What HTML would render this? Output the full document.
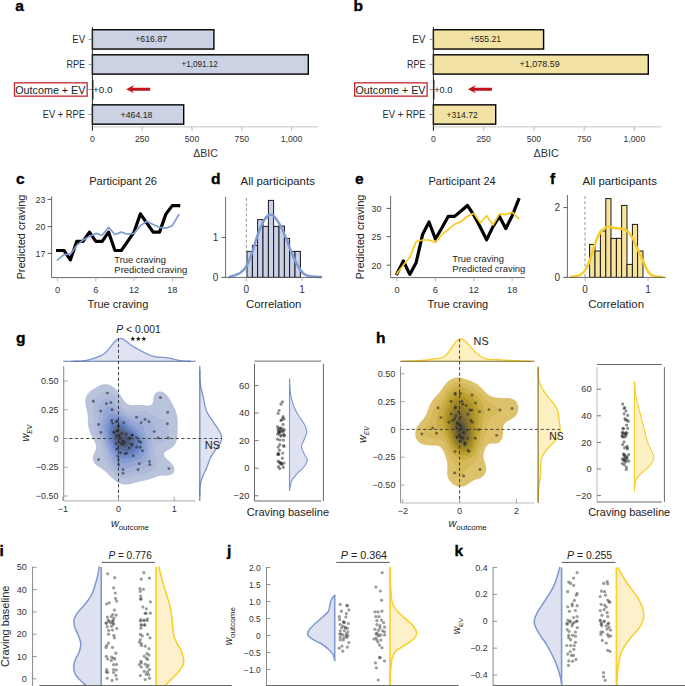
<!DOCTYPE html><html><head><meta charset="utf-8"><style>html,body{margin:0;padding:0;background:#fff;}body{width:685px;height:686px;overflow:hidden;}svg{display:block;}</style></head><body><svg width="685" height="686" viewBox="0 0 685 686" font-family='"Liberation Sans", sans-serif'><defs><clipPath id="c1"><rect x="63.70" y="366.00" width="131.80" height="134.90"/></clipPath><clipPath id="c2"><rect x="400.60" y="366.60" width="133.90" height="136.40"/></clipPath><clipPath id="c3"><rect x="0.00" y="540.00" width="685.00" height="146.00"/></clipPath></defs><text x="15.30" y="10.90" font-size="15.5" font-weight="bold" fill="#000" stroke="#000" stroke-width="0.35">a</text>
<line x1="92.40" y1="126.85" x2="318.09" y2="126.85" stroke="#c4c4c4" stroke-width="1.0"/>
<line x1="92.40" y1="126.85" x2="92.40" y2="130.80" stroke="#b0b0b0" stroke-width="0.9"/>
<text x="92.40" y="142.00" font-size="9.3" text-anchor="middle" fill="#333" textLength="4.81" lengthAdjust="spacingAndGlyphs">0</text>
<line x1="142.20" y1="126.85" x2="142.20" y2="130.80" stroke="#b0b0b0" stroke-width="0.9"/>
<text x="142.20" y="142.00" font-size="9.3" text-anchor="middle" fill="#333" textLength="14.43" lengthAdjust="spacingAndGlyphs">250</text>
<line x1="192.00" y1="126.85" x2="192.00" y2="130.80" stroke="#b0b0b0" stroke-width="0.9"/>
<text x="192.00" y="142.00" font-size="9.3" text-anchor="middle" fill="#333" textLength="14.43" lengthAdjust="spacingAndGlyphs">500</text>
<line x1="241.80" y1="126.85" x2="241.80" y2="130.80" stroke="#b0b0b0" stroke-width="0.9"/>
<text x="241.80" y="142.00" font-size="9.3" text-anchor="middle" fill="#333" textLength="14.43" lengthAdjust="spacingAndGlyphs">750</text>
<line x1="291.60" y1="126.85" x2="291.60" y2="130.80" stroke="#b0b0b0" stroke-width="0.9"/>
<text x="291.60" y="142.00" font-size="9.3" text-anchor="middle" fill="#333" textLength="21.64" lengthAdjust="spacingAndGlyphs">1,000</text>
<text x="193.15" y="157.00" font-size="10.9" fill="#333" textLength="24.70" lengthAdjust="spacingAndGlyphs">&#916;BIC</text>
<rect x="92.40" y="29.75" width="121.50" height="19.30" fill="#cbd2e3" stroke="#000" stroke-width="1.4"/>
<line x1="88.60" y1="39.40" x2="92.40" y2="39.40" stroke="#8a8a8a" stroke-width="0.9"/>
<rect x="92.40" y="54.80" width="215.90" height="19.30" fill="#cbd2e3" stroke="#000" stroke-width="1.4"/>
<line x1="88.60" y1="64.45" x2="92.40" y2="64.45" stroke="#8a8a8a" stroke-width="0.9"/>
<line x1="88.60" y1="89.50" x2="92.40" y2="89.50" stroke="#8a8a8a" stroke-width="0.9"/>
<rect x="92.40" y="104.85" width="91.30" height="19.30" fill="#cbd2e3" stroke="#000" stroke-width="1.4"/>
<line x1="88.60" y1="114.50" x2="92.40" y2="114.50" stroke="#8a8a8a" stroke-width="0.9"/>
<text x="72.25" y="42.90" font-size="10.4" fill="#2a2a2a" textLength="12.80" lengthAdjust="spacingAndGlyphs">EV</text>
<text x="66.45" y="67.95" font-size="10.4" fill="#2a2a2a" textLength="18.60" lengthAdjust="spacingAndGlyphs">RPE</text>
<text x="42.75" y="118.00" font-size="10.4" fill="#2a2a2a" textLength="42.10" lengthAdjust="spacingAndGlyphs">EV + RPE</text>
<line x1="92.75" y1="79.70" x2="92.75" y2="99.50" stroke="#000" stroke-width="1.3"/>
<line x1="92.40" y1="27.00" x2="92.40" y2="130.80" stroke="#2a2a2a" stroke-width="1.0"/>
<rect x="14.45" y="82.85" width="72.70" height="13.30" fill="none" stroke="#c4262e" stroke-width="1.3"/>
<text x="15.25" y="93.50" font-size="10.5" fill="#1a1a1a" textLength="70.20" lengthAdjust="spacingAndGlyphs">Outcome + EV</text>
<text x="135.25" y="42.40" font-size="8.7" fill="#222" textLength="31.90" lengthAdjust="spacingAndGlyphs">+616.87</text>
<text x="181.55" y="67.45" font-size="8.7" fill="#222" textLength="36.30" lengthAdjust="spacingAndGlyphs">+1,091.12</text>
<text x="120.55" y="117.50" font-size="8.7" fill="#222" textLength="31.90" lengthAdjust="spacingAndGlyphs">+464.18</text>
<text x="93.05" y="92.80" font-size="9.8" fill="#222" textLength="19.50" lengthAdjust="spacingAndGlyphs">+0.0</text>
<path d="M126.20 89.2 L134.20 85.1 L132.30 87.75 L150.20 87.75 L150.20 90.65 L132.30 90.65 L134.20 93.3 Z" fill="#c1121f" stroke="none" stroke-width="1"/>
<text x="353.60" y="10.90" font-size="15.5" font-weight="bold" fill="#000" stroke="#000" stroke-width="0.35">b</text>
<line x1="433.40" y1="126.85" x2="661.13" y2="126.85" stroke="#c4c4c4" stroke-width="1.0"/>
<line x1="433.40" y1="126.85" x2="433.40" y2="130.80" stroke="#b0b0b0" stroke-width="0.9"/>
<text x="433.40" y="142.00" font-size="9.3" text-anchor="middle" fill="#333" textLength="4.81" lengthAdjust="spacingAndGlyphs">0</text>
<line x1="483.65" y1="126.85" x2="483.65" y2="130.80" stroke="#b0b0b0" stroke-width="0.9"/>
<text x="483.65" y="142.00" font-size="9.3" text-anchor="middle" fill="#333" textLength="14.43" lengthAdjust="spacingAndGlyphs">250</text>
<line x1="533.90" y1="126.85" x2="533.90" y2="130.80" stroke="#b0b0b0" stroke-width="0.9"/>
<text x="533.90" y="142.00" font-size="9.3" text-anchor="middle" fill="#333" textLength="14.43" lengthAdjust="spacingAndGlyphs">500</text>
<line x1="584.15" y1="126.85" x2="584.15" y2="130.80" stroke="#b0b0b0" stroke-width="0.9"/>
<text x="584.15" y="142.00" font-size="9.3" text-anchor="middle" fill="#333" textLength="14.43" lengthAdjust="spacingAndGlyphs">750</text>
<line x1="634.40" y1="126.85" x2="634.40" y2="130.80" stroke="#b0b0b0" stroke-width="0.9"/>
<text x="634.40" y="142.00" font-size="9.3" text-anchor="middle" fill="#333" textLength="21.64" lengthAdjust="spacingAndGlyphs">1,000</text>
<text x="533.45" y="157.00" font-size="10.9" fill="#333" textLength="25.40" lengthAdjust="spacingAndGlyphs">&#916;BIC</text>
<rect x="433.40" y="29.75" width="110.20" height="19.30" fill="#f2e2a3" stroke="#000" stroke-width="1.4"/>
<line x1="429.60" y1="39.40" x2="433.40" y2="39.40" stroke="#8a8a8a" stroke-width="0.9"/>
<rect x="433.40" y="54.80" width="214.90" height="19.30" fill="#f2e2a3" stroke="#000" stroke-width="1.4"/>
<line x1="429.60" y1="64.45" x2="433.40" y2="64.45" stroke="#8a8a8a" stroke-width="0.9"/>
<line x1="429.60" y1="89.50" x2="433.40" y2="89.50" stroke="#8a8a8a" stroke-width="0.9"/>
<rect x="433.40" y="104.85" width="62.30" height="19.30" fill="#f2e2a3" stroke="#000" stroke-width="1.4"/>
<line x1="429.60" y1="114.50" x2="433.40" y2="114.50" stroke="#8a8a8a" stroke-width="0.9"/>
<text x="412.15" y="42.90" font-size="10.4" fill="#2a2a2a" textLength="13.30" lengthAdjust="spacingAndGlyphs">EV</text>
<text x="406.95" y="67.95" font-size="10.4" fill="#2a2a2a" textLength="18.50" lengthAdjust="spacingAndGlyphs">RPE</text>
<text x="382.55" y="118.00" font-size="10.4" fill="#2a2a2a" textLength="42.90" lengthAdjust="spacingAndGlyphs">EV + RPE</text>
<line x1="433.75" y1="79.70" x2="433.75" y2="99.50" stroke="#000" stroke-width="1.3"/>
<line x1="433.40" y1="27.00" x2="433.40" y2="130.80" stroke="#2a2a2a" stroke-width="1.0"/>
<rect x="354.65" y="82.85" width="72.50" height="13.30" fill="none" stroke="#c4262e" stroke-width="1.3"/>
<text x="355.55" y="93.50" font-size="10.5" fill="#1a1a1a" textLength="69.90" lengthAdjust="spacingAndGlyphs">Outcome + EV</text>
<text x="469.75" y="42.40" font-size="8.7" fill="#222" textLength="31.30" lengthAdjust="spacingAndGlyphs">+555.21</text>
<text x="519.45" y="67.45" font-size="8.7" fill="#222" textLength="40.20" lengthAdjust="spacingAndGlyphs">+1,078.59</text>
<text x="446.55" y="117.50" font-size="8.7" fill="#222" textLength="31.10" lengthAdjust="spacingAndGlyphs">+314.72</text>
<text x="434.15" y="92.80" font-size="9.8" fill="#222" textLength="18.40" lengthAdjust="spacingAndGlyphs">+0.0</text>
<path d="M467.90 89.2 L475.90 85.1 L474.00 87.75 L491.90 87.75 L491.90 90.65 L474.00 90.65 L475.90 93.3 Z" fill="#c1121f" stroke="none" stroke-width="1"/>
<text x="16.00" y="183.60" font-size="15.5" font-weight="bold" fill="#000" stroke="#000" stroke-width="0.35">c</text>
<text x="89.15" y="184.50" font-size="10.8" fill="#222" textLength="67.90" lengthAdjust="spacingAndGlyphs">Participant 26</text>
<line x1="51.60" y1="196.40" x2="51.60" y2="277.60" stroke="#5a5a5a" stroke-width="0.9"/>
<line x1="51.60" y1="277.60" x2="184.30" y2="277.60" stroke="#5a5a5a" stroke-width="0.9"/>
<line x1="47.60" y1="199.40" x2="51.60" y2="199.40" stroke="#444" stroke-width="0.9"/>
<text x="45.30" y="202.90" font-size="9.8" text-anchor="end" fill="#333" textLength="9.81" lengthAdjust="spacingAndGlyphs">23</text>
<line x1="47.60" y1="226.60" x2="51.60" y2="226.60" stroke="#444" stroke-width="0.9"/>
<text x="45.30" y="230.10" font-size="9.8" text-anchor="end" fill="#333" textLength="9.81" lengthAdjust="spacingAndGlyphs">20</text>
<line x1="47.60" y1="253.40" x2="51.60" y2="253.40" stroke="#444" stroke-width="0.9"/>
<text x="45.30" y="256.90" font-size="9.8" text-anchor="end" fill="#333" textLength="9.81" lengthAdjust="spacingAndGlyphs">17</text>
<line x1="57.60" y1="277.60" x2="57.60" y2="281.50" stroke="#b0b0b0" stroke-width="0.9"/>
<text x="57.60" y="292.70" font-size="9.9" text-anchor="middle" fill="#333" textLength="5.12" lengthAdjust="spacingAndGlyphs">0</text>
<line x1="95.82" y1="277.60" x2="95.82" y2="281.50" stroke="#b0b0b0" stroke-width="0.9"/>
<text x="95.82" y="292.70" font-size="9.9" text-anchor="middle" fill="#333" textLength="5.12" lengthAdjust="spacingAndGlyphs">6</text>
<line x1="134.04" y1="277.60" x2="134.04" y2="281.50" stroke="#b0b0b0" stroke-width="0.9"/>
<text x="134.04" y="292.70" font-size="9.9" text-anchor="middle" fill="#333" textLength="10.24" lengthAdjust="spacingAndGlyphs">12</text>
<line x1="172.26" y1="277.60" x2="172.26" y2="281.50" stroke="#b0b0b0" stroke-width="0.9"/>
<text x="172.26" y="292.70" font-size="9.9" text-anchor="middle" fill="#333" textLength="10.24" lengthAdjust="spacingAndGlyphs">18</text>
<text x="87.45" y="307.60" font-size="11.0" fill="#222" textLength="60.90" lengthAdjust="spacingAndGlyphs">True craving</text>
<text transform="translate(25.00 237.0) rotate(-90)" x="0" y="0" font-size="10.6" text-anchor="middle" fill="#222" textLength="85.0" lengthAdjust="spacingAndGlyphs">Predicted craving</text>
<path d="M57.60 250.50 L63.97 250.50 L70.34 259.90 L76.71 241.40 L83.08 241.40 L89.45 232.10 L95.82 241.40 L102.19 241.40 L108.56 232.10 L114.93 250.50 L121.30 250.50 L127.67 241.40 L134.04 232.10 L140.41 213.80 L146.78 223.00 L153.15 232.10 L159.52 232.10 L165.89 214.10 L172.26 205.60 L178.63 205.60" fill="none" stroke="#000" stroke-width="3.2" stroke-linejoin="round" stroke-linecap="square"/>
<path d="M57.60 259.90 L63.97 254.60 L70.34 254.20 L76.71 245.40 L83.08 240.10 L89.45 236.60 L95.82 233.40 L102.19 235.30 L108.56 227.40 L114.93 234.50 L121.30 232.10 L127.67 234.20 L134.04 233.40 L140.41 225.60 L146.78 221.20 L153.15 224.50 L159.52 227.30 L165.89 228.10 L172.26 225.70 L178.63 214.90" fill="none" stroke="#829bd2" stroke-width="1.7" stroke-linejoin="round" stroke-linecap="square"/>
<text x="114.35" y="262.60" font-size="9.3" fill="#222" textLength="51.60" lengthAdjust="spacingAndGlyphs">True craving</text>
<text x="114.35" y="272.70" font-size="9.3" fill="#222" textLength="72.80" lengthAdjust="spacingAndGlyphs">Predicted craving</text>
<text x="355.00" y="183.60" font-size="15.5" font-weight="bold" fill="#000" stroke="#000" stroke-width="0.35">e</text>
<text x="428.45" y="184.50" font-size="10.8" fill="#222" textLength="67.30" lengthAdjust="spacingAndGlyphs">Participant 24</text>
<line x1="390.60" y1="196.00" x2="390.60" y2="277.60" stroke="#5a5a5a" stroke-width="0.9"/>
<line x1="390.60" y1="277.60" x2="524.80" y2="277.60" stroke="#5a5a5a" stroke-width="0.9"/>
<line x1="386.60" y1="208.40" x2="390.60" y2="208.40" stroke="#444" stroke-width="0.9"/>
<text x="381.30" y="211.90" font-size="9.8" text-anchor="end" fill="#333" textLength="9.81" lengthAdjust="spacingAndGlyphs">30</text>
<line x1="386.60" y1="236.60" x2="390.60" y2="236.60" stroke="#444" stroke-width="0.9"/>
<text x="381.30" y="240.10" font-size="9.8" text-anchor="end" fill="#333" textLength="9.81" lengthAdjust="spacingAndGlyphs">25</text>
<line x1="386.60" y1="265.20" x2="390.60" y2="265.20" stroke="#444" stroke-width="0.9"/>
<text x="381.30" y="268.70" font-size="9.8" text-anchor="end" fill="#333" textLength="9.81" lengthAdjust="spacingAndGlyphs">20</text>
<line x1="397.00" y1="277.60" x2="397.00" y2="281.50" stroke="#b0b0b0" stroke-width="0.9"/>
<text x="397.00" y="292.70" font-size="9.9" text-anchor="middle" fill="#333" textLength="5.12" lengthAdjust="spacingAndGlyphs">0</text>
<line x1="435.40" y1="277.60" x2="435.40" y2="281.50" stroke="#b0b0b0" stroke-width="0.9"/>
<text x="435.40" y="292.70" font-size="9.9" text-anchor="middle" fill="#333" textLength="5.12" lengthAdjust="spacingAndGlyphs">6</text>
<line x1="473.80" y1="277.60" x2="473.80" y2="281.50" stroke="#b0b0b0" stroke-width="0.9"/>
<text x="473.80" y="292.70" font-size="9.9" text-anchor="middle" fill="#333" textLength="10.24" lengthAdjust="spacingAndGlyphs">12</text>
<line x1="512.20" y1="277.60" x2="512.20" y2="281.50" stroke="#b0b0b0" stroke-width="0.9"/>
<text x="512.20" y="292.70" font-size="9.9" text-anchor="middle" fill="#333" textLength="10.24" lengthAdjust="spacingAndGlyphs">18</text>
<text x="427.55" y="307.60" font-size="11.0" fill="#222" textLength="60.70" lengthAdjust="spacingAndGlyphs">True craving</text>
<text transform="translate(363.60 237.0) rotate(-90)" x="0" y="0" font-size="10.6" text-anchor="middle" fill="#222" textLength="85.0" lengthAdjust="spacingAndGlyphs">Predicted craving</text>
<path d="M397.00 273.60 L403.40 261.00 L409.80 274.40 L416.20 262.40 L422.60 234.40 L429.00 222.00 L435.40 239.00 L441.80 228.00 L448.20 216.40 L454.60 216.40 L461.00 211.00 L467.40 205.50 L473.80 215.00 L480.20 227.00 L486.60 239.80 L493.00 226.60 L499.40 216.50 L505.80 228.50 L512.20 215.70 L518.60 199.60" fill="none" stroke="#000" stroke-width="3.2" stroke-linejoin="round" stroke-linecap="square"/>
<path d="M397.00 273.60 L403.40 265.00 L409.80 257.00 L416.20 241.60 L422.60 240.00 L429.00 240.00 L435.40 242.40 L441.80 234.60 L448.20 229.50 L454.60 224.20 L461.00 221.60 L467.40 216.50 L473.80 213.20 L480.20 222.90 L486.60 215.70 L493.00 225.00 L499.40 213.80 L505.80 214.60 L512.20 212.20 L518.60 218.60" fill="none" stroke="#f5cb26" stroke-width="1.7" stroke-linejoin="round" stroke-linecap="square"/>
<text x="452.35" y="261.60" font-size="9.3" fill="#222" textLength="51.60" lengthAdjust="spacingAndGlyphs">True craving</text>
<text x="452.35" y="271.70" font-size="9.3" fill="#222" textLength="72.90" lengthAdjust="spacingAndGlyphs">Predicted craving</text>
<text x="211.00" y="183.60" font-size="15.5" font-weight="bold" fill="#000" stroke="#000" stroke-width="0.35">d</text>
<text x="240.55" y="184.50" font-size="10.8" fill="#222" textLength="74.30" lengthAdjust="spacingAndGlyphs">All participants</text>
<rect x="247.00" y="251.40" width="5.40" height="26.00" fill="#c8d1e7" stroke="#1a1a1a" stroke-width="1.0"/>
<rect x="252.40" y="245.40" width="5.20" height="32.00" fill="#c8d1e7" stroke="#1a1a1a" stroke-width="1.0"/>
<rect x="257.60" y="219.60" width="5.40" height="57.80" fill="#c8d1e7" stroke="#1a1a1a" stroke-width="1.0"/>
<rect x="263.00" y="226.40" width="5.40" height="51.00" fill="#c8d1e7" stroke="#1a1a1a" stroke-width="1.0"/>
<rect x="268.40" y="200.40" width="5.20" height="77.00" fill="#c8d1e7" stroke="#1a1a1a" stroke-width="1.0"/>
<rect x="273.60" y="226.40" width="5.40" height="51.00" fill="#c8d1e7" stroke="#1a1a1a" stroke-width="1.0"/>
<rect x="279.00" y="226.00" width="5.40" height="51.40" fill="#c8d1e7" stroke="#1a1a1a" stroke-width="1.0"/>
<rect x="284.40" y="238.40" width="5.20" height="39.00" fill="#c8d1e7" stroke="#1a1a1a" stroke-width="1.0"/>
<rect x="289.60" y="251.40" width="5.40" height="26.00" fill="#c8d1e7" stroke="#1a1a1a" stroke-width="1.0"/>
<rect x="295.00" y="251.40" width="5.40" height="26.00" fill="#c8d1e7" stroke="#1a1a1a" stroke-width="1.0"/>
<line x1="246.40" y1="198.00" x2="246.40" y2="277.40" stroke="#8a8a8a" stroke-width="0.9" stroke-dasharray="3 2.2"/>
<path d="M229.60 277.00 C231.33 276.33 237.27 274.67 240.00 273.00 C242.73 271.33 244.00 270.33 246.00 267.00 C248.00 263.67 250.00 258.50 252.00 253.00 C254.00 247.50 256.00 239.43 258.00 234.00 C260.00 228.57 262.17 223.57 264.00 220.40 C265.83 217.23 267.33 215.67 269.00 215.00 C270.67 214.33 272.17 214.73 274.00 216.40 C275.83 218.07 278.00 221.40 280.00 225.00 C282.00 228.60 284.00 233.17 286.00 238.00 C288.00 242.83 290.00 249.33 292.00 254.00 C294.00 258.67 296.00 262.67 298.00 266.00 C300.00 269.33 301.67 272.23 304.00 274.00 C306.33 275.77 309.17 276.10 312.00 276.60 C314.83 277.10 319.50 276.93 321.00 277.00" fill="none" stroke="#809bd7" stroke-width="2.5" stroke-linecap="round" stroke-linejoin="round"/>
<line x1="225.60" y1="197.00" x2="225.60" y2="277.40" stroke="#5a5a5a" stroke-width="0.9"/>
<line x1="225.60" y1="277.40" x2="321.60" y2="277.40" stroke="#5a5a5a" stroke-width="0.9"/>
<line x1="221.60" y1="277.40" x2="225.60" y2="277.40" stroke="#444" stroke-width="0.9"/>
<text x="218.30" y="281.00" font-size="10.0" text-anchor="end" fill="#333">0</text>
<line x1="221.60" y1="237.40" x2="225.60" y2="237.40" stroke="#444" stroke-width="0.9"/>
<text x="218.30" y="241.00" font-size="10.0" text-anchor="end" fill="#333">1</text>
<line x1="246.40" y1="277.40" x2="246.40" y2="281.40" stroke="#b0b0b0" stroke-width="0.9"/>
<text x="246.40" y="292.60" font-size="10.0" text-anchor="middle" fill="#333">0</text>
<line x1="302.00" y1="277.40" x2="302.00" y2="281.40" stroke="#b0b0b0" stroke-width="0.9"/>
<text x="302.00" y="292.60" font-size="10.0" text-anchor="middle" fill="#333">1</text>
<text x="245.95" y="307.60" font-size="11.0" fill="#222" textLength="55.50" lengthAdjust="spacingAndGlyphs">Correlation</text>
<text x="550.00" y="183.60" font-size="15.5" font-weight="bold" fill="#000" stroke="#000" stroke-width="0.35">f</text>
<text x="582.55" y="184.50" font-size="10.8" fill="#222" textLength="74.30" lengthAdjust="spacingAndGlyphs">All participants</text>
<rect x="589.60" y="244.40" width="5.40" height="33.00" fill="#f7e39a" stroke="#1a1a1a" stroke-width="1.0"/>
<rect x="595.00" y="251.00" width="5.40" height="26.40" fill="#f7e39a" stroke="#1a1a1a" stroke-width="1.0"/>
<rect x="600.40" y="231.00" width="5.40" height="46.40" fill="#f7e39a" stroke="#1a1a1a" stroke-width="1.0"/>
<rect x="605.80" y="198.60" width="5.20" height="78.80" fill="#f7e39a" stroke="#1a1a1a" stroke-width="1.0"/>
<rect x="611.00" y="238.40" width="5.40" height="39.00" fill="#f7e39a" stroke="#1a1a1a" stroke-width="1.0"/>
<rect x="616.40" y="238.40" width="5.20" height="39.00" fill="#f7e39a" stroke="#1a1a1a" stroke-width="1.0"/>
<rect x="621.60" y="205.40" width="5.40" height="72.00" fill="#f7e39a" stroke="#1a1a1a" stroke-width="1.0"/>
<rect x="627.00" y="264.40" width="5.40" height="13.00" fill="#f7e39a" stroke="#1a1a1a" stroke-width="1.0"/>
<rect x="632.40" y="224.40" width="5.20" height="53.00" fill="#f7e39a" stroke="#1a1a1a" stroke-width="1.0"/>
<rect x="637.60" y="251.00" width="5.40" height="26.40" fill="#f7e39a" stroke="#1a1a1a" stroke-width="1.0"/>
<line x1="585.00" y1="196.00" x2="585.00" y2="277.40" stroke="#8a8a8a" stroke-width="0.9" stroke-dasharray="3 2.2"/>
<path d="M571.00 277.00 C572.50 276.67 577.50 276.33 580.00 275.00 C582.50 273.67 584.00 272.50 586.00 269.00 C588.00 265.50 590.00 259.50 592.00 254.00 C594.00 248.50 596.00 240.23 598.00 236.00 C600.00 231.77 602.17 230.17 604.00 228.60 C605.83 227.03 607.33 226.70 609.00 226.60 C610.67 226.50 612.17 227.67 614.00 228.00 C615.83 228.33 618.00 228.27 620.00 228.60 C622.00 228.93 624.00 228.60 626.00 230.00 C628.00 231.40 630.00 233.67 632.00 237.00 C634.00 240.33 636.17 246.00 638.00 250.00 C639.83 254.00 641.17 257.17 643.00 261.00 C644.83 264.83 647.00 270.43 649.00 273.00 C651.00 275.57 652.83 275.73 655.00 276.40 C657.17 277.07 660.83 276.90 662.00 277.00" fill="none" stroke="#f6cd2a" stroke-width="2.5" stroke-linecap="round" stroke-linejoin="round"/>
<line x1="567.40" y1="195.00" x2="567.40" y2="277.40" stroke="#5a5a5a" stroke-width="0.9"/>
<line x1="567.40" y1="277.40" x2="665.60" y2="277.40" stroke="#5a5a5a" stroke-width="0.9"/>
<line x1="563.40" y1="277.40" x2="567.40" y2="277.40" stroke="#444" stroke-width="0.9"/>
<text x="560.00" y="281.00" font-size="10.0" text-anchor="end" fill="#333">0</text>
<line x1="563.40" y1="207.60" x2="567.40" y2="207.60" stroke="#444" stroke-width="0.9"/>
<text x="560.00" y="211.20" font-size="10.0" text-anchor="end" fill="#333">2</text>
<line x1="585.00" y1="277.40" x2="585.00" y2="281.40" stroke="#b0b0b0" stroke-width="0.9"/>
<text x="585.00" y="292.60" font-size="10.0" text-anchor="middle" fill="#333">0</text>
<line x1="648.00" y1="277.40" x2="648.00" y2="281.40" stroke="#b0b0b0" stroke-width="0.9"/>
<text x="648.00" y="292.60" font-size="10.0" text-anchor="middle" fill="#333">1</text>
<text x="588.15" y="307.60" font-size="11.0" fill="#222" textLength="55.90" lengthAdjust="spacingAndGlyphs">Correlation</text>
<text x="16.00" y="343.00" font-size="15.5" font-weight="bold" fill="#000" stroke="#000" stroke-width="0.35">g</text>
<g clip-path="url(#c1)"><path d="M101.7 384.7L102.4 384.5 103.0 384.4 103.6 384.3 104.3 384.2 104.9 384.2 105.5 384.2 106.2 384.2 106.8 384.3 107.4 384.4 108.1 384.5 108.7 384.7 108.9 384.8 109.3 384.9 109.9 385.1 110.6 385.4 110.6 385.4 111.2 385.7 111.8 386.1 111.9 386.1 112.5 386.4 113.0 386.8 113.1 386.9 113.7 387.3 113.9 387.5 114.4 387.8 114.7 388.1 115.0 388.4 115.4 388.8 115.6 389.0 116.1 389.5 116.3 389.6 116.7 390.1 116.9 390.3 117.3 390.8 117.5 391.0 117.9 391.5 118.2 391.8 118.4 392.1 118.8 392.7 118.9 392.8 119.3 393.5 119.4 393.6 119.8 394.1 120.1 394.5 120.2 394.8 120.7 395.5 120.7 395.5 121.1 396.1 121.3 396.5 121.5 396.8 121.9 397.5 121.9 397.5 122.3 398.1 122.6 398.5 122.8 398.8 123.2 399.5 123.2 399.5 123.7 400.2 123.8 400.3 124.2 400.8 124.5 401.1 124.8 401.5 125.1 401.9 125.4 402.2 125.7 402.5 126.1 402.8 126.4 403.0 127.0 403.5 127.0 403.5 127.6 403.9 128.1 404.2 128.3 404.2 128.9 404.5 129.5 404.7 130.1 404.8 130.2 404.8 130.8 404.9 131.4 405.0 132.0 405.0 132.7 405.0 133.3 405.0 133.9 405.0 134.6 405.0 135.2 405.0 135.8 404.9 136.5 404.9 137.1 404.9 137.7 404.9 138.4 404.9 139.0 404.9 139.6 404.9 140.3 404.9 140.9 404.9 141.5 405.0 142.1 405.0 142.8 405.1 143.4 405.1 144.0 405.2 144.7 405.3 145.3 405.3 145.9 405.4 146.6 405.4 147.2 405.5 147.5 405.5 147.8 405.5 148.5 405.5 148.8 405.5 149.1 405.5 149.7 405.4 150.4 405.2 151.0 405.0 151.3 404.8 151.6 404.5 152.0 404.2 152.3 403.8 152.4 403.5 152.7 402.8 152.8 402.2 152.9 402.0 153.0 401.5 153.1 400.8 153.2 400.2 153.2 399.5 153.3 398.8 153.4 398.1 153.5 397.5 153.5 397.5 153.7 396.8 153.8 396.1 154.1 395.5 154.1 395.3 154.4 394.8 154.7 394.1 154.8 394.1 155.2 393.5 155.4 393.2 155.8 392.8 156.0 392.6 156.7 392.2 156.8 392.1 157.3 391.9 157.9 391.6 158.6 391.5 158.8 391.5 159.2 391.4 159.8 391.4 160.4 391.5 160.5 391.5 161.1 391.6 161.7 391.8 162.4 392.0 162.7 392.1 163.0 392.3 163.6 392.6 163.9 392.8 164.2 393.0 164.9 393.5 164.9 393.5 165.5 394.0 165.7 394.1 166.1 394.6 166.4 394.8 166.8 395.2 167.0 395.5 167.4 396.0 167.5 396.1 168.0 396.8 168.1 396.8 168.6 397.5 168.7 397.6 169.0 398.1 169.3 398.6 169.5 398.8 169.9 399.5 169.9 399.6 170.3 400.2 170.6 400.6 170.7 400.8 171.1 401.5 171.2 401.7 171.4 402.2 171.8 402.8 171.8 402.8 172.2 403.5 172.5 404.0 172.6 404.2 172.9 404.8 173.1 405.2 173.3 405.5 173.6 406.2 173.7 406.4 173.9 406.8 174.3 407.5 174.3 407.7 174.6 408.2 174.9 408.8 175.0 409.1 175.2 409.5 175.4 410.2 175.6 410.7 175.7 410.9 175.9 411.5 176.1 412.2 176.2 412.5 176.4 412.9 176.5 413.5 176.7 414.2 176.9 414.9 176.9 414.9 177.0 415.5 177.1 416.2 177.3 416.9 177.3 417.5 177.4 418.2 177.5 418.9 177.5 419.0 177.6 419.5 177.6 420.2 177.6 420.9 177.7 421.5 177.7 422.2 177.7 422.9 177.7 423.6 177.7 424.2 177.7 424.9 177.7 425.6 177.7 426.2 177.7 426.9 177.7 427.6 177.7 428.2 177.6 428.9 177.6 429.6 177.6 430.2 177.6 430.9 177.6 431.6 177.6 432.2 177.6 432.9 177.5 433.6 177.5 434.3 177.5 434.3 177.5 434.9 177.4 435.6 177.4 436.3 177.3 436.9 177.2 437.6 177.1 438.3 177.0 438.9 176.9 439.6 176.9 439.7 176.7 440.3 176.5 440.9 176.3 441.6 176.2 441.8 176.0 442.3 175.7 442.9 175.6 443.2 175.4 443.6 175.0 444.3 175.0 444.3 174.5 445.0 174.3 445.2 174.0 445.6 173.7 445.9 173.4 446.3 173.1 446.6 172.7 447.0 172.5 447.2 171.9 447.6 171.8 447.7 171.2 448.2 171.0 448.3 170.6 448.6 170.0 449.0 169.9 449.0 169.3 449.4 168.9 449.6 168.7 449.8 168.0 450.1 167.7 450.3 167.4 450.5 166.8 450.9 166.6 451.0 166.1 451.3 165.6 451.6 165.5 451.8 165.0 452.3 164.9 452.4 164.5 453.0 164.3 453.6 164.2 453.8 164.2 454.3 164.2 454.9 164.3 455.0 164.4 455.6 164.7 456.3 164.9 456.5 165.1 457.0 165.5 457.5 165.7 457.7 166.1 458.2 166.3 458.3 166.8 458.8 166.9 459.0 167.4 459.4 167.7 459.7 168.0 459.9 168.5 460.3 168.7 460.5 169.3 461.0 169.3 461.0 169.9 461.5 170.1 461.7 170.6 462.1 170.8 462.3 171.2 462.8 171.4 463.0 171.8 463.5 172.0 463.7 172.5 464.2 172.5 464.3 173.0 465.0 173.1 465.2 173.3 465.7 173.7 466.3 173.7 466.5 173.9 467.0 174.1 467.7 174.3 468.4 174.3 468.9 174.4 469.0 174.4 469.7 174.3 470.1 174.3 470.4 174.2 471.0 174.0 471.7 173.7 472.3 173.7 472.4 173.3 473.0 173.1 473.2 172.6 473.7 172.5 473.9 171.8 474.3 171.7 474.4 171.2 474.6 170.6 474.9 170.1 475.0 169.9 475.1 169.3 475.2 168.7 475.3 168.0 475.4 167.4 475.4 166.8 475.4 166.1 475.4 165.5 475.4 164.9 475.4 164.2 475.5 163.6 475.5 163.0 475.5 162.4 475.6 161.7 475.6 161.1 475.7 161.1 475.7 160.5 475.8 159.8 476.0 159.2 476.1 158.6 476.3 158.2 476.4 157.9 476.5 157.3 476.6 156.7 476.8 156.1 477.0 156.0 477.1 155.4 477.3 154.8 477.5 154.1 477.7 154.1 477.7 153.5 477.9 152.9 478.1 152.3 478.3 152.2 478.4 151.6 478.6 151.0 478.8 150.4 479.0 150.1 479.0 149.7 479.2 149.1 479.3 148.5 479.5 147.8 479.7 147.8 479.7 147.2 479.9 146.6 480.0 145.9 480.2 145.3 480.3 145.2 480.4 144.7 480.5 144.0 480.6 143.4 480.8 142.8 480.9 142.1 481.0 142.1 481.1 141.5 481.2 140.9 481.3 140.3 481.5 139.6 481.6 139.0 481.7 139.0 481.7 138.4 481.9 137.7 482.0 137.1 482.2 136.5 482.4 136.4 482.4 135.8 482.6 135.2 482.7 134.6 482.9 134.1 483.1 133.9 483.1 133.3 483.3 132.7 483.5 132.0 483.7 131.8 483.7 131.4 483.8 130.8 484.0 130.2 484.1 129.5 484.3 128.9 484.4 128.8 484.4 128.3 484.5 127.6 484.6 127.0 484.6 126.4 484.6 125.7 484.6 125.1 484.6 124.5 484.6 123.8 484.5 123.3 484.4 123.2 484.4 122.6 484.3 121.9 484.1 121.3 483.9 120.7 483.7 120.7 483.7 120.1 483.5 119.4 483.2 119.0 483.1 118.8 482.9 118.2 482.6 117.7 482.4 117.5 482.3 116.9 481.9 116.6 481.7 116.3 481.5 115.6 481.1 115.6 481.1 115.0 480.6 114.7 480.4 114.4 480.1 113.9 479.7 113.7 479.6 113.1 479.0 113.1 479.0 112.5 478.5 112.4 478.4 111.8 477.9 111.7 477.7 111.2 477.3 111.0 477.0 110.6 476.6 110.3 476.4 109.9 476.0 109.7 475.7 109.3 475.3 109.0 475.0 108.7 474.7 108.4 474.4 108.1 474.0 107.7 473.7 107.4 473.4 107.1 473.0 106.8 472.8 106.4 472.4 106.2 472.2 105.6 471.7 105.5 471.6 104.9 471.1 104.9 471.0 104.3 470.5 104.0 470.4 103.6 470.1 103.1 469.7 103.0 469.6 102.4 469.2 102.1 469.0 101.7 468.8 101.1 468.4 101.1 468.4 100.5 468.0 100.0 467.7 99.8 467.6 99.2 467.2 98.9 467.0 98.6 466.8 98.0 466.4 97.9 466.3 97.3 465.9 97.0 465.7 96.7 465.4 96.2 465.0 96.1 464.8 95.6 464.3 95.4 464.2 95.0 463.7 94.8 463.4 94.5 463.0 94.2 462.5 94.1 462.3 93.7 461.7 93.5 461.2 93.4 461.0 93.2 460.3 93.0 459.7 92.9 459.0 92.9 458.7 92.9 458.3 92.9 457.7 92.9 457.3 92.9 457.0 93.0 456.3 93.2 455.6 93.4 455.0 93.5 454.7 93.7 454.3 94.0 453.6 94.2 453.3 94.3 453.0 94.7 452.3 94.8 452.1 95.0 451.6 95.3 451.0 95.4 450.7 95.6 450.3 95.8 449.6 96.0 449.0 96.1 448.5 96.1 448.3 96.1 447.6 96.1 447.0 96.1 446.3 96.1 446.0 96.0 445.6 95.9 445.0 95.7 444.3 95.5 443.6 95.4 443.5 95.2 442.9 94.9 442.3 94.8 442.0 94.6 441.6 94.3 440.9 94.2 440.7 93.9 440.3 93.6 439.6 93.5 439.5 93.2 438.9 92.9 438.4 92.9 438.3 92.5 437.6 92.3 437.2 92.1 436.9 91.8 436.3 91.6 436.0 91.4 435.6 91.1 434.9 91.0 434.8 90.7 434.3 90.4 433.6 90.4 433.4 90.2 432.9 89.9 432.2 89.7 431.9 89.6 431.6 89.4 430.9 89.2 430.2 89.1 430.0 89.0 429.6 88.8 428.9 88.7 428.2 88.5 427.6 88.5 427.3 88.4 426.9 88.3 426.2 88.2 425.6 88.1 424.9 88.1 424.2 88.0 423.6 88.0 422.9 88.0 422.2 88.0 421.5 87.9 420.9 87.9 420.2 87.9 419.5 87.9 418.9 87.9 418.2 87.9 417.5 87.9 417.5 87.8 416.9 87.8 416.2 87.7 415.5 87.6 414.9 87.5 414.2 87.4 413.5 87.3 412.9 87.2 412.3 87.2 412.2 87.1 411.5 86.9 410.9 86.8 410.2 86.6 409.5 86.6 409.5 86.4 408.8 86.3 408.2 86.1 407.5 86.0 406.8 86.0 406.8 85.8 406.2 85.7 405.5 85.6 404.8 85.5 404.2 85.4 403.5 85.3 403.0 85.3 402.8 85.3 402.2 85.3 401.5 85.3 400.8 85.3 400.2 85.3 400.0 85.4 399.5 85.5 398.8 85.6 398.1 85.8 397.5 86.0 397.2 86.1 396.8 86.4 396.1 86.6 395.7 86.7 395.5 87.1 394.8 87.2 394.7 87.6 394.1 87.9 393.8 88.1 393.5 88.5 393.1 88.7 392.8 89.1 392.4 89.4 392.1 89.7 391.8 90.2 391.5 90.4 391.3 91.0 390.8 91.0 390.8 91.6 390.3 91.9 390.1 92.3 389.9 92.9 389.5 92.9 389.4 93.5 389.0 93.9 388.8 94.2 388.6 94.8 388.2 94.9 388.1 95.4 387.8 96.0 387.5 96.1 387.4 96.7 387.0 97.1 386.8 97.3 386.6 98.0 386.3 98.3 386.1 98.6 386.0 99.2 385.6 99.7 385.4 99.8 385.4 100.5 385.1 101.1 384.9 101.5 384.8Z" fill="#bac3dc"/><path d="M103.0 392.0L103.6 391.9 104.3 391.7 104.9 391.6 105.5 391.6 106.2 391.6 106.8 391.6 107.4 391.7 108.1 391.8 108.7 392.0 109.0 392.1 109.3 392.2 109.9 392.5 110.5 392.8 110.6 392.9 111.2 393.2 111.5 393.5 111.8 393.7 112.4 394.1 112.5 394.2 113.1 394.7 113.2 394.8 113.7 395.4 113.9 395.5 114.4 396.0 114.5 396.1 115.0 396.8 115.0 396.8 115.6 397.5 115.6 397.6 116.1 398.1 116.3 398.4 116.5 398.8 116.9 399.3 117.0 399.5 117.5 400.2 117.5 400.2 117.9 400.8 118.2 401.2 118.4 401.5 118.8 402.1 118.8 402.2 119.3 402.8 119.4 403.0 119.8 403.5 120.1 403.9 120.3 404.2 120.7 404.7 120.8 404.8 121.3 405.5 121.3 405.5 121.9 406.2 121.9 406.2 122.6 406.8 122.6 406.8 123.2 407.4 123.3 407.5 123.8 408.0 124.1 408.2 124.5 408.5 125.0 408.8 125.1 409.0 125.7 409.4 126.0 409.5 126.4 409.8 127.0 410.1 127.1 410.2 127.6 410.4 128.3 410.7 128.7 410.9 128.9 410.9 129.5 411.1 130.2 411.2 130.8 411.3 131.4 411.4 132.0 411.4 132.7 411.4 133.3 411.4 133.9 411.4 134.6 411.3 135.2 411.2 135.8 411.1 136.5 411.0 137.1 411.0 137.7 410.9 138.4 410.9 138.4 410.9 139.0 410.8 139.6 410.8 140.3 410.8 140.9 410.8 141.1 410.9 141.5 410.9 142.1 410.9 142.8 411.0 143.4 411.1 144.0 411.3 144.7 411.4 145.0 411.5 145.3 411.6 145.9 411.8 146.6 412.0 147.1 412.2 147.2 412.2 147.8 412.5 148.5 412.8 148.7 412.9 149.1 413.1 149.7 413.4 150.1 413.5 150.4 413.7 151.0 414.0 151.3 414.2 151.6 414.4 152.3 414.7 152.5 414.9 152.9 415.1 153.5 415.4 153.7 415.5 154.1 415.8 154.8 416.2 154.8 416.2 155.4 416.5 156.0 416.9 156.0 416.9 156.7 417.2 157.3 417.5 157.3 417.5 157.9 417.8 158.6 418.1 158.9 418.2 159.2 418.3 159.8 418.5 160.5 418.7 161.0 418.9 161.1 418.9 161.7 419.0 162.4 419.2 163.0 419.3 163.6 419.5 163.7 419.5 164.2 419.7 164.9 420.1 165.1 420.2 165.5 420.6 165.8 420.9 166.1 421.3 166.3 421.5 166.6 422.2 166.8 422.5 166.9 422.9 167.2 423.6 167.4 424.2 167.4 424.2 167.6 424.9 167.8 425.6 167.9 426.2 168.0 426.7 168.1 426.9 168.2 427.6 168.3 428.2 168.4 428.9 168.5 429.6 168.6 430.2 168.7 430.7 168.7 430.9 168.7 431.6 168.8 432.2 168.8 432.9 168.8 433.6 168.8 434.3 168.7 434.9 168.7 435.2 168.6 435.6 168.5 436.3 168.3 436.9 168.0 437.5 168.0 437.6 167.7 438.3 167.4 438.7 167.3 438.9 166.8 439.6 166.7 439.6 166.1 440.2 166.1 440.3 165.5 440.7 165.2 440.9 164.9 441.1 164.2 441.5 164.0 441.6 163.6 441.8 163.0 442.1 162.4 442.3 162.4 442.3 161.7 442.5 161.1 442.8 160.6 442.9 160.5 443.0 159.8 443.2 159.2 443.5 158.9 443.6 158.6 443.8 157.9 444.2 157.8 444.3 157.3 444.7 157.1 445.0 156.7 445.4 156.5 445.6 156.1 446.3 156.0 446.4 155.8 447.0 155.6 447.6 155.4 448.3 155.4 448.3 155.3 449.0 155.2 449.6 155.1 450.3 155.1 451.0 155.1 451.6 155.1 452.3 155.1 453.0 155.2 453.6 155.3 454.3 155.4 455.0 155.4 455.1 155.5 455.6 155.6 456.3 155.8 457.0 155.9 457.7 156.0 458.2 156.1 458.3 156.2 459.0 156.4 459.7 156.5 460.3 156.7 461.0 156.7 461.1 156.8 461.7 156.9 462.3 156.9 463.0 156.9 463.7 156.9 464.3 156.8 465.0 156.7 465.7 156.7 465.7 156.5 466.3 156.2 467.0 156.0 467.2 155.8 467.7 155.4 468.2 155.3 468.4 154.8 469.0 154.7 469.0 154.1 469.6 154.0 469.7 153.5 470.1 153.2 470.4 152.9 470.6 152.3 471.0 152.2 471.0 151.6 471.4 151.1 471.7 151.0 471.7 150.4 472.1 149.7 472.3 149.7 472.4 149.1 472.6 148.5 472.9 148.0 473.0 147.8 473.1 147.2 473.3 146.6 473.5 145.9 473.7 145.9 473.7 145.3 473.9 144.7 474.0 144.0 474.2 143.4 474.3 143.1 474.4 142.8 474.4 142.1 474.6 141.5 474.7 140.9 474.8 140.3 474.9 139.6 475.0 139.5 475.0 139.0 475.1 138.4 475.3 137.7 475.4 137.1 475.5 136.5 475.7 136.2 475.7 135.8 475.8 135.2 476.0 134.6 476.2 133.9 476.3 133.8 476.4 133.3 476.5 132.7 476.8 132.0 477.0 131.8 477.0 131.4 477.2 130.8 477.4 130.2 477.6 129.8 477.7 129.5 477.8 128.9 478.0 128.3 478.1 127.6 478.3 127.1 478.4 127.0 478.4 126.4 478.5 125.7 478.5 125.1 478.5 124.5 478.5 123.8 478.5 123.2 478.4 123.0 478.4 122.6 478.3 121.9 478.1 121.3 478.0 120.7 477.7 120.6 477.7 120.1 477.5 119.4 477.2 119.2 477.0 118.8 476.8 118.2 476.5 118.0 476.4 117.5 476.1 117.0 475.7 116.9 475.6 116.3 475.1 116.2 475.0 115.6 474.6 115.4 474.4 115.0 474.0 114.7 473.7 114.4 473.4 114.0 473.0 113.7 472.7 113.4 472.4 113.1 472.0 112.8 471.7 112.5 471.3 112.2 471.0 111.8 470.6 111.7 470.4 111.2 469.8 111.1 469.7 110.6 469.0 110.6 468.9 110.1 468.4 109.9 468.1 109.6 467.7 109.3 467.2 109.2 467.0 108.7 466.3 108.7 466.3 108.2 465.7 108.1 465.4 107.8 465.0 107.4 464.4 107.4 464.3 107.0 463.7 106.8 463.4 106.6 463.0 106.2 462.3 106.2 462.2 105.9 461.7 105.5 461.0 105.5 461.0 105.2 460.3 105.0 459.7 104.9 459.5 104.7 459.0 104.5 458.3 104.3 457.7 104.3 457.5 104.1 457.0 104.0 456.3 103.8 455.6 103.7 455.0 103.6 454.6 103.6 454.3 103.5 453.6 103.3 453.0 103.2 452.3 103.1 451.6 103.0 451.0 103.0 451.0 102.9 450.3 102.7 449.6 102.6 449.0 102.4 448.3 102.4 448.0 102.3 447.6 102.1 447.0 101.9 446.3 101.7 445.8 101.7 445.6 101.5 445.0 101.2 444.3 101.1 443.9 101.0 443.6 100.7 442.9 100.5 442.3 100.5 442.3 100.2 441.6 99.9 440.9 99.8 440.9 99.5 440.3 99.2 439.6 99.2 439.6 98.9 438.9 98.6 438.3 98.6 438.3 98.2 437.6 98.0 437.0 97.9 436.9 97.6 436.3 97.3 435.7 97.2 435.6 96.9 434.9 96.7 434.4 96.6 434.3 96.3 433.6 96.1 433.0 96.0 432.9 95.8 432.2 95.5 431.6 95.4 431.3 95.3 430.9 95.1 430.2 94.9 429.6 94.8 429.2 94.7 428.9 94.6 428.2 94.4 427.6 94.3 426.9 94.2 426.2 94.2 425.6 94.2 425.4 94.1 424.9 94.1 424.2 94.1 423.6 94.1 422.9 94.1 422.2 94.1 421.5 94.1 420.9 94.1 420.2 94.1 419.5 94.2 418.9 94.2 418.2 94.2 418.2 94.2 417.5 94.2 416.9 94.2 416.9 94.1 416.2 94.1 415.5 94.1 414.9 94.0 414.2 94.0 413.5 93.9 412.9 93.8 412.2 93.7 411.5 93.6 410.9 93.5 410.5 93.5 410.2 93.4 409.5 93.3 408.8 93.2 408.2 93.1 407.5 93.0 406.8 92.9 406.2 92.9 406.2 92.8 405.5 92.8 404.8 92.8 404.2 92.9 403.5 92.9 403.1 92.9 402.8 93.0 402.2 93.2 401.5 93.4 400.8 93.5 400.5 93.7 400.2 94.0 399.5 94.2 399.2 94.4 398.8 94.8 398.2 94.8 398.1 95.3 397.5 95.4 397.4 95.9 396.8 96.1 396.7 96.6 396.1 96.7 396.0 97.3 395.5 97.3 395.5 98.0 394.9 98.1 394.8 98.6 394.4 99.0 394.1 99.2 394.0 99.8 393.6 100.0 393.5 100.5 393.2 101.1 392.9 101.2 392.8 101.7 392.5 102.4 392.3 102.8 392.1Z" fill="#b0bbda"/><path d="M106.2 398.1L106.8 398.1 107.4 398.1 107.6 398.1 108.1 398.2 108.7 398.4 109.3 398.7 109.6 398.8 109.9 399.0 110.6 399.4 110.7 399.5 111.2 399.9 111.6 400.2 111.8 400.4 112.3 400.8 112.5 401.0 113.0 401.5 113.1 401.6 113.6 402.2 113.7 402.3 114.2 402.8 114.4 403.0 114.8 403.5 115.0 403.8 115.3 404.2 115.6 404.5 115.9 404.8 116.3 405.2 116.5 405.5 116.9 405.9 117.1 406.2 117.5 406.6 117.7 406.8 118.2 407.3 118.4 407.5 118.8 407.9 119.1 408.2 119.4 408.5 119.8 408.8 120.1 409.1 120.5 409.5 120.7 409.6 121.3 410.2 121.3 410.2 121.9 410.7 122.2 410.9 122.6 411.2 123.0 411.5 123.2 411.6 123.8 412.1 124.0 412.2 124.5 412.5 124.9 412.9 125.1 413.0 125.7 413.4 126.0 413.5 126.4 413.8 127.0 414.1 127.1 414.2 127.6 414.5 128.3 414.8 128.3 414.9 128.9 415.1 129.5 415.4 129.8 415.5 130.2 415.7 130.8 415.9 131.4 416.1 131.8 416.2 132.0 416.3 132.7 416.4 133.3 416.5 133.9 416.5 134.6 416.5 135.2 416.5 135.8 416.5 136.5 416.4 137.1 416.4 137.7 416.3 138.4 416.2 138.4 416.2 139.0 416.1 139.6 416.1 140.3 416.1 140.9 416.0 141.5 416.1 142.1 416.1 142.6 416.2 142.8 416.2 143.4 416.4 144.0 416.5 144.7 416.7 145.1 416.9 145.3 417.0 145.9 417.2 146.5 417.5 146.6 417.6 147.2 417.9 147.6 418.2 147.8 418.3 148.5 418.8 148.5 418.9 149.1 419.3 149.3 419.5 149.7 419.9 150.0 420.2 150.4 420.5 150.7 420.9 151.0 421.2 151.3 421.5 151.6 422.0 151.8 422.2 152.3 422.9 152.3 422.9 152.7 423.6 152.9 423.9 153.1 424.2 153.5 424.9 153.5 424.9 153.8 425.6 154.1 426.2 154.2 426.2 154.4 426.9 154.7 427.6 154.8 427.8 154.9 428.2 155.1 428.9 155.2 429.6 155.3 430.2 155.3 430.9 155.2 431.6 155.0 432.2 154.8 432.9 154.8 432.9 154.4 433.6 154.1 434.0 154.0 434.3 153.6 434.9 153.5 435.0 153.2 435.6 152.9 436.2 152.8 436.3 152.6 436.9 152.3 437.6 152.3 437.8 152.1 438.3 152.0 438.9 151.8 439.6 151.7 440.3 151.6 440.9 151.6 440.9 151.5 441.6 151.5 442.3 151.4 442.9 151.4 443.6 151.3 444.3 151.3 445.0 151.3 445.6 151.2 446.3 151.2 447.0 151.2 447.6 151.1 448.3 151.1 449.0 151.1 449.6 151.1 450.3 151.1 451.0 151.1 451.6 151.1 452.3 151.1 453.0 151.1 453.6 151.1 454.3 151.2 455.0 151.2 455.6 151.2 456.3 151.2 457.0 151.2 457.7 151.3 458.3 151.3 459.0 151.2 459.7 151.2 460.3 151.1 461.0 151.0 461.7 151.0 461.9 150.9 462.3 150.7 463.0 150.5 463.7 150.4 463.9 150.1 464.3 149.7 465.0 149.7 465.0 149.2 465.7 149.1 465.8 148.6 466.3 148.5 466.4 147.8 466.9 147.7 467.0 147.2 467.4 146.6 467.7 146.6 467.7 145.9 468.0 145.3 468.3 145.2 468.4 144.7 468.6 144.0 468.8 143.4 469.0 143.2 469.0 142.8 469.1 142.1 469.3 141.5 469.4 140.9 469.6 140.3 469.7 140.2 469.7 139.6 469.8 139.0 469.9 138.4 470.0 137.7 470.1 137.1 470.2 136.5 470.4 136.5 470.4 135.8 470.5 135.2 470.6 134.6 470.8 133.9 471.0 133.7 471.0 133.3 471.1 132.7 471.4 132.0 471.6 131.7 471.7 131.4 471.8 130.8 472.0 130.2 472.3 129.9 472.4 129.5 472.5 128.9 472.7 128.3 473.0 128.1 473.0 127.6 473.2 127.0 473.3 126.4 473.5 125.7 473.6 125.1 473.7 124.6 473.7 124.5 473.7 123.8 473.7 123.8 473.7 123.2 473.6 122.6 473.6 121.9 473.4 121.3 473.2 120.8 473.0 120.7 473.0 120.1 472.7 119.4 472.4 119.4 472.4 118.8 472.0 118.3 471.7 118.2 471.6 117.5 471.1 117.4 471.0 116.9 470.6 116.6 470.4 116.3 470.0 115.9 469.7 115.6 469.4 115.3 469.0 115.0 468.7 114.7 468.4 114.4 468.0 114.1 467.7 113.7 467.2 113.6 467.0 113.1 466.3 113.1 466.3 112.6 465.7 112.5 465.4 112.2 465.0 111.8 464.5 111.8 464.3 111.3 463.7 111.2 463.4 111.0 463.0 110.6 462.3 110.6 462.3 110.2 461.7 109.9 461.1 109.9 461.0 109.5 460.3 109.3 459.8 109.2 459.7 108.9 459.0 108.7 458.4 108.7 458.3 108.4 457.7 108.1 457.0 108.1 456.8 107.9 456.3 107.7 455.6 107.4 455.0 107.4 454.9 107.2 454.3 107.0 453.6 106.8 453.0 106.8 452.9 106.6 452.3 106.4 451.6 106.2 451.0 106.2 450.8 106.0 450.3 105.8 449.6 105.6 449.0 105.5 448.6 105.4 448.3 105.2 447.6 105.0 447.0 104.9 446.6 104.8 446.3 104.6 445.6 104.3 445.0 104.3 444.7 104.1 444.3 103.9 443.6 103.6 443.0 103.6 442.9 103.4 442.3 103.1 441.6 103.0 441.3 102.9 440.9 102.6 440.3 102.4 439.7 102.3 439.6 102.0 438.9 101.8 438.3 101.7 438.2 101.5 437.6 101.2 436.9 101.1 436.6 100.9 436.3 100.7 435.6 100.5 435.1 100.4 434.9 100.2 434.3 99.9 433.6 99.8 433.4 99.7 432.9 99.5 432.2 99.3 431.6 99.2 431.4 99.1 430.9 98.9 430.2 98.8 429.6 98.6 428.9 98.6 428.6 98.5 428.2 98.4 427.6 98.3 426.9 98.3 426.2 98.3 425.6 98.2 424.9 98.2 424.2 98.3 423.6 98.3 422.9 98.3 422.2 98.4 421.5 98.4 420.9 98.5 420.2 98.5 419.5 98.6 419.1 98.6 418.9 98.7 418.2 98.7 417.5 98.8 416.9 98.8 416.2 98.9 415.5 98.9 414.9 98.9 414.2 98.9 413.5 98.9 412.9 98.9 412.2 98.9 411.5 98.9 410.9 98.9 410.2 98.9 409.5 98.9 408.8 98.9 408.2 98.9 407.5 99.0 406.8 99.0 406.2 99.1 405.5 99.2 405.1 99.3 404.8 99.5 404.2 99.7 403.5 99.8 403.1 100.0 402.8 100.3 402.2 100.5 401.9 100.7 401.5 101.1 401.0 101.2 400.8 101.7 400.3 101.9 400.2 102.4 399.7 102.7 399.5 103.0 399.2 103.6 398.9 103.7 398.8 104.3 398.6 104.9 398.3 105.5 398.2 105.7 398.1Z" fill="#a5b3d8"/><path d="M108.7 406.2L108.9 406.2 109.3 406.2 109.9 406.3 110.6 406.5 111.2 406.8 111.3 406.8 111.8 407.1 112.5 407.4 112.6 407.5 113.1 407.8 113.7 408.2 113.7 408.2 114.4 408.6 114.7 408.8 115.0 409.0 115.6 409.5 115.7 409.5 116.3 409.9 116.7 410.2 116.9 410.3 117.5 410.8 117.7 410.9 118.2 411.2 118.6 411.5 118.8 411.6 119.4 412.1 119.6 412.2 120.1 412.5 120.6 412.9 120.7 412.9 121.3 413.4 121.5 413.5 121.9 413.8 122.5 414.2 122.6 414.2 123.2 414.7 123.5 414.9 123.8 415.1 124.5 415.5 124.5 415.5 125.1 416.0 125.4 416.2 125.7 416.4 126.4 416.8 126.4 416.9 127.0 417.2 127.5 417.5 127.6 417.6 128.3 418.0 128.5 418.2 128.9 418.4 129.5 418.8 129.6 418.9 130.2 419.2 130.8 419.5 130.8 419.6 131.4 419.9 132.0 420.2 132.0 420.2 132.7 420.6 133.3 420.9 133.3 420.9 133.9 421.2 134.6 421.4 134.8 421.5 135.2 421.7 135.8 422.0 136.4 422.2 136.5 422.2 137.1 422.5 137.7 422.8 138.1 422.9 138.4 423.0 139.0 423.3 139.5 423.6 139.6 423.6 140.3 424.0 140.6 424.2 140.9 424.4 141.5 424.9 141.5 424.9 142.1 425.5 142.2 425.6 142.7 426.2 142.8 426.3 143.2 426.9 143.4 427.3 143.6 427.6 143.9 428.2 144.0 428.5 144.2 428.9 144.5 429.6 144.7 430.0 144.8 430.2 145.1 430.9 145.3 431.6 145.3 431.6 145.6 432.2 145.8 432.9 145.9 433.3 146.0 433.6 146.3 434.3 146.5 434.9 146.6 435.3 146.7 435.6 146.9 436.3 147.0 436.9 147.2 437.6 147.2 437.6 147.4 438.3 147.5 438.9 147.6 439.6 147.8 440.3 147.8 440.8 147.9 440.9 147.9 441.6 148.0 442.3 148.1 442.9 148.2 443.6 148.2 444.3 148.2 445.0 148.3 445.6 148.3 446.3 148.3 447.0 148.3 447.6 148.2 448.3 148.2 449.0 148.2 449.6 148.1 450.3 148.1 451.0 148.0 451.6 148.0 452.3 147.9 453.0 147.8 453.6 147.8 453.6 147.7 454.3 147.6 455.0 147.5 455.6 147.4 456.3 147.2 457.0 147.2 457.1 147.0 457.7 146.8 458.3 146.6 459.0 146.6 459.0 146.3 459.7 145.9 460.3 145.9 460.3 145.5 461.0 145.3 461.3 145.0 461.7 144.7 462.0 144.3 462.3 144.0 462.5 143.4 463.0 143.4 463.0 142.8 463.4 142.3 463.7 142.1 463.7 141.5 464.0 140.9 464.3 140.7 464.3 140.3 464.5 139.6 464.7 139.0 464.9 138.6 465.0 138.4 465.1 137.7 465.2 137.1 465.4 136.5 465.5 135.9 465.7 135.8 465.7 135.2 465.9 134.6 466.0 133.9 466.2 133.4 466.3 133.3 466.4 132.7 466.6 132.0 466.8 131.4 467.0 131.3 467.0 130.8 467.2 130.2 467.4 129.5 467.7 129.4 467.7 128.9 467.9 128.3 468.1 127.6 468.3 127.5 468.4 127.0 468.5 126.4 468.7 125.7 468.8 125.1 469.0 124.6 469.0 124.5 469.0 123.8 469.1 123.2 469.0 122.9 469.0 122.6 469.0 121.9 468.9 121.3 468.7 120.7 468.5 120.4 468.4 120.1 468.2 119.4 467.8 119.2 467.7 118.8 467.4 118.2 467.0 118.2 467.0 117.5 466.4 117.4 466.3 116.9 465.9 116.7 465.7 116.3 465.2 116.1 465.0 115.6 464.5 115.5 464.3 115.0 463.7 114.9 463.7 114.4 463.0 114.4 462.9 114.0 462.3 113.7 462.0 113.5 461.7 113.1 461.0 113.1 461.0 112.7 460.3 112.5 460.0 112.3 459.7 111.9 459.0 111.8 458.8 111.6 458.3 111.3 457.7 111.2 457.6 110.9 457.0 110.6 456.3 110.6 456.2 110.3 455.6 110.1 455.0 109.9 454.7 109.8 454.3 109.5 453.6 109.3 453.1 109.3 453.0 109.0 452.3 108.8 451.6 108.7 451.4 108.5 451.0 108.3 450.3 108.1 449.6 108.1 449.6 107.8 449.0 107.6 448.3 107.4 447.8 107.4 447.6 107.1 447.0 106.9 446.3 106.8 446.0 106.7 445.6 106.4 445.0 106.2 444.3 106.2 444.1 106.0 443.6 105.7 442.9 105.5 442.4 105.5 442.3 105.2 441.6 105.0 440.9 104.9 440.6 104.8 440.3 104.5 439.6 104.3 438.9 104.3 438.9 104.0 438.3 103.8 437.6 103.6 437.1 103.6 436.9 103.3 436.3 103.1 435.6 103.0 435.3 102.9 434.9 102.7 434.3 102.5 433.6 102.4 433.2 102.3 432.9 102.1 432.2 102.0 431.6 101.8 430.9 101.7 430.5 101.7 430.2 101.6 429.6 101.5 428.9 101.4 428.2 101.4 427.6 101.3 426.9 101.3 426.2 101.3 425.6 101.3 424.9 101.4 424.2 101.4 423.6 101.5 422.9 101.6 422.2 101.7 421.5 101.7 421.0 101.8 420.9 101.9 420.2 102.0 419.5 102.1 418.9 102.3 418.2 102.4 417.6 102.4 417.5 102.5 416.9 102.7 416.2 102.8 415.5 103.0 414.9 103.0 414.9 103.2 414.2 103.3 413.5 103.5 412.9 103.6 412.4 103.7 412.2 103.9 411.5 104.1 410.9 104.3 410.5 104.4 410.2 104.7 409.5 104.9 409.0 105.0 408.8 105.4 408.2 105.5 407.9 105.9 407.5 106.2 407.2 106.6 406.8 106.8 406.7 107.4 406.4 108.1 406.2 108.5 406.2Z" fill="#98a8d6"/><path d="M111.8 413.4L112.5 413.4 113.1 413.4 113.7 413.5 114.1 413.5 114.4 413.6 115.0 413.7 115.6 413.9 116.3 414.1 116.4 414.2 116.9 414.4 117.5 414.7 117.9 414.9 118.2 415.0 118.8 415.3 119.3 415.5 119.4 415.6 120.1 416.0 120.5 416.2 120.7 416.3 121.3 416.7 121.6 416.9 121.9 417.1 122.6 417.5 122.6 417.5 123.2 417.9 123.6 418.2 123.8 418.4 124.5 418.8 124.6 418.9 125.1 419.2 125.5 419.5 125.7 419.7 126.4 420.2 126.4 420.2 127.0 420.6 127.4 420.9 127.6 421.1 128.3 421.5 128.3 421.6 128.9 422.0 129.2 422.2 129.5 422.5 130.0 422.9 130.2 423.0 130.8 423.4 130.9 423.6 131.4 423.9 131.8 424.2 132.0 424.4 132.7 424.9 132.7 424.9 133.3 425.3 133.6 425.6 133.9 425.8 134.5 426.2 134.6 426.3 135.2 426.8 135.3 426.9 135.8 427.4 136.1 427.6 136.5 427.9 136.8 428.2 137.1 428.5 137.5 428.9 137.7 429.1 138.2 429.6 138.4 429.7 138.8 430.2 139.0 430.4 139.4 430.9 139.6 431.2 139.9 431.6 140.3 432.0 140.4 432.2 140.9 432.9 140.9 432.9 141.3 433.6 141.5 433.9 141.8 434.3 142.1 434.9 142.1 435.0 142.5 435.6 142.8 436.2 142.8 436.3 143.1 436.9 143.4 437.6 143.4 437.6 143.7 438.3 143.9 438.9 144.0 439.3 144.1 439.6 144.3 440.3 144.5 440.9 144.6 441.6 144.7 441.8 144.8 442.3 144.9 442.9 145.0 443.6 145.0 444.3 145.1 445.0 145.1 445.6 145.1 446.3 145.1 447.0 145.0 447.6 145.0 448.3 144.9 449.0 144.8 449.6 144.7 450.2 144.7 450.3 144.5 451.0 144.3 451.6 144.1 452.3 144.0 452.5 143.9 453.0 143.6 453.6 143.4 454.0 143.3 454.3 142.9 455.0 142.8 455.2 142.5 455.6 142.1 456.1 141.9 456.3 141.5 456.8 141.3 457.0 140.9 457.4 140.6 457.7 140.3 458.0 139.8 458.3 139.6 458.4 139.0 458.8 138.7 459.0 138.4 459.2 137.7 459.5 137.4 459.7 137.1 459.8 136.5 460.1 135.9 460.3 135.8 460.3 135.2 460.6 134.6 460.8 134.1 461.0 133.9 461.0 133.3 461.3 132.7 461.5 132.1 461.7 132.0 461.7 131.4 461.9 130.8 462.1 130.2 462.3 130.0 462.3 129.5 462.5 128.9 462.7 128.3 462.9 127.7 463.0 127.6 463.0 127.0 463.2 126.4 463.3 125.7 463.4 125.1 463.5 124.5 463.6 123.8 463.6 123.2 463.6 122.6 463.5 121.9 463.4 121.3 463.2 120.7 463.0 120.7 463.0 120.1 462.7 119.4 462.3 119.4 462.3 118.8 461.9 118.4 461.7 118.2 461.4 117.6 461.0 117.5 460.9 116.9 460.3 116.9 460.3 116.3 459.7 116.3 459.6 115.7 459.0 115.6 458.9 115.2 458.3 115.0 458.0 114.7 457.7 114.4 457.1 114.3 457.0 113.9 456.3 113.7 456.1 113.5 455.6 113.1 455.0 113.1 455.0 112.7 454.3 112.5 453.8 112.4 453.6 112.0 453.0 111.8 452.6 111.7 452.3 111.4 451.6 111.2 451.2 111.1 451.0 110.8 450.3 110.6 449.7 110.6 449.6 110.3 449.0 110.0 448.3 109.9 448.1 109.7 447.6 109.5 447.0 109.3 446.5 109.2 446.3 109.0 445.6 108.7 445.0 108.7 444.8 108.5 444.3 108.3 443.6 108.1 443.1 108.0 442.9 107.8 442.3 107.5 441.6 107.4 441.3 107.3 440.9 107.1 440.3 106.9 439.6 106.8 439.4 106.6 438.9 106.4 438.3 106.2 437.6 106.2 437.4 106.0 436.9 105.8 436.3 105.6 435.6 105.5 435.3 105.4 434.9 105.3 434.3 105.1 433.6 105.0 432.9 104.9 432.6 104.8 432.2 104.7 431.6 104.6 430.9 104.5 430.2 104.5 429.6 104.4 428.9 104.4 428.2 104.4 427.6 104.4 426.9 104.4 426.2 104.5 425.6 104.5 424.9 104.6 424.2 104.7 423.6 104.9 422.9 104.9 422.8 105.0 422.2 105.2 421.5 105.4 420.9 105.5 420.5 105.6 420.2 105.9 419.5 106.1 418.9 106.2 418.8 106.4 418.2 106.8 417.5 106.8 417.5 107.2 416.9 107.4 416.4 107.6 416.2 108.1 415.6 108.1 415.5 108.7 414.9 108.8 414.9 109.3 414.4 109.7 414.2 109.9 414.0 110.6 413.7 111.2 413.5 111.3 413.5Z" fill="#869bd1"/><path d="M113.7 418.1L114.4 418.0 115.0 418.0 115.6 418.0 116.3 418.1 116.8 418.2 116.9 418.2 117.5 418.4 118.2 418.6 118.8 418.8 118.9 418.9 119.4 419.1 120.1 419.4 120.3 419.5 120.7 419.7 121.3 420.1 121.5 420.2 121.9 420.5 122.6 420.8 122.6 420.9 123.2 421.3 123.6 421.5 123.8 421.7 124.5 422.1 124.6 422.2 125.1 422.6 125.5 422.9 125.7 423.1 126.3 423.6 126.4 423.6 127.0 424.1 127.2 424.2 127.6 424.6 128.0 424.9 128.3 425.1 128.8 425.6 128.9 425.6 129.5 426.1 129.6 426.2 130.2 426.7 130.4 426.9 130.8 427.2 131.2 427.6 131.4 427.7 132.0 428.2 132.0 428.3 132.7 428.9 132.7 428.9 133.3 429.4 133.5 429.6 133.9 430.0 134.2 430.2 134.6 430.6 134.9 430.9 135.2 431.3 135.5 431.6 135.8 431.9 136.1 432.2 136.5 432.6 136.7 432.9 137.1 433.4 137.3 433.6 137.7 434.2 137.8 434.3 138.3 434.9 138.4 435.1 138.7 435.6 139.0 436.1 139.1 436.3 139.5 436.9 139.6 437.2 139.8 437.6 140.2 438.3 140.3 438.5 140.5 438.9 140.7 439.6 140.9 440.1 140.9 440.3 141.1 440.9 141.3 441.6 141.4 442.3 141.5 442.8 141.5 442.9 141.6 443.6 141.7 444.3 141.7 445.0 141.7 445.6 141.6 446.3 141.5 447.0 141.5 447.0 141.4 447.6 141.2 448.3 141.0 449.0 140.9 449.4 140.8 449.6 140.5 450.3 140.3 450.7 140.1 451.0 139.7 451.6 139.6 451.7 139.2 452.3 139.0 452.6 138.6 453.0 138.4 453.2 137.9 453.6 137.7 453.8 137.1 454.3 137.1 454.3 136.5 454.8 136.2 455.0 135.8 455.2 135.2 455.6 135.1 455.6 134.6 455.9 133.9 456.2 133.7 456.3 133.3 456.5 132.7 456.8 132.2 457.0 132.0 457.0 131.4 457.3 130.8 457.5 130.3 457.7 130.2 457.7 129.5 457.9 128.9 458.1 128.3 458.2 127.9 458.3 127.6 458.4 127.0 458.5 126.4 458.6 125.7 458.7 125.1 458.7 124.5 458.7 123.8 458.7 123.2 458.6 122.6 458.5 121.9 458.4 121.8 458.3 121.3 458.2 120.7 457.9 120.2 457.7 120.1 457.6 119.4 457.2 119.1 457.0 118.8 456.8 118.2 456.3 118.2 456.2 117.5 455.7 117.5 455.6 116.9 455.0 116.9 455.0 116.3 454.3 116.3 454.3 115.8 453.6 115.6 453.4 115.3 453.0 115.0 452.5 114.9 452.3 114.4 451.6 114.4 451.5 114.0 451.0 113.7 450.4 113.7 450.3 113.3 449.6 113.1 449.2 113.0 449.0 112.6 448.3 112.5 447.9 112.3 447.6 112.0 447.0 111.8 446.5 111.7 446.3 111.5 445.6 111.2 445.0 111.2 445.0 110.9 444.3 110.7 443.6 110.6 443.4 110.4 442.9 110.2 442.3 109.9 441.7 109.9 441.6 109.7 440.9 109.5 440.3 109.3 439.8 109.2 439.6 109.0 438.9 108.8 438.3 108.7 437.8 108.6 437.6 108.5 436.9 108.3 436.3 108.1 435.6 108.1 435.3 108.0 434.9 107.8 434.3 107.7 433.6 107.6 432.9 107.5 432.2 107.4 431.6 107.4 431.5 107.4 430.9 107.3 430.2 107.3 429.6 107.3 428.9 107.3 428.2 107.4 427.6 107.4 427.3 107.5 426.9 107.6 426.2 107.7 425.6 107.8 424.9 108.0 424.2 108.1 424.1 108.3 423.6 108.5 422.9 108.7 422.5 108.8 422.2 109.2 421.5 109.3 421.3 109.6 420.9 109.9 420.4 110.1 420.2 110.6 419.7 110.8 419.5 111.2 419.2 111.7 418.9 111.8 418.8 112.5 418.4 113.1 418.2 113.2 418.2Z" fill="#718cca"/><path d="M114.4 422.2L115.0 422.0 115.6 421.9 116.3 421.8 116.9 421.8 117.5 421.9 118.2 422.0 118.8 422.2 118.8 422.2 119.4 422.4 120.1 422.7 120.5 422.9 120.7 423.0 121.3 423.3 121.8 423.6 121.9 423.7 122.6 424.0 122.9 424.2 123.2 424.5 123.8 424.9 123.8 424.9 124.5 425.3 124.8 425.6 125.1 425.8 125.6 426.2 125.7 426.3 126.4 426.8 126.5 426.9 127.0 427.3 127.3 427.6 127.6 427.9 128.1 428.2 128.3 428.4 128.8 428.9 128.9 429.0 129.5 429.5 129.6 429.6 130.2 430.1 130.3 430.2 130.8 430.7 131.0 430.9 131.4 431.3 131.7 431.6 132.0 431.9 132.3 432.2 132.7 432.6 133.0 432.9 133.3 433.3 133.6 433.6 133.9 434.0 134.1 434.3 134.6 434.8 134.7 434.9 135.2 435.6 135.2 435.6 135.6 436.3 135.8 436.6 136.1 436.9 136.5 437.6 136.5 437.6 136.8 438.3 137.1 438.9 137.1 438.9 137.4 439.6 137.6 440.3 137.7 440.6 137.8 440.9 138.0 441.6 138.1 442.3 138.2 442.9 138.2 443.6 138.2 444.3 138.2 445.0 138.1 445.6 137.9 446.3 137.7 446.8 137.7 447.0 137.4 447.6 137.1 448.3 137.1 448.3 136.7 449.0 136.5 449.2 136.2 449.6 135.8 450.0 135.6 450.3 135.2 450.7 134.9 451.0 134.6 451.2 134.0 451.6 133.9 451.7 133.3 452.1 133.0 452.3 132.7 452.5 132.0 452.9 131.8 453.0 131.4 453.2 130.8 453.5 130.3 453.6 130.2 453.7 129.5 453.9 128.9 454.1 128.3 454.3 128.2 454.3 127.6 454.4 127.0 454.6 126.4 454.7 125.7 454.7 125.1 454.7 124.5 454.7 123.8 454.7 123.2 454.6 122.6 454.4 122.2 454.3 121.9 454.2 121.3 454.0 120.7 453.7 120.6 453.6 120.1 453.3 119.6 453.0 119.4 452.9 118.8 452.4 118.7 452.3 118.2 451.8 118.0 451.6 117.5 451.1 117.4 451.0 116.9 450.4 116.8 450.3 116.3 449.6 116.3 449.6 115.9 449.0 115.6 448.6 115.4 448.3 115.0 447.6 115.0 447.6 114.6 447.0 114.4 446.5 114.3 446.3 113.9 445.6 113.7 445.2 113.6 445.0 113.3 444.3 113.1 443.8 113.0 443.6 112.7 442.9 112.5 442.3 112.5 442.3 112.2 441.6 112.0 440.9 111.8 440.5 111.8 440.3 111.5 439.6 111.3 438.9 111.2 438.5 111.1 438.3 111.0 437.6 110.8 436.9 110.6 436.3 110.6 436.0 110.5 435.6 110.4 434.9 110.3 434.3 110.2 433.6 110.1 432.9 110.0 432.2 110.0 431.6 110.0 430.9 110.0 430.2 110.1 429.6 110.1 428.9 110.2 428.2 110.4 427.6 110.6 426.9 110.6 426.8 110.8 426.2 111.1 425.6 111.2 425.2 111.4 424.9 111.8 424.2 111.8 424.2 112.4 423.6 112.5 423.4 113.1 422.9 113.1 422.9 113.7 422.5 114.3 422.2Z" fill="#617bb7"/><path d="M115.6 426.1L116.3 425.8 116.9 425.7 117.5 425.6 118.2 425.6 118.8 425.7 119.4 425.8 120.1 426.0 120.6 426.2 120.7 426.3 121.3 426.6 121.9 426.9 121.9 426.9 122.6 427.3 123.1 427.6 123.2 427.7 123.8 428.1 124.0 428.2 124.5 428.6 124.9 428.9 125.1 429.0 125.7 429.5 125.8 429.6 126.4 430.1 126.6 430.2 127.0 430.6 127.3 430.9 127.6 431.2 128.0 431.6 128.3 431.8 128.7 432.2 128.9 432.4 129.4 432.9 129.5 433.1 130.0 433.6 130.2 433.7 130.6 434.3 130.8 434.5 131.2 434.9 131.4 435.2 131.7 435.6 132.0 436.1 132.2 436.3 132.6 436.9 132.7 437.0 133.0 437.6 133.3 438.1 133.4 438.3 133.7 438.9 133.9 439.5 134.0 439.6 134.2 440.3 134.4 440.9 134.5 441.6 134.6 442.3 134.6 442.6 134.6 442.9 134.6 443.1 134.5 443.6 134.4 444.3 134.3 445.0 134.0 445.6 133.9 445.8 133.7 446.3 133.3 446.9 133.3 447.0 132.7 447.6 132.7 447.7 132.1 448.3 132.0 448.3 131.4 448.8 131.3 449.0 130.8 449.3 130.2 449.6 130.2 449.7 129.5 450.0 128.9 450.3 128.8 450.3 128.3 450.5 127.6 450.7 127.0 450.9 126.4 451.0 126.3 451.0 125.7 451.0 125.1 451.0 124.5 451.0 124.0 451.0 123.8 451.0 123.2 450.8 122.6 450.7 121.9 450.4 121.7 450.3 121.3 450.1 120.7 449.8 120.5 449.6 120.1 449.3 119.6 449.0 119.4 448.8 118.8 448.3 118.8 448.2 118.2 447.6 118.2 447.6 117.7 447.0 117.5 446.8 117.2 446.3 116.9 445.9 116.7 445.6 116.3 445.0 116.3 444.9 115.9 444.3 115.6 443.7 115.6 443.6 115.2 442.9 115.0 442.4 114.9 442.3 114.6 441.6 114.4 440.9 114.4 440.9 114.1 440.3 113.9 439.6 113.7 439.1 113.7 438.9 113.5 438.3 113.3 437.6 113.2 436.9 113.1 436.7 113.0 436.3 112.9 435.6 112.8 434.9 112.7 434.3 112.7 433.6 112.7 432.9 112.7 432.2 112.7 431.6 112.8 430.9 112.9 430.2 113.1 429.6 113.1 429.5 113.3 428.9 113.6 428.2 113.7 428.0 114.0 427.6 114.4 427.1 114.6 426.9 115.0 426.5 115.4 426.2Z" fill="#586b99"/><path d="M118.2 430.1L118.8 429.9 119.4 429.9 120.1 430.0 120.7 430.1 121.0 430.2 121.3 430.3 121.9 430.6 122.5 430.9 122.6 431.0 123.2 431.3 123.6 431.6 123.8 431.8 124.5 432.2 124.5 432.2 125.1 432.8 125.3 432.9 125.7 433.3 126.0 433.6 126.4 433.9 126.7 434.3 127.0 434.6 127.3 434.9 127.6 435.3 127.9 435.6 128.3 436.1 128.4 436.3 128.8 436.9 128.9 437.0 129.2 437.6 129.5 438.1 129.6 438.3 129.9 438.9 130.1 439.6 130.2 439.7 130.3 440.3 130.4 440.9 130.4 441.6 130.4 442.3 130.3 442.9 130.2 443.3 130.1 443.6 129.7 444.3 129.5 444.6 129.3 445.0 128.9 445.3 128.6 445.6 128.3 445.9 127.6 446.3 127.6 446.3 127.0 446.6 126.4 446.8 125.7 446.9 125.6 447.0 125.1 447.0 124.5 447.0 123.8 447.0 123.8 447.0 123.2 446.8 122.6 446.6 121.9 446.3 121.8 446.3 121.3 446.0 120.8 445.6 120.7 445.5 120.1 445.0 120.0 445.0 119.4 444.3 119.4 444.3 118.8 443.6 118.8 443.6 118.4 442.9 118.2 442.6 117.9 442.3 117.6 441.6 117.5 441.5 117.2 440.9 116.9 440.3 116.9 440.1 116.7 439.6 116.5 438.9 116.3 438.3 116.3 438.3 116.1 437.6 116.0 436.9 115.9 436.3 115.8 435.6 115.8 434.9 115.8 434.3 115.8 433.6 116.0 432.9 116.2 432.2 116.3 432.0 116.5 431.6 116.9 431.0 116.9 430.9 117.5 430.4 117.8 430.2Z" fill="#4e5a7a"/></g>
<g fill="#2a2a2a" fill-opacity="0.6"><circle cx="107.4" cy="393.1" r="1.45"/><circle cx="93.3" cy="401.3" r="1.45"/><circle cx="106.3" cy="403.8" r="1.45"/><circle cx="110.8" cy="402.6" r="1.45"/><circle cx="100.8" cy="411.1" r="1.45"/><circle cx="112.0" cy="409.8" r="1.45"/><circle cx="136.5" cy="417.2" r="1.45"/><circle cx="98.6" cy="424.5" r="1.45"/><circle cx="111.7" cy="420.5" r="1.45"/><circle cx="112.6" cy="423.1" r="1.45"/><circle cx="117.2" cy="421.3" r="1.45"/><circle cx="123.8" cy="422.7" r="1.45"/><circle cx="118.4" cy="426.0" r="1.45"/><circle cx="100.8" cy="432.4" r="1.45"/><circle cx="114.0" cy="432.4" r="1.45"/><circle cx="117.7" cy="430.6" r="1.45"/><circle cx="121.6" cy="433.6" r="1.45"/><circle cx="126.4" cy="433.9" r="1.45"/><circle cx="132.1" cy="434.9" r="1.45"/><circle cx="116.3" cy="436.0" r="1.45"/><circle cx="119.0" cy="435.4" r="1.45"/><circle cx="119.9" cy="437.4" r="1.45"/><circle cx="129.5" cy="438.2" r="1.45"/><circle cx="136.8" cy="437.8" r="1.45"/><circle cx="141.1" cy="422.8" r="1.45"/><circle cx="149.0" cy="421.8" r="1.45"/><circle cx="145.0" cy="419.4" r="1.45"/><circle cx="167.4" cy="423.7" r="1.45"/><circle cx="154.2" cy="431.6" r="1.45"/><circle cx="113.9" cy="432.3" r="1.45"/><circle cx="117.0" cy="431.0" r="1.45"/><circle cx="120.0" cy="438.4" r="1.45"/><circle cx="130.1" cy="438.4" r="1.45"/><circle cx="138.9" cy="441.0" r="1.45"/><circle cx="140.7" cy="442.3" r="1.45"/><circle cx="158.2" cy="438.0" r="1.45"/><circle cx="168.2" cy="438.0" r="1.45"/><circle cx="116.1" cy="443.5" r="1.45"/><circle cx="121.4" cy="444.1" r="1.45"/><circle cx="131.5" cy="444.1" r="1.45"/><circle cx="132.0" cy="444.8" r="1.45"/><circle cx="129.3" cy="448.0" r="1.45"/><circle cx="136.7" cy="447.3" r="1.45"/><circle cx="140.2" cy="447.3" r="1.45"/><circle cx="116.6" cy="449.1" r="1.45"/><circle cx="142.4" cy="450.8" r="1.45"/><circle cx="120.5" cy="452.8" r="1.45"/><circle cx="125.3" cy="453.7" r="1.45"/><circle cx="126.6" cy="453.3" r="1.45"/><circle cx="117.9" cy="455.9" r="1.45"/><circle cx="133.2" cy="455.9" r="1.45"/><circle cx="149.4" cy="461.6" r="1.45"/><circle cx="149.9" cy="464.8" r="1.45"/><circle cx="139.3" cy="463.8" r="1.45"/><circle cx="118.8" cy="464.8" r="1.45"/><circle cx="123.0" cy="469.7" r="1.45"/><circle cx="138.0" cy="469.7" r="1.45"/><circle cx="123.0" cy="473.4" r="1.45"/><circle cx="168.9" cy="468.6" r="1.45"/><circle cx="160.4" cy="397.6" r="1.45"/><circle cx="167.6" cy="412.4" r="1.45"/><circle cx="98.6" cy="459.6" r="1.45"/><circle cx="123.5" cy="441.5" r="1.45"/><circle cx="124.5" cy="442.8" r="1.45"/><circle cx="122.8" cy="441.0" r="1.45"/><circle cx="123.2" cy="443.9" r="1.45"/><circle cx="119.8" cy="442.4" r="1.45"/><circle cx="132.3" cy="435.4" r="1.45"/><circle cx="118.1" cy="448.6" r="1.45"/><circle cx="118.5" cy="460.1" r="1.45"/><circle cx="116.8" cy="421.3" r="1.45"/><circle cx="118.5" cy="426.2" r="1.45"/><circle cx="117.2" cy="430.8" r="1.45"/></g>
<path d="M71.61 361.29 L72.21 361.29 L72.81 361.29 L73.41 361.28 L74.00 361.28 L74.60 361.27 L75.20 361.26 L75.80 361.25 L76.40 361.24 L76.99 361.23 L77.59 361.21 L78.19 361.19 L78.79 361.17 L79.38 361.14 L79.98 361.11 L80.58 361.08 L81.18 361.03 L81.78 360.99 L82.37 360.93 L82.97 360.87 L83.57 360.80 L84.17 360.73 L84.77 360.64 L85.36 360.55 L85.96 360.45 L86.56 360.34 L87.16 360.22 L87.75 360.09 L88.35 359.95 L88.95 359.80 L89.55 359.65 L90.15 359.48 L90.74 359.31 L91.34 359.14 L91.94 358.95 L92.54 358.76 L93.14 358.57 L93.73 358.37 L94.33 358.17 L94.93 357.96 L95.53 357.75 L96.12 357.54 L96.72 357.32 L97.32 357.09 L97.92 356.86 L98.52 356.62 L99.11 356.37 L99.71 356.11 L100.31 355.84 L100.91 355.54 L101.51 355.23 L102.10 354.90 L102.70 354.54 L103.30 354.15 L103.90 353.73 L104.50 353.28 L105.09 352.79 L105.69 352.27 L106.29 351.71 L106.89 351.11 L107.48 350.48 L108.08 349.82 L108.68 349.13 L109.28 348.40 L109.88 347.66 L110.47 346.90 L111.07 346.13 L111.67 345.36 L112.27 344.59 L112.87 343.84 L113.46 343.11 L114.06 342.40 L114.66 341.74 L115.26 341.12 L115.85 340.55 L116.45 340.04 L117.05 339.60 L117.65 339.23 L118.25 338.93 L118.84 338.71 L119.44 338.57 L120.04 338.50 L120.64 338.51 L121.24 338.59 L121.83 338.73 L122.43 338.94 L123.03 339.21 L123.63 339.53 L124.22 339.89 L124.82 340.29 L125.42 340.72 L126.02 341.17 L126.62 341.64 L127.21 342.12 L127.81 342.60 L128.41 343.08 L129.01 343.56 L129.61 344.02 L130.20 344.48 L130.80 344.92 L131.40 345.34 L132.00 345.75 L132.59 346.15 L133.19 346.53 L133.79 346.89 L134.39 347.24 L134.99 347.59 L135.58 347.92 L136.18 348.25 L136.78 348.57 L137.38 348.89 L137.98 349.21 L138.57 349.52 L139.17 349.84 L139.77 350.16 L140.37 350.48 L140.96 350.80 L141.56 351.12 L142.16 351.45 L142.76 351.77 L143.36 352.09 L143.95 352.41 L144.55 352.73 L145.15 353.04 L145.75 353.34 L146.35 353.64 L146.94 353.93 L147.54 354.22 L148.14 354.49 L148.74 354.75 L149.33 355.00 L149.93 355.23 L150.53 355.45 L151.13 355.66 L151.73 355.86 L152.32 356.04 L152.92 356.21 L153.52 356.37 L154.12 356.51 L154.72 356.64 L155.31 356.75 L155.91 356.86 L156.51 356.95 L157.11 357.03 L157.70 357.10 L158.30 357.16 L158.90 357.21 L159.50 357.25 L160.10 357.29 L160.69 357.32 L161.29 357.35 L161.89 357.38 L162.49 357.41 L163.09 357.44 L163.68 357.47 L164.28 357.50 L164.88 357.54 L165.48 357.59 L166.08 357.65 L166.67 357.72 L167.27 357.79 L167.87 357.88 L168.47 357.98 L169.06 358.09 L169.66 358.21 L170.26 358.33 L170.86 358.47 L171.46 358.61 L172.05 358.76 L172.65 358.91 L173.25 359.07 L173.85 359.23 L174.45 359.39 L175.04 359.54 L175.64 359.70 L176.24 359.84 L176.84 359.99 L177.43 360.12 L178.03 360.25 L178.63 360.37 L179.23 360.48 L179.83 360.59 L180.42 360.68 L181.02 360.77 L181.62 360.84 L182.22 360.91 L182.82 360.97 L183.41 361.02 L184.01 361.07 L184.61 361.11 L185.21 361.14 L185.80 361.17 L186.40 361.19 L187.00 361.21 L187.60 361.23 L188.20 361.25 L188.79 361.26 L189.39 361.27 L189.99 361.27 L190.59 361.28 L190.59 361.3 L71.61 361.3 Z" fill="#dfe3f1" stroke="none" stroke-width="1"/>
<path d="M71.61 361.29 L72.21 361.29 L72.81 361.29 L73.41 361.28 L74.00 361.28 L74.60 361.27 L75.20 361.26 L75.80 361.25 L76.40 361.24 L76.99 361.23 L77.59 361.21 L78.19 361.19 L78.79 361.17 L79.38 361.14 L79.98 361.11 L80.58 361.08 L81.18 361.03 L81.78 360.99 L82.37 360.93 L82.97 360.87 L83.57 360.80 L84.17 360.73 L84.77 360.64 L85.36 360.55 L85.96 360.45 L86.56 360.34 L87.16 360.22 L87.75 360.09 L88.35 359.95 L88.95 359.80 L89.55 359.65 L90.15 359.48 L90.74 359.31 L91.34 359.14 L91.94 358.95 L92.54 358.76 L93.14 358.57 L93.73 358.37 L94.33 358.17 L94.93 357.96 L95.53 357.75 L96.12 357.54 L96.72 357.32 L97.32 357.09 L97.92 356.86 L98.52 356.62 L99.11 356.37 L99.71 356.11 L100.31 355.84 L100.91 355.54 L101.51 355.23 L102.10 354.90 L102.70 354.54 L103.30 354.15 L103.90 353.73 L104.50 353.28 L105.09 352.79 L105.69 352.27 L106.29 351.71 L106.89 351.11 L107.48 350.48 L108.08 349.82 L108.68 349.13 L109.28 348.40 L109.88 347.66 L110.47 346.90 L111.07 346.13 L111.67 345.36 L112.27 344.59 L112.87 343.84 L113.46 343.11 L114.06 342.40 L114.66 341.74 L115.26 341.12 L115.85 340.55 L116.45 340.04 L117.05 339.60 L117.65 339.23 L118.25 338.93 L118.84 338.71 L119.44 338.57 L120.04 338.50 L120.64 338.51 L121.24 338.59 L121.83 338.73 L122.43 338.94 L123.03 339.21 L123.63 339.53 L124.22 339.89 L124.82 340.29 L125.42 340.72 L126.02 341.17 L126.62 341.64 L127.21 342.12 L127.81 342.60 L128.41 343.08 L129.01 343.56 L129.61 344.02 L130.20 344.48 L130.80 344.92 L131.40 345.34 L132.00 345.75 L132.59 346.15 L133.19 346.53 L133.79 346.89 L134.39 347.24 L134.99 347.59 L135.58 347.92 L136.18 348.25 L136.78 348.57 L137.38 348.89 L137.98 349.21 L138.57 349.52 L139.17 349.84 L139.77 350.16 L140.37 350.48 L140.96 350.80 L141.56 351.12 L142.16 351.45 L142.76 351.77 L143.36 352.09 L143.95 352.41 L144.55 352.73 L145.15 353.04 L145.75 353.34 L146.35 353.64 L146.94 353.93 L147.54 354.22 L148.14 354.49 L148.74 354.75 L149.33 355.00 L149.93 355.23 L150.53 355.45 L151.13 355.66 L151.73 355.86 L152.32 356.04 L152.92 356.21 L153.52 356.37 L154.12 356.51 L154.72 356.64 L155.31 356.75 L155.91 356.86 L156.51 356.95 L157.11 357.03 L157.70 357.10 L158.30 357.16 L158.90 357.21 L159.50 357.25 L160.10 357.29 L160.69 357.32 L161.29 357.35 L161.89 357.38 L162.49 357.41 L163.09 357.44 L163.68 357.47 L164.28 357.50 L164.88 357.54 L165.48 357.59 L166.08 357.65 L166.67 357.72 L167.27 357.79 L167.87 357.88 L168.47 357.98 L169.06 358.09 L169.66 358.21 L170.26 358.33 L170.86 358.47 L171.46 358.61 L172.05 358.76 L172.65 358.91 L173.25 359.07 L173.85 359.23 L174.45 359.39 L175.04 359.54 L175.64 359.70 L176.24 359.84 L176.84 359.99 L177.43 360.12 L178.03 360.25 L178.63 360.37 L179.23 360.48 L179.83 360.59 L180.42 360.68 L181.02 360.77 L181.62 360.84 L182.22 360.91 L182.82 360.97 L183.41 361.02 L184.01 361.07 L184.61 361.11 L185.21 361.14 L185.80 361.17 L186.40 361.19 L187.00 361.21 L187.60 361.23 L188.20 361.25 L188.79 361.26 L189.39 361.27 L189.99 361.27 L190.59 361.28" fill="none" stroke="#7b93cf" stroke-width="1.3" stroke-linejoin="round"/>
<line x1="63.20" y1="361.30" x2="195.50" y2="361.30" stroke="#5d73a8" stroke-width="1.1"/>
<path d="M199.81 370.24 L199.81 370.87 L199.82 371.51 L199.82 372.14 L199.82 372.77 L199.83 373.41 L199.84 374.04 L199.85 374.67 L199.86 375.31 L199.87 375.94 L199.89 376.57 L199.91 377.21 L199.93 377.84 L199.96 378.47 L199.99 379.11 L200.02 379.74 L200.06 380.37 L200.11 381.01 L200.16 381.64 L200.21 382.27 L200.28 382.91 L200.35 383.54 L200.43 384.17 L200.51 384.81 L200.60 385.44 L200.70 386.07 L200.81 386.71 L200.92 387.34 L201.04 387.97 L201.17 388.61 L201.31 389.24 L201.45 389.87 L201.59 390.51 L201.74 391.14 L201.89 391.77 L202.05 392.41 L202.20 393.04 L202.36 393.67 L202.52 394.30 L202.67 394.94 L202.83 395.57 L202.98 396.20 L203.13 396.84 L203.28 397.47 L203.42 398.10 L203.56 398.74 L203.70 399.37 L203.83 400.00 L203.95 400.64 L204.08 401.27 L204.20 401.90 L204.32 402.54 L204.44 403.17 L204.56 403.80 L204.69 404.44 L204.82 405.07 L204.95 405.70 L205.10 406.34 L205.25 406.97 L205.42 407.60 L205.60 408.24 L205.79 408.87 L206.00 409.50 L206.23 410.14 L206.48 410.77 L206.75 411.40 L207.04 412.04 L207.34 412.67 L207.67 413.30 L208.01 413.94 L208.38 414.57 L208.75 415.20 L209.15 415.84 L209.55 416.47 L209.97 417.10 L210.39 417.74 L210.83 418.37 L211.26 419.00 L211.70 419.64 L212.15 420.27 L212.59 420.90 L213.03 421.53 L213.47 422.17 L213.91 422.80 L214.34 423.43 L214.77 424.07 L215.20 424.70 L215.63 425.33 L216.05 425.97 L216.47 426.60 L216.88 427.23 L217.29 427.87 L217.70 428.50 L218.10 429.13 L218.49 429.77 L218.87 430.40 L219.23 431.03 L219.59 431.67 L219.92 432.30 L220.23 432.93 L220.52 433.57 L220.78 434.20 L221.01 434.83 L221.21 435.47 L221.37 436.10 L221.49 436.73 L221.57 437.37 L221.60 438.00 L221.59 438.63 L221.53 439.27 L221.43 439.90 L221.28 440.53 L221.09 441.17 L220.86 441.80 L220.59 442.43 L220.28 443.07 L219.93 443.70 L219.55 444.33 L219.15 444.97 L218.72 445.60 L218.27 446.23 L217.81 446.86 L217.33 447.50 L216.85 448.13 L216.36 448.76 L215.87 449.40 L215.38 450.03 L214.91 450.66 L214.44 451.30 L213.98 451.93 L213.53 452.56 L213.10 453.20 L212.69 453.83 L212.30 454.46 L211.92 455.10 L211.56 455.73 L211.22 456.36 L210.90 457.00 L210.60 457.63 L210.30 458.26 L210.03 458.90 L209.76 459.53 L209.51 460.16 L209.26 460.80 L209.03 461.43 L208.79 462.06 L208.56 462.70 L208.33 463.33 L208.10 463.96 L207.87 464.60 L207.63 465.23 L207.39 465.86 L207.14 466.50 L206.89 467.13 L206.63 467.76 L206.36 468.40 L206.09 469.03 L205.81 469.66 L205.52 470.30 L205.23 470.93 L204.94 471.56 L204.64 472.20 L204.35 472.83 L204.05 473.46 L203.76 474.09 L203.47 474.73 L203.19 475.36 L202.92 475.99 L202.65 476.63 L202.40 477.26 L202.15 477.89 L201.92 478.53 L201.70 479.16 L201.50 479.79 L201.31 480.43 L201.13 481.06 L200.97 481.69 L200.83 482.33 L200.69 482.96 L200.57 483.59 L200.46 484.23 L200.37 484.86 L200.28 485.49 L200.21 486.13 L200.14 486.76 L200.09 487.39 L200.04 488.03 L200.00 488.66 L199.96 489.29 L199.93 489.93 L199.91 490.56 L199.89 491.19 L199.87 491.83 L199.86 492.46 L199.84 493.09 L199.83 493.73 L199.83 494.36 L199.82 494.99 L199.82 495.63 L199.81 496.26 L199.8 496.26 L199.8 370.24 Z" fill="#dfe3f1" stroke="none" stroke-width="1"/>
<path d="M199.81 370.24 L199.81 370.87 L199.82 371.51 L199.82 372.14 L199.82 372.77 L199.83 373.41 L199.84 374.04 L199.85 374.67 L199.86 375.31 L199.87 375.94 L199.89 376.57 L199.91 377.21 L199.93 377.84 L199.96 378.47 L199.99 379.11 L200.02 379.74 L200.06 380.37 L200.11 381.01 L200.16 381.64 L200.21 382.27 L200.28 382.91 L200.35 383.54 L200.43 384.17 L200.51 384.81 L200.60 385.44 L200.70 386.07 L200.81 386.71 L200.92 387.34 L201.04 387.97 L201.17 388.61 L201.31 389.24 L201.45 389.87 L201.59 390.51 L201.74 391.14 L201.89 391.77 L202.05 392.41 L202.20 393.04 L202.36 393.67 L202.52 394.30 L202.67 394.94 L202.83 395.57 L202.98 396.20 L203.13 396.84 L203.28 397.47 L203.42 398.10 L203.56 398.74 L203.70 399.37 L203.83 400.00 L203.95 400.64 L204.08 401.27 L204.20 401.90 L204.32 402.54 L204.44 403.17 L204.56 403.80 L204.69 404.44 L204.82 405.07 L204.95 405.70 L205.10 406.34 L205.25 406.97 L205.42 407.60 L205.60 408.24 L205.79 408.87 L206.00 409.50 L206.23 410.14 L206.48 410.77 L206.75 411.40 L207.04 412.04 L207.34 412.67 L207.67 413.30 L208.01 413.94 L208.38 414.57 L208.75 415.20 L209.15 415.84 L209.55 416.47 L209.97 417.10 L210.39 417.74 L210.83 418.37 L211.26 419.00 L211.70 419.64 L212.15 420.27 L212.59 420.90 L213.03 421.53 L213.47 422.17 L213.91 422.80 L214.34 423.43 L214.77 424.07 L215.20 424.70 L215.63 425.33 L216.05 425.97 L216.47 426.60 L216.88 427.23 L217.29 427.87 L217.70 428.50 L218.10 429.13 L218.49 429.77 L218.87 430.40 L219.23 431.03 L219.59 431.67 L219.92 432.30 L220.23 432.93 L220.52 433.57 L220.78 434.20 L221.01 434.83 L221.21 435.47 L221.37 436.10 L221.49 436.73 L221.57 437.37 L221.60 438.00 L221.59 438.63 L221.53 439.27 L221.43 439.90 L221.28 440.53 L221.09 441.17 L220.86 441.80 L220.59 442.43 L220.28 443.07 L219.93 443.70 L219.55 444.33 L219.15 444.97 L218.72 445.60 L218.27 446.23 L217.81 446.86 L217.33 447.50 L216.85 448.13 L216.36 448.76 L215.87 449.40 L215.38 450.03 L214.91 450.66 L214.44 451.30 L213.98 451.93 L213.53 452.56 L213.10 453.20 L212.69 453.83 L212.30 454.46 L211.92 455.10 L211.56 455.73 L211.22 456.36 L210.90 457.00 L210.60 457.63 L210.30 458.26 L210.03 458.90 L209.76 459.53 L209.51 460.16 L209.26 460.80 L209.03 461.43 L208.79 462.06 L208.56 462.70 L208.33 463.33 L208.10 463.96 L207.87 464.60 L207.63 465.23 L207.39 465.86 L207.14 466.50 L206.89 467.13 L206.63 467.76 L206.36 468.40 L206.09 469.03 L205.81 469.66 L205.52 470.30 L205.23 470.93 L204.94 471.56 L204.64 472.20 L204.35 472.83 L204.05 473.46 L203.76 474.09 L203.47 474.73 L203.19 475.36 L202.92 475.99 L202.65 476.63 L202.40 477.26 L202.15 477.89 L201.92 478.53 L201.70 479.16 L201.50 479.79 L201.31 480.43 L201.13 481.06 L200.97 481.69 L200.83 482.33 L200.69 482.96 L200.57 483.59 L200.46 484.23 L200.37 484.86 L200.28 485.49 L200.21 486.13 L200.14 486.76 L200.09 487.39 L200.04 488.03 L200.00 488.66 L199.96 489.29 L199.93 489.93 L199.91 490.56 L199.89 491.19 L199.87 491.83 L199.86 492.46 L199.84 493.09 L199.83 493.73 L199.83 494.36 L199.82 494.99 L199.82 495.63 L199.81 496.26" fill="none" stroke="#7b93cf" stroke-width="1.3" stroke-linejoin="round"/>
<line x1="199.80" y1="366.00" x2="199.80" y2="500.90" stroke="#5d73a8" stroke-width="1.1"/>
<line x1="118.50" y1="338.50" x2="118.50" y2="500.90" stroke="#2a2a2a" stroke-width="0.9" stroke-dasharray="3.2 2.4"/>
<line x1="63.70" y1="438.50" x2="222.00" y2="438.50" stroke="#3a3a3a" stroke-width="0.9" stroke-dasharray="3.2 2.4"/>
<line x1="63.70" y1="366.00" x2="63.70" y2="500.90" stroke="#8a8a8a" stroke-width="1.0"/>
<line x1="63.70" y1="500.90" x2="195.50" y2="500.90" stroke="#bdbdbd" stroke-width="1.2"/>
<line x1="63.70" y1="381.00" x2="67.70" y2="381.00" stroke="#9a9a9a" stroke-width="0.9"/>
<text x="58.60" y="384.20" font-size="9.0" text-anchor="end" fill="#333">0.50</text>
<line x1="63.70" y1="409.75" x2="67.70" y2="409.75" stroke="#9a9a9a" stroke-width="0.9"/>
<text x="58.60" y="412.95" font-size="9.0" text-anchor="end" fill="#333">0.25</text>
<line x1="63.70" y1="438.50" x2="67.70" y2="438.50" stroke="#9a9a9a" stroke-width="0.9"/>
<text x="58.60" y="441.70" font-size="9.0" text-anchor="end" fill="#333">0</text>
<line x1="63.70" y1="467.25" x2="67.70" y2="467.25" stroke="#9a9a9a" stroke-width="0.9"/>
<text x="58.60" y="470.45" font-size="9.0" text-anchor="end" fill="#333">−0.25</text>
<line x1="63.70" y1="496.00" x2="67.70" y2="496.00" stroke="#9a9a9a" stroke-width="0.9"/>
<text x="58.60" y="499.20" font-size="9.0" text-anchor="end" fill="#333">−0.50</text>
<line x1="62.80" y1="500.90" x2="62.80" y2="496.90" stroke="#9a9a9a" stroke-width="0.9"/>
<text x="62.80" y="512.00" font-size="9.0" text-anchor="middle" fill="#333">−1</text>
<line x1="118.50" y1="500.90" x2="118.50" y2="496.90" stroke="#9a9a9a" stroke-width="0.9"/>
<text x="118.50" y="512.00" font-size="9.0" text-anchor="middle" fill="#333">0</text>
<line x1="174.20" y1="500.90" x2="174.20" y2="496.90" stroke="#9a9a9a" stroke-width="0.9"/>
<text x="174.20" y="512.00" font-size="9.0" text-anchor="middle" fill="#333">1</text>
<text x="376.00" y="343.00" font-size="15.5" font-weight="bold" fill="#000" stroke="#000" stroke-width="0.35">h</text>
<g clip-path="url(#c2)"><path d="M455.8 377.7L456.5 377.6 457.2 377.5 457.9 377.5 458.5 377.5 459.2 377.6 459.9 377.6 460.5 377.7 461.1 377.8 461.2 377.8 461.9 378.0 462.6 378.1 463.2 378.3 463.9 378.5 463.9 378.5 464.6 378.7 465.3 378.9 465.9 379.2 466.0 379.2 466.6 379.4 467.3 379.7 467.9 379.9 468.0 379.9 468.6 380.2 469.3 380.5 469.7 380.6 470.0 380.7 470.7 381.0 471.3 381.3 471.3 381.3 472.0 381.6 472.7 381.9 472.9 382.0 473.4 382.2 474.0 382.5 474.3 382.7 474.7 382.9 475.4 383.2 475.6 383.4 476.0 383.6 476.7 384.1 476.8 384.1 477.4 384.5 477.8 384.8 478.1 385.0 478.7 385.5 478.7 385.5 479.4 386.0 479.6 386.2 480.1 386.6 480.4 386.9 480.8 387.2 481.1 387.6 481.4 387.9 481.8 388.3 482.1 388.6 482.5 389.0 482.8 389.3 483.2 389.7 483.5 390.0 483.8 390.4 484.1 390.7 484.5 391.1 484.8 391.4 485.1 391.8 485.5 392.1 485.8 392.5 486.2 392.8 486.6 393.2 486.8 393.4 487.4 393.8 487.5 393.9 488.2 394.5 488.3 394.5 488.8 394.9 489.3 395.2 489.5 395.4 490.2 395.8 490.6 395.9 490.9 396.1 491.5 396.4 492.2 396.6 492.2 396.6 492.9 396.9 493.6 397.0 494.2 397.2 494.9 397.3 494.9 397.3 495.6 397.5 496.3 397.6 496.9 397.6 497.6 397.7 498.3 397.8 499.0 397.8 499.6 397.8 500.3 397.9 501.0 397.9 501.6 397.9 502.3 397.9 503.0 397.9 503.7 397.9 504.3 397.9 505.0 397.9 505.7 398.0 506.4 398.0 507.0 398.0 507.7 398.0 507.9 398.0 508.4 398.1 509.1 398.1 509.7 398.2 510.4 398.4 511.1 398.5 511.8 398.7 511.8 398.7 512.4 399.0 513.1 399.3 513.4 399.4 513.8 399.6 514.4 400.1 514.5 400.1 515.1 400.6 515.4 400.8 515.8 401.3 516.0 401.5 516.5 402.1 516.6 402.2 517.0 402.9 517.1 403.2 517.4 403.6 517.7 404.3 517.8 404.8 517.9 405.0 518.1 405.7 518.2 406.4 518.3 407.1 518.4 407.8 518.4 408.5 518.3 409.2 518.2 409.9 518.1 410.6 518.0 411.3 517.8 411.8 517.7 412.0 517.5 412.7 517.2 413.4 517.1 413.4 516.8 414.1 516.5 414.6 516.4 414.8 515.8 415.5 515.8 415.5 515.3 416.2 515.1 416.3 514.6 416.9 514.4 417.0 513.8 417.5 513.7 417.6 513.1 418.1 512.8 418.3 512.4 418.5 511.8 418.9 511.7 419.0 511.1 419.3 510.5 419.7 510.4 419.7 509.7 420.1 509.2 420.4 509.1 420.5 508.4 420.8 508.0 421.0 507.7 421.2 507.0 421.7 506.9 421.7 506.4 422.1 506.0 422.4 505.7 422.7 505.2 423.1 505.0 423.3 504.6 423.8 504.3 424.1 504.1 424.5 503.7 425.2 503.7 425.3 503.4 425.9 503.2 426.6 503.1 427.3 503.1 428.0 503.0 428.7 503.0 429.4 503.0 430.1 503.0 430.8 503.1 431.5 503.1 432.2 503.1 432.9 503.1 433.6 503.0 434.3 503.0 434.5 502.9 435.0 502.8 435.7 502.7 436.4 502.5 437.1 502.3 437.8 502.3 437.8 502.1 438.5 501.7 439.2 501.6 439.4 501.4 439.9 501.0 440.5 500.9 440.6 500.3 441.3 500.3 441.3 499.6 441.9 499.5 442.0 499.0 442.4 498.5 442.7 498.3 442.8 497.6 443.1 496.9 443.3 496.6 443.4 496.3 443.4 495.6 443.5 494.9 443.5 494.2 443.5 493.6 443.5 492.9 443.4 492.2 443.4 491.5 443.4 490.9 443.4 490.2 443.5 489.5 443.7 488.8 444.0 488.8 444.1 488.2 444.5 487.9 444.8 487.5 445.1 487.2 445.5 486.8 445.9 486.7 446.2 486.2 446.9 486.2 446.9 485.8 447.6 485.5 448.1 485.4 448.3 485.1 448.9 484.8 449.6 484.8 449.7 484.6 450.3 484.3 451.0 484.1 451.7 484.1 451.7 484.0 452.4 483.8 453.1 483.7 453.8 483.6 454.5 483.5 455.2 483.5 455.9 483.5 456.6 483.5 457.3 483.6 458.0 483.7 458.7 483.9 459.4 484.0 460.1 484.1 460.4 484.3 460.8 484.5 461.5 484.7 462.2 484.8 462.4 485.0 462.9 485.2 463.6 485.5 464.3 485.5 464.4 485.6 465.0 485.8 465.7 485.9 466.4 486.1 467.1 486.1 467.8 486.1 468.5 486.1 469.2 486.1 469.9 486.0 470.6 485.9 471.3 485.7 472.0 485.5 472.6 485.4 472.7 485.1 473.4 484.8 474.0 484.8 474.1 484.4 474.8 484.1 475.1 483.8 475.5 483.5 475.9 483.2 476.1 482.8 476.5 482.4 476.8 482.1 477.0 481.4 477.5 481.3 477.5 480.8 477.9 480.1 478.2 479.9 478.2 479.4 478.4 478.7 478.7 478.1 478.9 477.9 478.9 477.4 479.1 476.7 479.3 476.0 479.5 475.6 479.6 475.4 479.7 474.7 480.0 474.0 480.2 473.9 480.3 473.4 480.6 472.7 481.0 472.6 481.0 472.0 481.4 471.5 481.7 471.3 481.8 470.7 482.3 470.5 482.4 470.0 482.8 469.6 483.1 469.3 483.3 468.6 483.8 468.6 483.8 468.0 484.2 467.5 484.5 467.3 484.7 466.6 485.0 466.3 485.2 465.9 485.4 465.3 485.7 464.7 485.9 464.6 486.0 463.9 486.2 463.2 486.4 462.6 486.5 461.9 486.6 461.8 486.6 461.2 486.7 460.5 486.7 459.9 486.7 459.2 486.6 459.2 486.6 458.5 486.5 457.9 486.4 457.2 486.2 456.5 486.0 456.2 485.9 455.8 485.8 455.2 485.5 454.6 485.2 454.5 485.1 453.8 484.8 453.4 484.5 453.1 484.3 452.5 483.8 452.5 483.8 451.8 483.2 451.7 483.1 451.1 482.6 451.0 482.4 450.4 481.8 450.4 481.7 449.8 481.0 449.8 480.9 449.4 480.3 449.1 479.8 449.0 479.6 448.6 478.9 448.4 478.4 448.3 478.2 448.1 477.5 447.9 476.8 447.7 476.4 447.7 476.1 447.5 475.5 447.4 474.8 447.3 474.1 447.3 473.4 447.2 472.7 447.2 472.0 447.2 471.3 447.2 470.6 447.2 469.9 447.2 469.2 447.3 468.5 447.3 467.8 447.3 467.1 447.4 466.4 447.4 465.7 447.4 465.0 447.3 464.3 447.3 463.6 447.2 462.9 447.1 462.2 447.1 462.0 447.0 461.5 446.8 460.8 446.7 460.1 446.5 459.4 446.4 459.2 446.2 458.7 446.0 458.0 445.8 457.3 445.7 457.1 445.5 456.6 445.3 455.9 445.1 455.3 445.0 455.2 444.8 454.5 444.5 453.8 444.4 453.6 444.2 453.1 443.9 452.4 443.7 452.0 443.6 451.7 443.3 451.0 443.0 450.5 442.9 450.3 442.5 449.6 442.4 449.3 442.1 448.9 441.7 448.3 441.6 448.3 441.0 447.6 441.0 447.5 440.3 447.0 440.2 446.9 439.7 446.5 439.0 446.2 438.9 446.2 438.3 446.0 437.6 445.8 437.0 445.7 436.3 445.6 435.6 445.6 434.9 445.6 434.3 445.6 433.6 445.5 432.9 445.5 432.3 445.5 431.6 445.5 431.3 445.5 430.9 445.4 430.2 445.4 429.6 445.4 428.9 445.3 428.2 445.2 427.5 445.2 426.9 445.1 426.2 445.0 425.5 444.9 424.9 444.8 424.8 444.8 424.2 444.6 423.5 444.5 422.8 444.3 422.2 444.1 422.1 444.0 421.5 443.8 420.8 443.4 420.7 443.4 420.1 443.1 419.5 442.7 419.5 442.6 418.8 442.1 418.7 442.0 418.1 441.4 418.0 441.3 417.4 440.6 417.4 440.6 416.9 439.9 416.8 439.6 416.5 439.2 416.2 438.5 416.1 438.2 415.9 437.8 415.7 437.1 415.5 436.4 415.4 435.7 415.4 435.7 415.3 435.0 415.3 434.3 415.3 433.6 415.3 432.9 415.4 432.2 415.4 431.9 415.5 431.5 415.6 430.8 415.8 430.1 416.0 429.4 416.1 429.2 416.3 428.7 416.6 428.0 416.8 427.6 416.9 427.3 417.3 426.6 417.4 426.4 417.7 425.9 418.1 425.3 418.2 425.2 418.7 424.5 418.8 424.4 419.2 423.8 419.5 423.5 419.8 423.1 420.1 422.7 420.4 422.4 420.8 421.9 421.0 421.7 421.5 421.2 421.6 421.0 422.1 420.4 422.2 420.4 422.8 419.7 422.8 419.6 423.3 419.0 423.5 418.7 423.8 418.3 424.2 417.8 424.3 417.6 424.8 416.9 424.8 416.8 425.2 416.2 425.5 415.7 425.6 415.5 426.0 414.8 426.2 414.4 426.3 414.1 426.6 413.4 426.9 412.9 426.9 412.7 427.2 412.0 427.5 411.3 427.5 411.1 427.7 410.6 428.0 409.9 428.2 409.3 428.2 409.2 428.5 408.5 428.7 407.8 428.9 407.4 429.0 407.1 429.3 406.4 429.6 405.7 429.6 405.7 429.9 405.0 430.2 404.3 430.2 404.2 430.5 403.6 430.9 402.9 430.9 402.9 431.3 402.2 431.6 401.8 431.8 401.5 432.2 400.8 432.3 400.8 432.7 400.1 432.9 399.9 433.3 399.4 433.6 399.0 433.9 398.7 434.3 398.2 434.5 398.0 434.9 397.5 435.1 397.3 435.6 396.8 435.7 396.6 436.3 396.0 436.4 395.9 437.0 395.3 437.0 395.2 437.6 394.6 437.7 394.5 438.2 393.8 438.3 393.8 438.8 393.2 439.0 392.9 439.4 392.5 439.7 392.1 439.9 391.8 440.3 391.1 440.4 391.1 440.9 390.4 441.0 390.2 441.4 389.7 441.7 389.2 441.8 389.0 442.3 388.3 442.4 388.2 442.8 387.6 443.0 387.2 443.3 386.9 443.7 386.3 443.8 386.2 444.3 385.5 444.4 385.4 444.8 384.8 445.1 384.5 445.4 384.1 445.7 383.7 446.0 383.4 446.4 383.0 446.7 382.7 447.1 382.3 447.4 382.0 447.7 381.7 448.2 381.3 448.4 381.1 449.1 380.6 449.1 380.6 449.8 380.1 450.1 379.9 450.4 379.7 451.1 379.3 451.3 379.2 451.8 378.9 452.5 378.6 452.8 378.5 453.1 378.4 453.8 378.1 454.5 378.0 455.2 377.8 455.2 377.8Z" fill="#ddc26b"/><path d="M454.5 382.6L455.2 382.4 455.8 382.3 456.5 382.2 457.2 382.1 457.9 382.1 458.5 382.1 459.2 382.1 459.9 382.2 460.5 382.3 461.2 382.4 461.9 382.5 462.4 382.7 462.6 382.7 463.2 382.9 463.9 383.2 464.6 383.4 464.6 383.4 465.3 383.7 465.9 383.9 466.3 384.1 466.6 384.2 467.3 384.5 467.9 384.8 468.0 384.8 468.6 385.1 469.3 385.4 469.4 385.5 470.0 385.7 470.7 386.1 470.9 386.2 471.3 386.4 472.0 386.7 472.2 386.9 472.7 387.1 473.4 387.5 473.5 387.6 474.0 387.9 474.6 388.3 474.7 388.3 475.4 388.8 475.6 389.0 476.0 389.3 476.6 389.7 476.7 389.8 477.4 390.4 477.4 390.4 478.1 391.0 478.2 391.1 478.7 391.6 478.9 391.8 479.4 392.3 479.6 392.5 480.1 393.0 480.2 393.2 480.8 393.7 480.9 393.8 481.4 394.5 481.5 394.5 482.1 395.2 482.1 395.3 482.6 395.9 482.8 396.1 483.2 396.6 483.5 396.9 483.8 397.3 484.1 397.7 484.4 398.0 484.8 398.5 485.0 398.7 485.5 399.3 485.6 399.4 486.2 400.0 486.3 400.1 486.8 400.7 487.0 400.8 487.5 401.3 487.7 401.5 488.2 402.0 488.5 402.2 488.8 402.5 489.3 402.9 489.5 403.1 490.2 403.6 490.2 403.6 490.9 404.1 491.2 404.3 491.5 404.6 492.2 405.0 492.3 405.0 492.9 405.4 493.5 405.7 493.6 405.8 494.2 406.1 494.8 406.4 494.9 406.5 495.6 406.8 496.2 407.1 496.3 407.1 496.9 407.5 497.6 407.8 497.6 407.8 498.3 408.2 498.8 408.5 499.0 408.7 499.5 409.2 499.6 409.4 499.8 409.9 499.7 410.6 499.6 410.7 499.3 411.3 499.0 411.6 498.6 412.0 498.3 412.2 497.6 412.7 497.6 412.7 496.9 413.1 496.5 413.4 496.3 413.5 495.6 413.9 495.4 414.1 494.9 414.4 494.3 414.8 494.2 414.8 493.6 415.3 493.3 415.5 492.9 415.8 492.5 416.2 492.2 416.4 491.7 416.9 491.5 417.0 491.0 417.6 490.9 417.7 490.4 418.3 490.2 418.5 489.9 419.0 489.5 419.4 489.4 419.7 489.0 420.4 488.8 420.6 488.6 421.0 488.3 421.7 488.2 422.0 488.0 422.4 487.7 423.1 487.5 423.8 487.5 423.9 487.3 424.5 487.2 425.2 487.0 425.9 486.9 426.6 486.8 426.9 486.8 427.3 486.7 428.0 486.6 428.7 486.5 429.4 486.4 430.1 486.2 430.8 486.2 431.4 486.1 431.5 486.0 432.2 485.9 432.9 485.7 433.6 485.6 434.3 485.5 434.7 485.4 435.0 485.2 435.7 485.0 436.4 484.8 437.1 484.8 437.1 484.6 437.8 484.4 438.5 484.1 439.1 484.1 439.2 483.9 439.9 483.6 440.6 483.5 441.0 483.4 441.3 483.1 442.0 482.9 442.7 482.8 442.9 482.6 443.4 482.4 444.1 482.1 444.7 482.1 444.8 481.9 445.5 481.6 446.2 481.4 446.6 481.4 446.9 481.1 447.6 480.9 448.3 480.8 448.6 480.6 448.9 480.4 449.6 480.1 450.3 480.1 450.5 479.9 451.0 479.6 451.7 479.4 452.4 479.4 452.4 479.1 453.1 478.9 453.8 478.7 454.2 478.6 454.5 478.4 455.2 478.1 455.9 478.1 455.9 477.8 456.6 477.5 457.3 477.4 457.5 477.2 458.0 476.8 458.7 476.7 458.9 476.5 459.4 476.1 460.1 476.0 460.1 475.6 460.8 475.4 461.2 475.1 461.5 474.7 462.0 474.5 462.2 474.0 462.7 473.8 462.9 473.4 463.3 473.0 463.6 472.7 463.9 472.0 464.3 472.0 464.3 471.3 464.7 470.9 465.0 470.7 465.1 470.0 465.5 469.7 465.7 469.3 465.9 468.6 466.3 468.4 466.4 468.0 466.7 467.4 467.1 467.3 467.2 466.6 467.7 466.5 467.8 465.9 468.4 465.8 468.5 465.4 469.2 465.3 469.4 465.0 469.9 464.8 470.6 464.6 471.2 464.6 471.3 464.4 472.0 464.2 472.7 464.0 473.4 463.9 473.5 463.7 474.1 463.4 474.8 463.2 474.9 462.9 475.5 462.6 475.8 462.2 476.1 461.9 476.4 461.2 476.7 460.9 476.8 460.5 476.9 459.9 477.0 459.2 477.0 458.7 476.8 458.5 476.8 457.9 476.4 457.4 476.1 457.2 475.9 456.7 475.5 456.5 475.1 456.3 474.8 456.0 474.1 455.8 473.6 455.8 473.4 455.6 472.7 455.6 472.0 455.6 471.3 455.6 470.6 455.7 469.9 455.7 469.2 455.8 468.5 455.8 467.8 455.7 467.1 455.6 466.4 455.5 465.7 455.2 465.0 455.2 464.8 454.9 464.3 454.6 463.6 454.5 463.4 454.2 462.9 453.8 462.2 453.8 462.2 453.4 461.5 453.1 461.1 452.9 460.8 452.5 460.1 452.5 460.1 452.1 459.4 451.8 459.0 451.6 458.7 451.2 458.0 451.1 457.9 450.7 457.3 450.4 456.8 450.3 456.6 449.9 455.9 449.8 455.6 449.5 455.2 449.2 454.5 449.1 454.4 448.8 453.8 448.5 453.1 448.4 453.0 448.1 452.4 447.8 451.7 447.7 451.6 447.5 451.0 447.2 450.3 447.1 450.1 446.9 449.6 446.6 448.9 446.4 448.6 446.2 448.3 445.9 447.6 445.7 447.0 445.6 446.9 445.3 446.2 445.1 445.6 445.0 445.5 444.7 444.8 444.4 444.2 444.3 444.1 443.9 443.4 443.7 443.0 443.5 442.7 443.0 442.0 443.0 442.0 442.5 441.3 442.4 441.1 441.8 440.6 441.7 440.5 441.0 440.0 440.9 439.9 440.3 439.6 439.7 439.3 439.2 439.2 439.0 439.1 438.3 439.0 437.6 439.0 437.0 438.9 436.3 438.9 435.6 438.9 434.9 438.9 434.3 438.9 433.6 438.9 432.9 438.8 432.3 438.7 431.6 438.6 430.9 438.5 430.8 438.5 430.2 438.4 429.6 438.2 428.9 438.0 428.4 437.8 428.2 437.7 427.5 437.4 427.0 437.1 426.9 437.0 426.2 436.6 425.9 436.4 425.5 436.0 425.2 435.7 424.8 435.3 424.6 435.0 424.2 434.3 424.2 434.1 424.0 433.6 423.8 432.9 423.8 432.2 423.8 431.5 423.9 430.8 424.0 430.1 424.2 429.7 424.3 429.4 424.5 428.7 424.8 428.0 424.8 428.0 425.2 427.3 425.5 426.7 425.6 426.6 426.0 425.9 426.2 425.6 426.4 425.2 426.8 424.5 426.9 424.5 427.3 423.8 427.5 423.4 427.7 423.1 428.1 422.4 428.2 422.3 428.5 421.7 428.9 421.1 428.9 421.0 429.3 420.4 429.6 419.9 429.7 419.7 430.0 419.0 430.2 418.5 430.3 418.3 430.6 417.6 430.9 416.9 430.9 416.9 431.2 416.2 431.5 415.5 431.6 415.1 431.7 414.8 432.0 414.1 432.2 413.4 432.3 413.2 432.4 412.7 432.7 412.0 432.9 411.3 432.9 411.3 433.2 410.6 433.4 409.9 433.6 409.5 433.7 409.2 434.0 408.5 434.3 407.9 434.3 407.8 434.7 407.1 434.9 406.6 435.0 406.4 435.4 405.7 435.6 405.4 435.9 405.0 436.3 404.3 436.3 404.3 436.8 403.6 437.0 403.3 437.3 402.9 437.6 402.4 437.8 402.2 438.3 401.5 438.3 401.5 438.8 400.8 439.0 400.6 439.3 400.1 439.7 399.7 439.8 399.4 440.3 398.7 440.3 398.7 440.8 398.0 441.0 397.7 441.3 397.3 441.7 396.7 441.7 396.6 442.1 395.9 442.4 395.6 442.6 395.2 443.0 394.5 443.0 394.5 443.4 393.8 443.7 393.4 443.8 393.2 444.3 392.5 444.4 392.3 444.7 391.8 445.1 391.2 445.1 391.1 445.6 390.4 445.7 390.1 446.0 389.7 446.4 389.2 446.5 389.0 447.1 388.3 447.1 388.3 447.6 387.6 447.7 387.4 448.2 386.9 448.4 386.7 448.9 386.2 449.1 386.0 449.6 385.5 449.8 385.3 450.4 384.8 450.5 384.8 451.1 384.3 451.4 384.1 451.8 383.8 452.5 383.5 452.6 383.4 453.1 383.1 453.8 382.8 454.3 382.7Z" fill="#d5b95a"/><path d="M455.8 386.7L456.5 386.6 457.2 386.5 457.9 386.4 458.5 386.4 459.2 386.4 459.9 386.5 460.5 386.6 461.2 386.8 461.7 386.9 461.9 386.9 462.6 387.1 463.2 387.4 463.8 387.6 463.9 387.6 464.6 387.9 465.3 388.2 465.4 388.3 465.9 388.5 466.6 388.8 466.9 389.0 467.3 389.2 468.0 389.5 468.3 389.7 468.6 389.9 469.3 390.2 469.6 390.4 470.0 390.6 470.7 391.0 470.8 391.1 471.3 391.4 471.9 391.8 472.0 391.8 472.7 392.3 473.0 392.5 473.4 392.7 473.9 393.2 474.0 393.2 474.7 393.8 474.8 393.8 475.4 394.4 475.6 394.5 476.0 395.0 476.3 395.2 476.7 395.7 477.0 395.9 477.4 396.4 477.6 396.6 478.1 397.2 478.2 397.3 478.7 398.0 478.7 398.0 479.3 398.7 479.4 398.9 479.8 399.4 480.1 399.9 480.2 400.1 480.7 400.8 480.8 400.9 481.1 401.5 481.4 402.0 481.5 402.2 481.9 402.9 482.1 403.2 482.3 403.6 482.7 404.3 482.8 404.6 483.0 405.0 483.3 405.7 483.5 406.1 483.6 406.4 483.8 407.1 484.0 407.8 484.1 408.4 484.2 408.5 484.3 409.2 484.4 409.9 484.4 410.6 484.5 411.3 484.4 412.0 484.4 412.7 484.3 413.4 484.2 414.1 484.1 414.3 484.1 414.8 483.9 415.5 483.8 416.2 483.6 416.9 483.5 417.5 483.4 417.6 483.3 418.3 483.1 419.0 483.0 419.7 482.8 420.4 482.8 420.6 482.7 421.0 482.6 421.7 482.5 422.4 482.3 423.1 482.2 423.8 482.1 424.5 482.1 424.8 482.1 425.2 482.0 425.9 481.9 426.6 481.8 427.3 481.8 428.0 481.7 428.7 481.6 429.4 481.6 430.1 481.5 430.8 481.4 431.3 481.4 431.5 481.3 432.2 481.3 432.9 481.2 433.6 481.1 434.3 481.0 435.0 480.8 435.7 480.8 436.1 480.7 436.4 480.6 437.1 480.4 437.8 480.3 438.5 480.1 439.2 480.1 439.3 480.0 439.9 479.8 440.6 479.6 441.3 479.4 442.0 479.4 442.0 479.2 442.7 479.0 443.4 478.8 444.1 478.7 444.3 478.6 444.8 478.4 445.5 478.1 446.2 478.1 446.4 477.9 446.9 477.6 447.6 477.4 448.2 477.4 448.3 477.1 448.9 476.8 449.6 476.7 449.9 476.5 450.3 476.2 451.0 476.0 451.3 475.8 451.7 475.5 452.4 475.4 452.6 475.1 453.1 474.7 453.8 474.6 453.8 474.2 454.5 474.0 454.7 473.6 455.2 473.4 455.6 473.1 455.9 472.7 456.3 472.4 456.6 472.0 457.0 471.6 457.3 471.3 457.5 470.7 458.0 470.6 458.0 470.0 458.4 469.4 458.7 469.3 458.8 468.6 459.1 468.0 459.3 467.6 459.4 467.3 459.5 466.6 459.7 465.9 459.8 465.3 459.9 464.6 459.9 463.9 459.9 463.2 459.9 462.6 459.8 461.9 459.7 461.2 459.5 460.9 459.4 460.5 459.3 459.9 459.1 459.2 458.8 459.0 458.7 458.5 458.5 457.9 458.1 457.7 458.0 457.2 457.7 456.6 457.3 456.5 457.2 455.8 456.7 455.7 456.6 455.2 456.1 455.0 455.9 454.5 455.5 454.2 455.2 453.8 454.8 453.6 454.5 453.1 454.0 453.0 453.8 452.5 453.1 452.5 453.1 452.0 452.4 451.8 452.1 451.5 451.7 451.1 451.1 451.1 451.0 450.7 450.3 450.4 449.9 450.3 449.6 449.9 448.9 449.8 448.6 449.6 448.3 449.3 447.6 449.1 447.2 449.0 446.9 448.6 446.2 448.4 445.6 448.4 445.5 448.1 444.8 447.8 444.1 447.7 444.0 447.5 443.4 447.2 442.7 447.1 442.3 446.9 442.0 446.6 441.3 446.4 440.7 446.4 440.6 446.0 439.9 445.8 439.2 445.7 439.1 445.4 438.5 445.1 437.8 445.1 437.7 444.7 437.1 444.4 436.4 444.4 436.4 444.0 435.7 443.7 435.2 443.5 435.0 443.1 434.3 443.0 434.2 442.6 433.6 442.4 433.3 442.0 432.9 441.7 432.5 441.4 432.2 441.0 431.7 440.8 431.5 440.3 431.1 440.1 430.8 439.7 430.4 439.3 430.1 439.0 429.8 438.6 429.4 438.3 429.1 437.9 428.7 437.6 428.3 437.4 428.0 437.0 427.3 437.0 427.2 436.7 426.6 436.6 425.9 436.5 425.2 436.4 424.5 436.4 423.8 436.4 423.1 436.5 422.4 436.5 421.7 436.6 421.0 436.7 420.4 436.8 419.7 436.9 419.0 437.0 418.5 437.0 418.3 437.1 417.6 437.3 416.9 437.4 416.2 437.6 415.5 437.6 415.1 437.7 414.8 437.9 414.1 438.1 413.4 438.3 412.7 438.3 412.6 438.5 412.0 438.8 411.3 439.0 410.7 439.0 410.6 439.3 409.9 439.6 409.2 439.7 409.0 439.9 408.5 440.2 407.8 440.3 407.6 440.6 407.1 440.9 406.4 441.0 406.2 441.3 405.7 441.7 405.0 441.7 405.0 442.0 404.3 442.4 403.7 442.4 403.6 442.8 402.9 443.0 402.4 443.1 402.2 443.5 401.5 443.7 401.1 443.9 400.8 444.2 400.1 444.4 399.9 444.6 399.4 445.0 398.7 445.1 398.5 445.3 398.0 445.7 397.3 445.7 397.3 446.0 396.6 446.4 396.0 446.4 395.9 446.8 395.2 447.1 394.8 447.2 394.5 447.6 393.8 447.7 393.7 448.1 393.2 448.4 392.6 448.5 392.5 449.0 391.8 449.1 391.7 449.6 391.1 449.8 390.8 450.2 390.4 450.4 390.1 450.8 389.7 451.1 389.4 451.6 389.0 451.8 388.8 452.5 388.3 452.5 388.3 453.1 387.9 453.6 387.6 453.8 387.5 454.5 387.2 455.2 386.9 455.3 386.9Z" fill="#caad45"/><path d="M455.8 391.7L456.5 391.4 457.2 391.3 457.9 391.2 458.5 391.2 459.2 391.2 459.9 391.2 460.5 391.3 461.2 391.5 461.9 391.7 462.1 391.8 462.6 391.9 463.2 392.2 463.9 392.5 463.9 392.5 464.6 392.8 465.3 393.1 465.3 393.2 465.9 393.5 466.6 393.8 466.6 393.8 467.3 394.2 467.8 394.5 468.0 394.6 468.6 395.1 468.9 395.2 469.3 395.5 469.9 395.9 470.0 396.0 470.7 396.5 470.9 396.6 471.3 397.0 471.8 397.3 472.0 397.5 472.6 398.0 472.7 398.1 473.3 398.7 473.4 398.8 473.9 399.4 474.0 399.5 474.6 400.1 474.7 400.3 475.1 400.8 475.4 401.2 475.6 401.5 476.0 402.2 476.1 402.2 476.5 402.9 476.7 403.3 476.9 403.6 477.2 404.3 477.4 404.7 477.5 405.0 477.8 405.7 478.1 406.4 478.1 406.4 478.3 407.1 478.5 407.8 478.6 408.5 478.7 409.0 478.8 409.2 478.9 409.9 479.0 410.6 479.0 411.3 479.0 412.0 479.0 412.7 479.0 413.4 479.0 414.1 479.0 414.8 478.9 415.5 478.8 416.2 478.8 416.9 478.7 417.1 478.7 417.6 478.6 418.3 478.5 419.0 478.5 419.7 478.4 420.4 478.3 421.0 478.3 421.7 478.2 422.4 478.2 423.1 478.1 423.8 478.1 424.5 478.1 424.5 478.0 425.2 478.0 425.9 478.0 426.6 477.9 427.3 477.9 428.0 477.9 428.7 477.9 429.4 477.8 430.1 477.8 430.8 477.8 431.5 477.7 432.2 477.7 432.9 477.6 433.6 477.5 434.3 477.5 435.0 477.4 435.7 477.4 435.7 477.3 436.4 477.2 437.1 477.1 437.8 477.0 438.5 476.9 439.2 476.7 439.9 476.7 439.9 476.6 440.6 476.4 441.3 476.2 442.0 476.1 442.7 476.0 442.7 475.9 443.4 475.7 444.1 475.4 444.8 475.4 444.9 475.2 445.5 474.9 446.2 474.7 446.7 474.6 446.9 474.3 447.6 474.0 448.2 474.0 448.3 473.6 448.9 473.4 449.5 473.2 449.6 472.8 450.3 472.7 450.5 472.3 451.0 472.0 451.5 471.8 451.7 471.3 452.2 471.1 452.4 470.7 452.9 470.4 453.1 470.0 453.5 469.5 453.8 469.3 454.0 468.6 454.4 468.3 454.5 468.0 454.7 467.3 455.0 466.6 455.2 466.3 455.2 465.9 455.3 465.3 455.4 464.6 455.5 463.9 455.5 463.2 455.4 462.6 455.3 462.0 455.2 461.9 455.2 461.2 455.0 460.5 454.8 459.9 454.6 459.8 454.5 459.2 454.3 458.5 453.9 458.4 453.8 457.9 453.5 457.4 453.1 457.2 453.0 456.5 452.5 456.5 452.4 455.8 451.9 455.7 451.7 455.2 451.2 455.0 451.0 454.5 450.5 454.4 450.3 453.8 449.6 453.8 449.6 453.3 448.9 453.1 448.6 452.9 448.3 452.5 447.6 452.5 447.6 452.1 446.9 451.8 446.4 451.7 446.2 451.3 445.5 451.1 445.0 451.0 444.8 450.7 444.1 450.4 443.5 450.4 443.4 450.1 442.7 449.8 442.0 449.8 441.8 449.6 441.3 449.3 440.6 449.1 440.0 449.0 439.9 448.8 439.2 448.5 438.5 448.4 438.1 448.3 437.8 448.0 437.1 447.8 436.4 447.7 436.2 447.5 435.7 447.3 435.0 447.1 434.4 447.0 434.3 446.8 433.6 446.5 432.9 446.4 432.6 446.3 432.2 446.0 431.5 445.7 430.8 445.7 430.8 445.4 430.1 445.2 429.4 445.1 429.1 444.9 428.7 444.6 428.0 444.4 427.3 444.4 427.3 444.1 426.6 443.9 425.9 443.7 425.3 443.7 425.2 443.5 424.5 443.3 423.8 443.2 423.1 443.0 422.5 443.0 422.4 442.9 421.7 442.8 421.0 442.7 420.4 442.7 419.7 442.7 419.0 442.7 418.3 442.7 417.6 442.7 416.9 442.8 416.2 442.9 415.5 443.0 414.8 443.0 414.6 443.1 414.1 443.3 413.4 443.4 412.7 443.6 412.0 443.7 411.7 443.8 411.3 444.0 410.6 444.3 409.9 444.4 409.6 444.5 409.2 444.8 408.5 445.0 407.8 445.1 407.7 445.3 407.1 445.6 406.4 445.7 406.1 445.9 405.7 446.2 405.0 446.4 404.5 446.5 404.3 446.8 403.6 447.1 403.0 447.1 402.9 447.4 402.2 447.7 401.5 447.8 401.5 448.1 400.8 448.4 400.1 448.4 400.1 448.8 399.4 449.1 398.8 449.1 398.7 449.5 398.0 449.8 397.6 449.9 397.3 450.4 396.6 450.4 396.5 450.8 395.9 451.1 395.6 451.4 395.2 451.8 394.7 451.9 394.5 452.5 394.0 452.6 393.8 453.1 393.3 453.3 393.2 453.8 392.8 454.3 392.5 454.5 392.3 455.2 392.0 455.6 391.8Z" fill="#bb9f32"/><path d="M458.5 395.9L459.2 395.9 459.9 395.9 460.0 395.9 460.5 396.0 461.2 396.2 461.9 396.4 462.6 396.6 462.6 396.6 463.2 396.9 463.9 397.2 464.1 397.3 464.6 397.6 465.3 398.0 465.3 398.0 465.9 398.4 466.4 398.7 466.6 398.8 467.3 399.3 467.4 399.4 468.0 399.8 468.3 400.1 468.6 400.4 469.2 400.8 469.3 401.0 469.9 401.5 470.0 401.6 470.6 402.2 470.7 402.3 471.2 402.9 471.3 403.1 471.7 403.6 472.0 404.0 472.2 404.3 472.6 405.0 472.7 405.1 473.0 405.7 473.4 406.4 473.4 406.4 473.7 407.1 473.9 407.8 474.0 408.1 474.1 408.5 474.3 409.2 474.5 409.9 474.6 410.6 474.7 411.1 474.7 411.3 474.8 412.0 474.9 412.7 474.9 413.4 474.9 414.1 474.9 414.8 474.9 415.5 474.9 416.2 474.9 416.9 474.9 417.6 474.9 418.3 474.9 419.0 474.9 419.7 474.9 420.4 474.9 421.0 474.9 421.7 474.9 422.4 474.9 423.1 474.9 423.8 474.9 424.5 474.9 425.2 474.9 425.9 474.9 426.6 474.9 427.3 475.0 428.0 475.0 428.7 475.0 429.4 475.0 430.1 475.0 430.8 475.0 431.5 475.0 432.2 475.0 432.9 474.9 433.6 474.9 434.3 474.8 435.0 474.8 435.7 474.7 436.4 474.7 436.6 474.6 437.1 474.6 437.8 474.4 438.5 474.3 439.2 474.2 439.9 474.0 440.6 474.0 440.6 473.9 441.3 473.7 442.0 473.5 442.7 473.4 443.1 473.3 443.4 473.0 444.1 472.7 444.8 472.7 444.9 472.4 445.5 472.1 446.2 472.0 446.4 471.7 446.9 471.3 447.6 471.3 447.6 470.9 448.3 470.7 448.5 470.3 448.9 470.0 449.3 469.7 449.6 469.3 450.0 468.9 450.3 468.6 450.6 468.0 451.0 467.9 451.0 467.3 451.4 466.6 451.7 466.4 451.7 465.9 451.9 465.3 452.0 464.6 452.1 463.9 452.2 463.2 452.1 462.6 452.1 461.9 451.9 461.2 451.7 461.2 451.7 460.5 451.5 459.9 451.2 459.5 451.0 459.2 450.9 458.5 450.5 458.4 450.3 457.9 450.0 457.4 449.6 457.2 449.4 456.7 448.9 456.5 448.8 456.0 448.3 455.8 448.1 455.4 447.6 455.2 447.3 454.8 446.9 454.5 446.4 454.4 446.2 453.9 445.5 453.8 445.3 453.5 444.8 453.1 444.1 453.1 444.1 452.8 443.4 452.5 442.7 452.4 442.7 452.1 442.0 451.8 441.3 451.8 441.2 451.6 440.6 451.3 439.9 451.1 439.4 451.0 439.2 450.8 438.5 450.6 437.8 450.4 437.4 450.3 437.1 450.1 436.4 449.9 435.7 449.8 435.3 449.7 435.0 449.4 434.3 449.2 433.6 449.1 433.1 449.0 432.9 448.8 432.2 448.6 431.5 448.4 430.9 448.4 430.8 448.2 430.1 448.0 429.4 447.8 428.7 447.7 428.6 447.6 428.0 447.4 427.3 447.2 426.6 447.1 426.0 447.0 425.9 446.9 425.2 446.7 424.5 446.6 423.8 446.5 423.1 446.4 422.7 446.4 422.4 446.3 421.7 446.2 421.0 446.1 420.4 446.1 419.7 446.1 419.0 446.1 418.3 446.1 417.6 446.2 416.9 446.2 416.2 446.3 415.5 446.4 415.0 446.4 414.8 446.6 414.1 446.7 413.4 446.9 412.7 447.1 412.0 447.1 412.0 447.3 411.3 447.5 410.6 447.7 409.9 447.7 409.8 448.0 409.2 448.2 408.5 448.4 408.0 448.5 407.8 448.8 407.1 449.1 406.4 449.1 406.4 449.4 405.7 449.7 405.0 449.8 404.9 450.0 404.3 450.4 403.6 450.4 403.5 450.8 402.9 451.1 402.2 451.1 402.2 451.5 401.5 451.8 401.1 452.0 400.8 452.4 400.1 452.5 400.1 452.9 399.4 453.1 399.2 453.5 398.7 453.8 398.4 454.2 398.0 454.5 397.7 455.0 397.3 455.2 397.2 455.8 396.8 456.1 396.6 456.5 396.4 457.2 396.2 457.9 396.0 458.2 395.9Z" fill="#ac9128"/><path d="M458.5 400.8L459.2 400.7 459.9 400.7 460.5 400.8 460.5 400.8 461.2 401.0 461.9 401.2 462.6 401.5 462.7 401.5 463.2 401.8 463.9 402.2 464.0 402.2 464.6 402.6 465.0 402.9 465.3 403.1 465.9 403.6 465.9 403.7 466.6 404.3 466.6 404.3 467.3 405.0 467.3 405.0 467.9 405.7 468.0 405.8 468.4 406.4 468.6 406.7 468.9 407.1 469.3 407.8 469.3 407.8 469.7 408.5 470.0 409.2 470.0 409.2 470.3 409.9 470.5 410.6 470.7 411.2 470.7 411.3 470.9 412.0 471.0 412.7 471.1 413.4 471.3 414.1 471.3 414.6 471.4 414.8 471.4 415.5 471.5 416.2 471.6 416.9 471.7 417.6 471.7 418.3 471.8 419.0 471.8 419.7 471.9 420.4 472.0 421.0 472.0 421.4 472.0 421.7 472.1 422.4 472.2 423.1 472.2 423.8 472.3 424.5 472.4 425.2 472.4 425.9 472.5 426.6 472.6 427.3 472.6 428.0 472.7 428.7 472.7 429.0 472.7 429.4 472.7 430.1 472.8 430.8 472.8 431.5 472.8 432.2 472.8 432.9 472.8 433.6 472.8 434.3 472.8 435.0 472.7 435.7 472.7 436.1 472.6 436.4 472.6 437.1 472.5 437.8 472.4 438.5 472.3 439.2 472.1 439.9 472.0 440.3 471.9 440.6 471.7 441.3 471.5 442.0 471.3 442.5 471.3 442.7 471.0 443.4 470.7 444.1 470.7 444.1 470.3 444.8 470.0 445.4 469.9 445.5 469.5 446.2 469.3 446.4 468.9 446.9 468.6 447.1 468.2 447.6 468.0 447.8 467.3 448.3 467.3 448.3 466.6 448.7 466.0 448.9 465.9 449.0 465.3 449.2 464.6 449.4 463.9 449.4 463.2 449.4 462.6 449.4 461.9 449.2 461.2 449.0 461.0 448.9 460.5 448.8 459.9 448.5 459.5 448.3 459.2 448.1 458.5 447.6 458.5 447.6 457.9 447.1 457.6 446.9 457.2 446.4 456.9 446.2 456.5 445.7 456.3 445.5 455.8 444.8 455.8 444.8 455.3 444.1 455.2 443.8 454.9 443.4 454.5 442.7 454.5 442.7 454.1 442.0 453.8 441.4 453.8 441.3 453.5 440.6 453.2 439.9 453.1 439.8 452.9 439.2 452.6 438.5 452.5 438.0 452.4 437.8 452.1 437.1 451.9 436.4 451.8 436.0 451.7 435.7 451.5 435.0 451.3 434.3 451.1 433.7 451.1 433.6 450.9 432.9 450.7 432.2 450.5 431.5 450.4 431.1 450.4 430.8 450.2 430.1 450.0 429.4 449.9 428.7 449.8 428.4 449.7 428.0 449.5 427.3 449.4 426.6 449.3 425.9 449.1 425.2 449.1 425.1 449.0 424.5 448.9 423.8 448.8 423.1 448.7 422.4 448.7 421.7 448.6 421.0 448.6 420.4 448.6 419.7 448.6 419.0 448.6 418.3 448.7 417.6 448.7 416.9 448.8 416.2 449.0 415.5 449.1 414.8 449.1 414.8 449.3 414.1 449.4 413.4 449.6 412.7 449.8 412.2 449.9 412.0 450.1 411.3 450.4 410.6 450.4 410.4 450.6 409.9 450.9 409.2 451.1 408.8 451.3 408.5 451.6 407.8 451.8 407.4 452.0 407.1 452.4 406.4 452.5 406.2 452.8 405.7 453.1 405.1 453.2 405.0 453.7 404.3 453.8 404.2 454.3 403.6 454.5 403.3 454.9 402.9 455.2 402.6 455.6 402.2 455.8 402.1 456.5 401.6 456.6 401.5 457.2 401.2 457.9 401.0 458.4 400.8Z" fill="#9c8428"/><path d="M457.9 406.4L458.5 406.2 459.2 406.1 459.9 406.1 460.5 406.2 461.1 406.4 461.2 406.4 461.9 406.7 462.5 407.1 462.6 407.1 463.2 407.6 463.5 407.8 463.9 408.2 464.2 408.5 464.6 408.9 464.8 409.2 465.3 409.8 465.4 409.9 465.8 410.6 465.9 410.8 466.2 411.3 466.6 412.0 466.6 412.0 466.9 412.7 467.2 413.4 467.3 413.6 467.5 414.1 467.7 414.8 467.9 415.5 468.0 415.6 468.1 416.2 468.3 416.9 468.5 417.6 468.6 418.1 468.7 418.3 468.8 419.0 469.0 419.7 469.2 420.4 469.3 421.0 469.3 421.0 469.5 421.7 469.6 422.4 469.7 423.1 469.9 423.8 470.0 424.5 470.0 424.5 470.1 425.2 470.2 425.9 470.3 426.6 470.4 427.3 470.5 428.0 470.6 428.7 470.7 429.1 470.7 429.4 470.8 430.1 470.8 430.8 470.9 431.5 470.9 432.2 470.9 432.9 470.9 433.6 470.9 434.3 470.9 435.0 470.8 435.7 470.8 436.4 470.7 437.1 470.7 437.4 470.6 437.8 470.5 438.5 470.3 439.2 470.1 439.9 470.0 440.4 469.9 440.6 469.7 441.3 469.4 442.0 469.3 442.2 469.1 442.7 468.7 443.4 468.6 443.5 468.2 444.1 468.0 444.4 467.7 444.8 467.3 445.2 467.0 445.5 466.6 445.7 466.0 446.2 465.9 446.2 465.3 446.5 464.6 446.7 463.9 446.8 463.8 446.9 463.2 446.9 462.7 446.9 462.6 446.8 461.9 446.7 461.2 446.5 460.5 446.3 460.4 446.2 459.9 445.9 459.2 445.5 459.2 445.5 458.5 444.9 458.4 444.8 457.9 444.3 457.7 444.1 457.2 443.5 457.1 443.4 456.5 442.7 456.5 442.6 456.1 442.0 455.8 441.6 455.7 441.3 455.3 440.6 455.2 440.3 455.0 439.9 454.6 439.2 454.5 438.8 454.4 438.5 454.1 437.8 453.8 437.1 453.8 437.0 453.6 436.4 453.4 435.7 453.2 435.0 453.1 434.9 453.0 434.3 452.8 433.6 452.6 432.9 452.5 432.4 452.4 432.2 452.3 431.5 452.1 430.8 451.9 430.1 451.8 429.4 451.8 429.4 451.7 428.7 451.5 428.0 451.4 427.3 451.3 426.6 451.2 425.9 451.1 425.5 451.1 425.2 451.0 424.5 450.9 423.8 450.9 423.1 450.8 422.4 450.8 421.7 450.8 421.0 450.8 420.4 450.8 419.7 450.9 419.0 450.9 418.3 451.0 417.6 451.1 417.0 451.1 416.9 451.3 416.2 451.5 415.5 451.7 414.8 451.8 414.4 451.9 414.1 452.1 413.4 452.4 412.7 452.5 412.6 452.8 412.0 453.1 411.3 453.1 411.2 453.5 410.6 453.8 410.1 453.9 409.9 454.4 409.2 454.5 409.1 455.0 408.5 455.2 408.3 455.7 407.8 455.8 407.6 456.5 407.1 456.5 407.1 457.2 406.7 457.8 406.4Z" fill="#8b772d"/><path d="M457.9 412.4L458.5 412.2 459.2 412.2 459.9 412.3 460.5 412.6 460.8 412.7 461.2 412.9 461.8 413.4 461.9 413.4 462.6 414.1 462.6 414.1 463.2 414.8 463.2 414.9 463.7 415.5 463.9 415.8 464.1 416.2 464.6 416.9 464.6 416.9 464.9 417.6 465.3 418.2 465.3 418.3 465.6 419.0 465.9 419.7 465.9 419.7 466.2 420.4 466.5 421.0 466.6 421.5 466.7 421.7 466.9 422.4 467.2 423.1 467.3 423.5 467.4 423.8 467.6 424.5 467.8 425.2 468.0 425.9 468.0 426.0 468.1 426.6 468.3 427.3 468.4 428.0 468.5 428.7 468.6 429.4 468.6 429.4 468.7 430.1 468.8 430.8 468.9 431.5 468.9 432.2 469.0 432.9 469.0 433.6 469.0 434.3 468.9 435.0 468.9 435.7 468.8 436.4 468.7 437.1 468.6 437.5 468.6 437.8 468.4 438.5 468.2 439.2 468.0 439.8 467.9 439.9 467.6 440.6 467.3 441.2 467.3 441.3 466.8 442.0 466.6 442.2 466.2 442.7 465.9 442.9 465.4 443.4 465.3 443.4 464.6 443.8 463.9 444.0 463.6 444.1 463.2 444.1 462.6 444.1 462.2 444.1 461.9 444.0 461.2 443.8 460.5 443.5 460.3 443.4 459.9 443.1 459.3 442.7 459.2 442.6 458.6 442.0 458.5 441.9 458.0 441.3 457.9 441.1 457.5 440.6 457.2 440.2 457.0 439.9 456.6 439.2 456.5 439.0 456.3 438.5 455.9 437.8 455.8 437.5 455.7 437.1 455.4 436.4 455.2 435.7 455.1 435.7 454.9 435.0 454.7 434.3 454.5 433.6 454.5 433.4 454.4 432.9 454.2 432.2 454.0 431.5 453.9 430.8 453.8 430.4 453.8 430.1 453.6 429.4 453.5 428.7 453.4 428.0 453.3 427.3 453.2 426.6 453.2 425.9 453.1 425.5 453.1 425.2 453.1 424.5 453.0 423.8 453.0 423.1 453.0 422.4 453.1 421.7 453.1 421.0 453.1 420.9 453.2 420.4 453.3 419.7 453.4 419.0 453.6 418.3 453.8 417.6 453.8 417.5 454.0 416.9 454.3 416.2 454.5 415.8 454.7 415.5 455.1 414.8 455.2 414.7 455.6 414.1 455.8 413.8 456.3 413.4 456.5 413.2 457.2 412.7 457.3 412.7Z" fill="#7a6933"/><path d="M457.9 419.7L458.5 419.3 459.2 419.2 459.9 419.3 460.5 419.5 460.7 419.7 461.2 420.0 461.7 420.4 461.9 420.5 462.4 421.0 462.6 421.3 462.9 421.7 463.2 422.2 463.4 422.4 463.8 423.1 463.9 423.3 464.2 423.8 464.6 424.5 464.6 424.6 464.9 425.2 465.1 425.9 465.3 426.2 465.4 426.6 465.6 427.3 465.8 428.0 465.9 428.4 466.0 428.7 466.2 429.4 466.3 430.1 466.4 430.8 466.5 431.5 466.6 432.2 466.6 432.5 466.6 432.9 466.6 433.6 466.6 434.3 466.6 434.4 466.6 435.0 466.5 435.7 466.3 436.4 466.1 437.1 465.9 437.7 465.9 437.8 465.6 438.5 465.3 439.0 465.1 439.2 464.6 439.8 464.5 439.9 463.9 440.3 463.2 440.5 463.0 440.6 462.6 440.6 461.9 440.6 461.9 440.6 461.2 440.4 460.5 440.0 460.4 439.9 459.9 439.5 459.6 439.2 459.2 438.8 459.0 438.5 458.5 437.9 458.5 437.8 458.1 437.1 457.9 436.7 457.7 436.4 457.4 435.7 457.2 435.1 457.1 435.0 456.9 434.3 456.7 433.6 456.5 432.9 456.5 432.9 456.4 432.2 456.2 431.5 456.1 430.8 456.0 430.1 455.9 429.4 455.8 428.9 455.8 428.7 455.8 428.0 455.7 427.3 455.7 426.6 455.7 425.9 455.7 425.2 455.8 424.5 455.8 424.3 455.9 423.8 456.0 423.1 456.2 422.4 456.4 421.7 456.5 421.5 456.7 421.0 457.2 420.4 457.2 420.3 457.9 419.7Z" fill="#655937"/></g>
<g fill="#2a2a2a" fill-opacity="0.6"><circle cx="455.0" cy="393.3" r="1.45"/><circle cx="455.5" cy="394.6" r="1.45"/><circle cx="460.3" cy="393.8" r="1.45"/><circle cx="472.1" cy="395.3" r="1.45"/><circle cx="451.1" cy="401.5" r="1.45"/><circle cx="461.9" cy="401.2" r="1.45"/><circle cx="462.7" cy="404.3" r="1.45"/><circle cx="466.2" cy="405.6" r="1.45"/><circle cx="475.6" cy="403.0" r="1.45"/><circle cx="438.0" cy="408.0" r="1.45"/><circle cx="455.5" cy="406.9" r="1.45"/><circle cx="455.0" cy="408.2" r="1.45"/><circle cx="469.9" cy="410.0" r="1.45"/><circle cx="471.7" cy="410.2" r="1.45"/><circle cx="479.6" cy="411.7" r="1.45"/><circle cx="458.5" cy="411.7" r="1.45"/><circle cx="451.1" cy="413.9" r="1.45"/><circle cx="468.0" cy="414.3" r="1.45"/><circle cx="455.9" cy="415.7" r="1.45"/><circle cx="460.3" cy="417.4" r="1.45"/><circle cx="440.8" cy="417.6" r="1.45"/><circle cx="454.6" cy="418.7" r="1.45"/><circle cx="452.8" cy="420.5" r="1.45"/><circle cx="448.9" cy="422.2" r="1.45"/><circle cx="470.8" cy="420.5" r="1.45"/><circle cx="472.4" cy="422.2" r="1.45"/><circle cx="457.2" cy="423.1" r="1.45"/><circle cx="459.4" cy="424.9" r="1.45"/><circle cx="461.2" cy="426.2" r="1.45"/><circle cx="456.8" cy="427.9" r="1.45"/><circle cx="459.9" cy="429.7" r="1.45"/><circle cx="461.2" cy="428.4" r="1.45"/><circle cx="467.3" cy="430.1" r="1.45"/><circle cx="478.7" cy="429.7" r="1.45"/><circle cx="432.7" cy="427.9" r="1.45"/><circle cx="421.9" cy="434.0" r="1.45"/><circle cx="436.5" cy="433.3" r="1.45"/><circle cx="463.4" cy="432.3" r="1.45"/><circle cx="463.8" cy="433.0" r="1.45"/><circle cx="459.9" cy="434.8" r="1.45"/><circle cx="457.2" cy="437.4" r="1.45"/><circle cx="462.5" cy="437.6" r="1.45"/><circle cx="467.7" cy="438.6" r="1.45"/><circle cx="475.2" cy="438.3" r="1.45"/><circle cx="460.7" cy="441.0" r="1.45"/><circle cx="464.7" cy="442.8" r="1.45"/><circle cx="489.0" cy="409.6" r="1.45"/><circle cx="500.0" cy="410.0" r="1.45"/><circle cx="512.0" cy="408.4" r="1.45"/><circle cx="496.6" cy="435.4" r="1.45"/><circle cx="455.0" cy="451.6" r="1.45"/><circle cx="468.0" cy="450.4" r="1.45"/><circle cx="469.0" cy="451.4" r="1.45"/><circle cx="480.0" cy="469.4" r="1.45"/><circle cx="454.6" cy="473.0" r="1.45"/><circle cx="463.6" cy="476.0" r="1.45"/><circle cx="457.2" cy="423.5" r="1.45"/><circle cx="456.7" cy="437.1" r="1.45"/><circle cx="460.7" cy="437.1" r="1.45"/><circle cx="462.8" cy="438.4" r="1.45"/><circle cx="465.0" cy="443.2" r="1.45"/><circle cx="465.0" cy="444.7" r="1.45"/></g>
<path d="M402.74 361.29 L403.39 361.29 L404.03 361.29 L404.68 361.28 L405.32 361.28 L405.97 361.27 L406.61 361.26 L407.26 361.25 L407.90 361.24 L408.55 361.23 L409.19 361.21 L409.84 361.19 L410.48 361.17 L411.13 361.14 L411.77 361.11 L412.42 361.08 L413.07 361.05 L413.71 361.01 L414.36 360.97 L415.00 360.92 L415.65 360.88 L416.29 360.83 L416.94 360.78 L417.58 360.74 L418.23 360.69 L418.87 360.64 L419.52 360.59 L420.16 360.54 L420.81 360.50 L421.45 360.45 L422.10 360.40 L422.75 360.36 L423.39 360.31 L424.04 360.26 L424.68 360.20 L425.33 360.15 L425.97 360.08 L426.62 360.02 L427.26 359.94 L427.91 359.86 L428.55 359.78 L429.20 359.69 L429.84 359.60 L430.49 359.50 L431.13 359.40 L431.78 359.30 L432.43 359.19 L433.07 359.09 L433.72 359.00 L434.36 358.90 L435.01 358.81 L435.65 358.72 L436.30 358.64 L436.94 358.55 L437.59 358.47 L438.23 358.37 L438.88 358.27 L439.52 358.16 L440.17 358.03 L440.81 357.88 L441.46 357.69 L442.11 357.47 L442.75 357.21 L443.40 356.90 L444.04 356.53 L444.69 356.11 L445.33 355.62 L445.98 355.07 L446.62 354.46 L447.27 353.78 L447.91 353.04 L448.56 352.24 L449.20 351.38 L449.85 350.48 L450.49 349.55 L451.14 348.59 L451.78 347.61 L452.43 346.63 L453.08 345.66 L453.72 344.72 L454.37 343.81 L455.01 342.96 L455.66 342.16 L456.30 341.43 L456.95 340.79 L457.59 340.24 L458.24 339.79 L458.88 339.43 L459.53 339.18 L460.17 339.04 L460.82 339.00 L461.46 339.06 L462.11 339.22 L462.76 339.48 L463.40 339.82 L464.05 340.24 L464.69 340.73 L465.34 341.29 L465.98 341.89 L466.63 342.55 L467.27 343.24 L467.92 343.95 L468.56 344.69 L469.21 345.43 L469.85 346.19 L470.50 346.94 L471.14 347.69 L471.79 348.42 L472.44 349.14 L473.08 349.84 L473.73 350.53 L474.37 351.19 L475.02 351.82 L475.66 352.43 L476.31 353.02 L476.95 353.58 L477.60 354.12 L478.24 354.63 L478.89 355.11 L479.53 355.57 L480.18 356.00 L480.82 356.40 L481.47 356.78 L482.12 357.13 L482.76 357.46 L483.41 357.76 L484.05 358.03 L484.70 358.28 L485.34 358.51 L485.99 358.70 L486.63 358.88 L487.28 359.03 L487.92 359.16 L488.57 359.27 L489.21 359.36 L489.86 359.43 L490.50 359.49 L491.15 359.53 L491.79 359.57 L492.44 359.60 L493.09 359.61 L493.73 359.63 L494.38 359.64 L495.02 359.65 L495.67 359.66 L496.31 359.68 L496.96 359.69 L497.60 359.71 L498.25 359.74 L498.89 359.77 L499.54 359.80 L500.18 359.84 L500.83 359.88 L501.47 359.92 L502.12 359.97 L502.77 360.02 L503.41 360.06 L504.06 360.11 L504.70 360.15 L505.35 360.19 L505.99 360.23 L506.64 360.27 L507.28 360.30 L507.93 360.33 L508.57 360.36 L509.22 360.39 L509.86 360.42 L510.51 360.44 L511.15 360.47 L511.80 360.50 L512.45 360.53 L513.09 360.56 L513.74 360.60 L514.38 360.63 L515.03 360.67 L515.67 360.71 L516.32 360.76 L516.96 360.80 L517.61 360.84 L518.25 360.89 L518.90 360.93 L519.54 360.97 L520.19 361.01 L520.83 361.05 L521.48 361.08 L522.13 361.11 L522.77 361.14 L523.42 361.17 L524.06 361.19 L524.71 361.21 L525.35 361.23 L526.00 361.24 L526.64 361.25 L527.29 361.26 L527.93 361.27 L528.58 361.28 L529.22 361.28 L529.87 361.29 L530.51 361.29 L531.16 361.29 L531.16 361.3 L402.74 361.3 Z" fill="#fdf1c4" stroke="none" stroke-width="1"/>
<path d="M402.74 361.29 L403.39 361.29 L404.03 361.29 L404.68 361.28 L405.32 361.28 L405.97 361.27 L406.61 361.26 L407.26 361.25 L407.90 361.24 L408.55 361.23 L409.19 361.21 L409.84 361.19 L410.48 361.17 L411.13 361.14 L411.77 361.11 L412.42 361.08 L413.07 361.05 L413.71 361.01 L414.36 360.97 L415.00 360.92 L415.65 360.88 L416.29 360.83 L416.94 360.78 L417.58 360.74 L418.23 360.69 L418.87 360.64 L419.52 360.59 L420.16 360.54 L420.81 360.50 L421.45 360.45 L422.10 360.40 L422.75 360.36 L423.39 360.31 L424.04 360.26 L424.68 360.20 L425.33 360.15 L425.97 360.08 L426.62 360.02 L427.26 359.94 L427.91 359.86 L428.55 359.78 L429.20 359.69 L429.84 359.60 L430.49 359.50 L431.13 359.40 L431.78 359.30 L432.43 359.19 L433.07 359.09 L433.72 359.00 L434.36 358.90 L435.01 358.81 L435.65 358.72 L436.30 358.64 L436.94 358.55 L437.59 358.47 L438.23 358.37 L438.88 358.27 L439.52 358.16 L440.17 358.03 L440.81 357.88 L441.46 357.69 L442.11 357.47 L442.75 357.21 L443.40 356.90 L444.04 356.53 L444.69 356.11 L445.33 355.62 L445.98 355.07 L446.62 354.46 L447.27 353.78 L447.91 353.04 L448.56 352.24 L449.20 351.38 L449.85 350.48 L450.49 349.55 L451.14 348.59 L451.78 347.61 L452.43 346.63 L453.08 345.66 L453.72 344.72 L454.37 343.81 L455.01 342.96 L455.66 342.16 L456.30 341.43 L456.95 340.79 L457.59 340.24 L458.24 339.79 L458.88 339.43 L459.53 339.18 L460.17 339.04 L460.82 339.00 L461.46 339.06 L462.11 339.22 L462.76 339.48 L463.40 339.82 L464.05 340.24 L464.69 340.73 L465.34 341.29 L465.98 341.89 L466.63 342.55 L467.27 343.24 L467.92 343.95 L468.56 344.69 L469.21 345.43 L469.85 346.19 L470.50 346.94 L471.14 347.69 L471.79 348.42 L472.44 349.14 L473.08 349.84 L473.73 350.53 L474.37 351.19 L475.02 351.82 L475.66 352.43 L476.31 353.02 L476.95 353.58 L477.60 354.12 L478.24 354.63 L478.89 355.11 L479.53 355.57 L480.18 356.00 L480.82 356.40 L481.47 356.78 L482.12 357.13 L482.76 357.46 L483.41 357.76 L484.05 358.03 L484.70 358.28 L485.34 358.51 L485.99 358.70 L486.63 358.88 L487.28 359.03 L487.92 359.16 L488.57 359.27 L489.21 359.36 L489.86 359.43 L490.50 359.49 L491.15 359.53 L491.79 359.57 L492.44 359.60 L493.09 359.61 L493.73 359.63 L494.38 359.64 L495.02 359.65 L495.67 359.66 L496.31 359.68 L496.96 359.69 L497.60 359.71 L498.25 359.74 L498.89 359.77 L499.54 359.80 L500.18 359.84 L500.83 359.88 L501.47 359.92 L502.12 359.97 L502.77 360.02 L503.41 360.06 L504.06 360.11 L504.70 360.15 L505.35 360.19 L505.99 360.23 L506.64 360.27 L507.28 360.30 L507.93 360.33 L508.57 360.36 L509.22 360.39 L509.86 360.42 L510.51 360.44 L511.15 360.47 L511.80 360.50 L512.45 360.53 L513.09 360.56 L513.74 360.60 L514.38 360.63 L515.03 360.67 L515.67 360.71 L516.32 360.76 L516.96 360.80 L517.61 360.84 L518.25 360.89 L518.90 360.93 L519.54 360.97 L520.19 361.01 L520.83 361.05 L521.48 361.08 L522.13 361.11 L522.77 361.14 L523.42 361.17 L524.06 361.19 L524.71 361.21 L525.35 361.23 L526.00 361.24 L526.64 361.25 L527.29 361.26 L527.93 361.27 L528.58 361.28 L529.22 361.28 L529.87 361.29 L530.51 361.29 L531.16 361.29" fill="none" stroke="#f6cd2a" stroke-width="1.3" stroke-linejoin="round"/>
<line x1="400.10" y1="361.30" x2="534.50" y2="361.30" stroke="#7a6a20" stroke-width="1.1"/>
<path d="M538.13 368.86 L538.14 369.52 L538.15 370.18 L538.16 370.84 L538.18 371.50 L538.20 372.16 L538.22 372.83 L538.25 373.49 L538.29 374.15 L538.33 374.81 L538.38 375.47 L538.44 376.13 L538.50 376.79 L538.58 377.45 L538.67 378.12 L538.77 378.78 L538.89 379.44 L539.02 380.10 L539.17 380.76 L539.33 381.42 L539.51 382.08 L539.71 382.74 L539.93 383.41 L540.17 384.07 L540.43 384.73 L540.70 385.39 L541.00 386.05 L541.31 386.71 L541.64 387.37 L541.99 388.03 L542.36 388.69 L542.75 389.36 L543.15 390.02 L543.57 390.68 L544.00 391.34 L544.45 392.00 L544.90 392.66 L545.38 393.32 L545.86 393.98 L546.36 394.65 L546.86 395.31 L547.38 395.97 L547.91 396.63 L548.44 397.29 L548.98 397.95 L549.52 398.61 L550.07 399.27 L550.62 399.94 L551.16 400.60 L551.71 401.26 L552.25 401.92 L552.78 402.58 L553.29 403.24 L553.80 403.90 L554.28 404.56 L554.75 405.23 L555.20 405.89 L555.62 406.55 L556.01 407.21 L556.38 407.87 L556.71 408.53 L557.02 409.19 L557.30 409.85 L557.54 410.52 L557.76 411.18 L557.95 411.84 L558.12 412.50 L558.27 413.16 L558.39 413.82 L558.50 414.48 L558.59 415.14 L558.68 415.81 L558.75 416.47 L558.82 417.13 L558.88 417.79 L558.95 418.45 L559.01 419.11 L559.08 419.77 L559.15 420.43 L559.23 421.09 L559.31 421.76 L559.40 422.42 L559.49 423.08 L559.58 423.74 L559.68 424.40 L559.77 425.06 L559.87 425.72 L559.95 426.38 L560.03 427.05 L560.10 427.71 L560.15 428.37 L560.19 429.03 L560.20 429.69 L560.19 430.35 L560.15 431.01 L560.07 431.67 L559.97 432.34 L559.82 433.00 L559.64 433.66 L559.42 434.32 L559.16 434.98 L558.85 435.64 L558.50 436.30 L558.11 436.96 L557.68 437.63 L557.21 438.29 L556.71 438.95 L556.18 439.61 L555.61 440.27 L555.02 440.93 L554.41 441.59 L553.78 442.25 L553.14 442.92 L552.48 443.58 L551.83 444.24 L551.17 444.90 L550.51 445.56 L549.87 446.22 L549.23 446.88 L548.60 447.54 L547.99 448.21 L547.40 448.87 L546.82 449.53 L546.27 450.19 L545.74 450.85 L545.23 451.51 L544.75 452.17 L544.29 452.83 L543.86 453.49 L543.45 454.16 L543.08 454.82 L542.72 455.48 L542.40 456.14 L542.11 456.80 L541.84 457.46 L541.60 458.12 L541.39 458.78 L541.21 459.45 L541.05 460.11 L540.92 460.77 L540.81 461.43 L540.72 462.09 L540.66 462.75 L540.62 463.41 L540.59 464.07 L540.58 464.74 L540.58 465.40 L540.59 466.06 L540.61 466.72 L540.64 467.38 L540.67 468.04 L540.70 468.70 L540.73 469.36 L540.75 470.03 L540.77 470.69 L540.78 471.35 L540.78 472.01 L540.77 472.67 L540.74 473.33 L540.71 473.99 L540.66 474.65 L540.61 475.32 L540.54 475.98 L540.46 476.64 L540.37 477.30 L540.27 477.96 L540.16 478.62 L540.05 479.28 L539.93 479.94 L539.82 480.61 L539.69 481.27 L539.57 481.93 L539.45 482.59 L539.34 483.25 L539.22 483.91 L539.11 484.57 L539.01 485.23 L538.91 485.89 L538.82 486.56 L538.73 487.22 L538.65 487.88 L538.58 488.54 L538.52 489.20 L538.46 489.86 L538.41 490.52 L538.36 491.18 L538.32 491.85 L538.28 492.51 L538.25 493.17 L538.23 493.83 L538.20 494.49 L538.19 495.15 L538.17 495.81 L538.16 496.47 L538.15 497.14 L538.14 497.80 L538.13 498.46 L538.12 499.12 L538.12 499.78 L538.11 500.44 L538.1 500.44 L538.1 368.86 Z" fill="#fdf1c4" stroke="none" stroke-width="1"/>
<path d="M538.13 368.86 L538.14 369.52 L538.15 370.18 L538.16 370.84 L538.18 371.50 L538.20 372.16 L538.22 372.83 L538.25 373.49 L538.29 374.15 L538.33 374.81 L538.38 375.47 L538.44 376.13 L538.50 376.79 L538.58 377.45 L538.67 378.12 L538.77 378.78 L538.89 379.44 L539.02 380.10 L539.17 380.76 L539.33 381.42 L539.51 382.08 L539.71 382.74 L539.93 383.41 L540.17 384.07 L540.43 384.73 L540.70 385.39 L541.00 386.05 L541.31 386.71 L541.64 387.37 L541.99 388.03 L542.36 388.69 L542.75 389.36 L543.15 390.02 L543.57 390.68 L544.00 391.34 L544.45 392.00 L544.90 392.66 L545.38 393.32 L545.86 393.98 L546.36 394.65 L546.86 395.31 L547.38 395.97 L547.91 396.63 L548.44 397.29 L548.98 397.95 L549.52 398.61 L550.07 399.27 L550.62 399.94 L551.16 400.60 L551.71 401.26 L552.25 401.92 L552.78 402.58 L553.29 403.24 L553.80 403.90 L554.28 404.56 L554.75 405.23 L555.20 405.89 L555.62 406.55 L556.01 407.21 L556.38 407.87 L556.71 408.53 L557.02 409.19 L557.30 409.85 L557.54 410.52 L557.76 411.18 L557.95 411.84 L558.12 412.50 L558.27 413.16 L558.39 413.82 L558.50 414.48 L558.59 415.14 L558.68 415.81 L558.75 416.47 L558.82 417.13 L558.88 417.79 L558.95 418.45 L559.01 419.11 L559.08 419.77 L559.15 420.43 L559.23 421.09 L559.31 421.76 L559.40 422.42 L559.49 423.08 L559.58 423.74 L559.68 424.40 L559.77 425.06 L559.87 425.72 L559.95 426.38 L560.03 427.05 L560.10 427.71 L560.15 428.37 L560.19 429.03 L560.20 429.69 L560.19 430.35 L560.15 431.01 L560.07 431.67 L559.97 432.34 L559.82 433.00 L559.64 433.66 L559.42 434.32 L559.16 434.98 L558.85 435.64 L558.50 436.30 L558.11 436.96 L557.68 437.63 L557.21 438.29 L556.71 438.95 L556.18 439.61 L555.61 440.27 L555.02 440.93 L554.41 441.59 L553.78 442.25 L553.14 442.92 L552.48 443.58 L551.83 444.24 L551.17 444.90 L550.51 445.56 L549.87 446.22 L549.23 446.88 L548.60 447.54 L547.99 448.21 L547.40 448.87 L546.82 449.53 L546.27 450.19 L545.74 450.85 L545.23 451.51 L544.75 452.17 L544.29 452.83 L543.86 453.49 L543.45 454.16 L543.08 454.82 L542.72 455.48 L542.40 456.14 L542.11 456.80 L541.84 457.46 L541.60 458.12 L541.39 458.78 L541.21 459.45 L541.05 460.11 L540.92 460.77 L540.81 461.43 L540.72 462.09 L540.66 462.75 L540.62 463.41 L540.59 464.07 L540.58 464.74 L540.58 465.40 L540.59 466.06 L540.61 466.72 L540.64 467.38 L540.67 468.04 L540.70 468.70 L540.73 469.36 L540.75 470.03 L540.77 470.69 L540.78 471.35 L540.78 472.01 L540.77 472.67 L540.74 473.33 L540.71 473.99 L540.66 474.65 L540.61 475.32 L540.54 475.98 L540.46 476.64 L540.37 477.30 L540.27 477.96 L540.16 478.62 L540.05 479.28 L539.93 479.94 L539.82 480.61 L539.69 481.27 L539.57 481.93 L539.45 482.59 L539.34 483.25 L539.22 483.91 L539.11 484.57 L539.01 485.23 L538.91 485.89 L538.82 486.56 L538.73 487.22 L538.65 487.88 L538.58 488.54 L538.52 489.20 L538.46 489.86 L538.41 490.52 L538.36 491.18 L538.32 491.85 L538.28 492.51 L538.25 493.17 L538.23 493.83 L538.20 494.49 L538.19 495.15 L538.17 495.81 L538.16 496.47 L538.15 497.14 L538.14 497.80 L538.13 498.46 L538.12 499.12 L538.12 499.78 L538.11 500.44" fill="none" stroke="#f6cd2a" stroke-width="1.3" stroke-linejoin="round"/>
<line x1="538.10" y1="366.60" x2="538.10" y2="503.00" stroke="#7a6a20" stroke-width="1.1"/>
<line x1="459.60" y1="339.00" x2="459.60" y2="503.00" stroke="#2a2a2a" stroke-width="0.9" stroke-dasharray="3.2 2.4"/>
<line x1="400.60" y1="429.40" x2="560.00" y2="429.40" stroke="#3a3a3a" stroke-width="0.9" stroke-dasharray="3.2 2.4"/>
<line x1="400.60" y1="366.60" x2="400.60" y2="503.00" stroke="#8a8a8a" stroke-width="1.0"/>
<line x1="400.60" y1="503.00" x2="534.50" y2="503.00" stroke="#bdbdbd" stroke-width="1.2"/>
<line x1="400.60" y1="373.75" x2="404.60" y2="373.75" stroke="#9a9a9a" stroke-width="0.9"/>
<text x="395.40" y="376.95" font-size="9.0" text-anchor="end" fill="#333">0.50</text>
<line x1="400.60" y1="401.57" x2="404.60" y2="401.57" stroke="#9a9a9a" stroke-width="0.9"/>
<text x="395.40" y="404.77" font-size="9.0" text-anchor="end" fill="#333">0.25</text>
<line x1="400.60" y1="429.40" x2="404.60" y2="429.40" stroke="#9a9a9a" stroke-width="0.9"/>
<text x="395.40" y="432.60" font-size="9.0" text-anchor="end" fill="#333">0</text>
<line x1="400.60" y1="457.22" x2="404.60" y2="457.22" stroke="#9a9a9a" stroke-width="0.9"/>
<text x="395.40" y="460.42" font-size="9.0" text-anchor="end" fill="#333">−0.25</text>
<line x1="400.60" y1="485.05" x2="404.60" y2="485.05" stroke="#9a9a9a" stroke-width="0.9"/>
<text x="395.40" y="488.25" font-size="9.0" text-anchor="end" fill="#333">−0.50</text>
<line x1="402.80" y1="503.00" x2="402.80" y2="499.00" stroke="#9a9a9a" stroke-width="0.9"/>
<text x="402.80" y="514.10" font-size="9.0" text-anchor="middle" fill="#333">−2</text>
<line x1="459.60" y1="503.00" x2="459.60" y2="499.00" stroke="#9a9a9a" stroke-width="0.9"/>
<text x="459.60" y="514.10" font-size="9.0" text-anchor="middle" fill="#333">0</text>
<line x1="516.40" y1="503.00" x2="516.40" y2="499.00" stroke="#9a9a9a" stroke-width="0.9"/>
<text x="516.40" y="514.10" font-size="9.0" text-anchor="middle" fill="#333">2</text>
<text x="116.3" y="332.6" font-size="10.7" fill="#222" textLength="44.5" lengthAdjust="spacingAndGlyphs"><tspan font-style="italic">P</tspan> &lt; 0.001</text>
<g fill="#222"><path d="M132.80 336.30 L133.48 337.97 L135.27 338.10 L133.89 339.26 L134.33 341.00 L132.80 340.05 L131.27 341.00 L131.71 339.26 L130.33 338.10 L132.12 337.97 Z"/><path d="M138.30 336.30 L138.98 337.97 L140.77 338.10 L139.39 339.26 L139.83 341.00 L138.30 340.05 L136.77 341.00 L137.21 339.26 L135.83 338.10 L137.62 337.97 Z"/><path d="M143.80 336.30 L144.48 337.97 L146.27 338.10 L144.89 339.26 L145.33 341.00 L143.80 340.05 L142.27 341.00 L142.71 339.26 L141.33 338.10 L143.12 337.97 Z"/></g>
<text x="204.75" y="449.20" font-size="10.2" fill="#222" textLength="15.40" lengthAdjust="spacingAndGlyphs">NS</text>
<text x="473.55" y="345.00" font-size="10.2" fill="#222" textLength="15.10" lengthAdjust="spacingAndGlyphs">NS</text>
<text x="549.35" y="440.40" font-size="10.2" fill="#222" textLength="14.30" lengthAdjust="spacingAndGlyphs">NS</text>
<text x="111.00" y="527.00" font-size="11.0" font-style="italic" fill="#222">w</text>
<text x="118.74" y="529.90" font-size="8.0" fill="#222" textLength="30.26" lengthAdjust="spacingAndGlyphs">outcome</text>
<text x="448.60" y="526.90" font-size="11.0" font-style="italic" fill="#222">w</text>
<text x="456.34" y="529.80" font-size="8.0" fill="#222" textLength="30.46" lengthAdjust="spacingAndGlyphs">outcome</text>
<g transform="translate(28.90 441.40) rotate(-90)"><text x="0" y="0" font-size="11.0" font-style="italic" fill="#222">w</text><text x="7.74" y="2.9" font-size="8.0" font-style="italic" fill="#222" textLength="9.06" lengthAdjust="spacingAndGlyphs">EV</text></g>
<g transform="translate(365.90 443.00) rotate(-90)"><text x="0" y="0" font-size="11.0" font-style="italic" fill="#222">w</text><text x="7.74" y="2.9" font-size="8.0" font-style="italic" fill="#222" textLength="9.16" lengthAdjust="spacingAndGlyphs">EV</text></g>
<line x1="254.50" y1="361.10" x2="321.10" y2="361.10" stroke="#6a6a6a" stroke-width="1.0"/>
<line x1="254.50" y1="363.70" x2="254.50" y2="501.00" stroke="#6a6a6a" stroke-width="1.0"/>
<line x1="323.40" y1="363.70" x2="323.40" y2="501.00" stroke="#6a6a6a" stroke-width="1.0"/>
<line x1="254.50" y1="501.00" x2="321.10" y2="501.00" stroke="#6a6a6a" stroke-width="1.0"/>
<line x1="254.50" y1="385.46" x2="258.50" y2="385.46" stroke="#666" stroke-width="0.9"/>
<text x="249.40" y="388.66" font-size="9.3" text-anchor="end" fill="#333">60</text>
<line x1="254.50" y1="413.04" x2="258.50" y2="413.04" stroke="#666" stroke-width="0.9"/>
<text x="249.40" y="416.24" font-size="9.3" text-anchor="end" fill="#333">40</text>
<line x1="254.50" y1="440.62" x2="258.50" y2="440.62" stroke="#666" stroke-width="0.9"/>
<text x="249.40" y="443.82" font-size="9.3" text-anchor="end" fill="#333">20</text>
<line x1="254.50" y1="468.20" x2="258.50" y2="468.20" stroke="#666" stroke-width="0.9"/>
<text x="249.40" y="471.40" font-size="9.3" text-anchor="end" fill="#333">0</text>
<line x1="254.50" y1="495.78" x2="258.50" y2="495.78" stroke="#666" stroke-width="0.9"/>
<text x="249.40" y="498.98" font-size="9.3" text-anchor="end" fill="#333">−20</text>
<path d="M289.50 378.50 C289.70 381.18 289.95 389.85 290.70 394.60 C291.45 399.35 292.55 403.28 294.00 407.00 C295.45 410.72 297.68 414.02 299.40 416.90 C301.12 419.78 303.07 421.82 304.30 424.30 C305.53 426.78 306.80 429.32 306.80 431.80 C306.80 434.28 305.20 436.72 304.30 439.20 C303.40 441.68 301.40 444.22 301.40 446.70 C301.40 449.18 303.32 451.83 304.30 454.10 C305.28 456.37 307.30 458.23 307.30 460.30 C307.30 462.37 306.03 464.23 304.30 466.50 C302.57 468.77 299.03 471.43 296.90 473.90 C294.77 476.37 292.73 478.48 291.50 481.30 C290.27 484.12 289.83 489.22 289.50 490.80 Z" fill="#dfe3f1" stroke="none" stroke-width="1"/>
<path d="M289.50 378.50 C289.70 381.18 289.95 389.85 290.70 394.60 C291.45 399.35 292.55 403.28 294.00 407.00 C295.45 410.72 297.68 414.02 299.40 416.90 C301.12 419.78 303.07 421.82 304.30 424.30 C305.53 426.78 306.80 429.32 306.80 431.80 C306.80 434.28 305.20 436.72 304.30 439.20 C303.40 441.68 301.40 444.22 301.40 446.70 C301.40 449.18 303.32 451.83 304.30 454.10 C305.28 456.37 307.30 458.23 307.30 460.30 C307.30 462.37 306.03 464.23 304.30 466.50 C302.57 468.77 299.03 471.43 296.90 473.90 C294.77 476.37 292.73 478.48 291.50 481.30 C290.27 484.12 289.83 489.22 289.50 490.80" fill="none" stroke="#7b93cf" stroke-width="1.05"/>
<line x1="289.50" y1="378.50" x2="289.50" y2="490.80" stroke="#7b93cf" stroke-width="1.1"/>
<g fill="#333" fill-opacity="0.55"><circle cx="282.5" cy="401.8" r="1.6"/><circle cx="281.0" cy="404.1" r="1.6"/><circle cx="279.0" cy="410.5" r="1.6"/><circle cx="278.1" cy="413.5" r="1.6"/><circle cx="283.1" cy="416.7" r="1.6"/><circle cx="284.0" cy="419.0" r="1.6"/><circle cx="281.0" cy="420.5" r="1.6"/><circle cx="283.1" cy="424.4" r="1.6"/><circle cx="277.5" cy="426.6" r="1.6"/><circle cx="280.2" cy="427.8" r="1.6"/><circle cx="281.9" cy="428.3" r="1.6"/><circle cx="284.3" cy="429.5" r="1.6"/><circle cx="278.7" cy="430.7" r="1.6"/><circle cx="279.6" cy="432.4" r="1.6"/><circle cx="282.5" cy="431.3" r="1.6"/><circle cx="283.7" cy="434.2" r="1.6"/><circle cx="277.8" cy="434.2" r="1.6"/><circle cx="280.8" cy="435.3" r="1.6"/><circle cx="284.3" cy="435.3" r="1.6"/><circle cx="278.5" cy="431.8" r="1.6"/><circle cx="280.9" cy="431.2" r="1.6"/><circle cx="283.4" cy="430.9" r="1.6"/><circle cx="280.9" cy="436.1" r="1.6"/><circle cx="284.0" cy="435.8" r="1.6"/><circle cx="277.5" cy="439.2" r="1.6"/><circle cx="280.0" cy="440.1" r="1.6"/><circle cx="283.4" cy="440.1" r="1.6"/><circle cx="279.7" cy="444.7" r="1.6"/><circle cx="278.2" cy="447.1" r="1.6"/><circle cx="284.0" cy="446.4" r="1.6"/><circle cx="279.4" cy="450.2" r="1.6"/><circle cx="277.9" cy="453.9" r="1.6"/><circle cx="278.8" cy="454.5" r="1.6"/><circle cx="282.7" cy="453.0" r="1.6"/><circle cx="282.4" cy="458.2" r="1.6"/><circle cx="278.2" cy="461.2" r="1.6"/><circle cx="280.6" cy="463.0" r="1.6"/><circle cx="281.5" cy="463.7" r="1.6"/><circle cx="284.0" cy="463.0" r="1.6"/><circle cx="278.5" cy="466.7" r="1.6"/><circle cx="283.4" cy="467.3" r="1.6"/><circle cx="279.7" cy="468.6" r="1.6"/><circle cx="278.0" cy="429.0" r="1.6"/><circle cx="278.4" cy="453.5" r="1.6"/><circle cx="280.8" cy="462.5" r="1.6"/><circle cx="279.0" cy="432.0" r="1.6"/><circle cx="279.5" cy="428.5" r="1.6"/><circle cx="281.0" cy="430.0" r="1.6"/><circle cx="278.8" cy="433.0" r="1.6"/><circle cx="280.5" cy="463.5" r="1.6"/><circle cx="282.0" cy="464.5" r="1.6"/><circle cx="279.0" cy="462.0" r="1.6"/><circle cx="278.0" cy="454.5" r="1.6"/><circle cx="283.5" cy="445.5" r="1.6"/><circle cx="281.5" cy="420.0" r="1.6"/><circle cx="282.8" cy="418.0" r="1.6"/></g>
<text x="246.85" y="516.00" font-size="10.8" fill="#222" textLength="82.20" lengthAdjust="spacingAndGlyphs">Craving baseline</text>
<line x1="597.00" y1="364.50" x2="661.80" y2="364.50" stroke="#6a6a6a" stroke-width="1.0"/>
<line x1="597.00" y1="367.10" x2="597.00" y2="502.00" stroke="#bdbdbd" stroke-width="1.0"/>
<line x1="664.40" y1="367.10" x2="664.40" y2="502.00" stroke="#6a6a6a" stroke-width="1.0"/>
<line x1="597.00" y1="502.00" x2="661.80" y2="502.00" stroke="#6a6a6a" stroke-width="1.0"/>
<line x1="597.00" y1="389.20" x2="601.00" y2="389.20" stroke="#666" stroke-width="0.9"/>
<text x="591.60" y="392.40" font-size="9.3" text-anchor="end" fill="#333">60</text>
<line x1="597.00" y1="415.80" x2="601.00" y2="415.80" stroke="#666" stroke-width="0.9"/>
<text x="591.60" y="419.00" font-size="9.3" text-anchor="end" fill="#333">40</text>
<line x1="597.00" y1="442.40" x2="601.00" y2="442.40" stroke="#666" stroke-width="0.9"/>
<text x="591.60" y="445.60" font-size="9.3" text-anchor="end" fill="#333">20</text>
<line x1="597.00" y1="469.00" x2="601.00" y2="469.00" stroke="#666" stroke-width="0.9"/>
<text x="591.60" y="472.20" font-size="9.3" text-anchor="end" fill="#333">0</text>
<line x1="597.00" y1="495.60" x2="601.00" y2="495.60" stroke="#666" stroke-width="0.9"/>
<text x="591.60" y="498.80" font-size="9.3" text-anchor="end" fill="#333">−20</text>
<path d="M634.53 381.20 C634.78 383.75 635.19 391.40 636.06 396.50 C636.93 401.60 638.46 406.70 639.73 411.80 C641.01 416.90 642.38 422.00 643.71 427.10 C645.03 432.20 646.31 438.32 647.69 442.40 C649.06 446.48 650.95 449.03 651.97 451.58 C652.99 454.13 653.91 455.66 653.81 457.70 C653.70 459.74 652.79 461.78 651.36 463.82 C649.93 465.86 647.38 467.90 645.24 469.94 C643.10 471.98 640.14 474.02 638.51 476.06 C636.87 478.10 636.11 479.63 635.45 482.18 C634.78 484.73 634.68 489.83 634.53 491.36 Z" fill="#fdf1c4" stroke="none" stroke-width="1"/>
<path d="M634.53 381.20 C634.78 383.75 635.19 391.40 636.06 396.50 C636.93 401.60 638.46 406.70 639.73 411.80 C641.01 416.90 642.38 422.00 643.71 427.10 C645.03 432.20 646.31 438.32 647.69 442.40 C649.06 446.48 650.95 449.03 651.97 451.58 C652.99 454.13 653.91 455.66 653.81 457.70 C653.70 459.74 652.79 461.78 651.36 463.82 C649.93 465.86 647.38 467.90 645.24 469.94 C643.10 471.98 640.14 474.02 638.51 476.06 C636.87 478.10 636.11 479.63 635.45 482.18 C634.78 484.73 634.68 489.83 634.53 491.36" fill="none" stroke="#f6cd2a" stroke-width="1.05"/>
<line x1="634.50" y1="381.20" x2="634.50" y2="491.36" stroke="#f6cd2a" stroke-width="1.1"/>
<g fill="#333" fill-opacity="0.55"><circle cx="622.7" cy="404.1" r="1.6"/><circle cx="624.7" cy="407.7" r="1.6"/><circle cx="624.1" cy="408.5" r="1.6"/><circle cx="624.1" cy="413.8" r="1.6"/><circle cx="627.7" cy="415.4" r="1.6"/><circle cx="625.0" cy="418.5" r="1.6"/><circle cx="626.9" cy="420.1" r="1.6"/><circle cx="628.3" cy="421.2" r="1.6"/><circle cx="626.6" cy="425.1" r="1.6"/><circle cx="623.0" cy="428.4" r="1.6"/><circle cx="627.7" cy="428.4" r="1.6"/><circle cx="622.7" cy="432.3" r="1.6"/><circle cx="626.0" cy="432.9" r="1.6"/><circle cx="622.2" cy="435.6" r="1.6"/><circle cx="626.0" cy="435.6" r="1.6"/><circle cx="622.3" cy="432.9" r="1.6"/><circle cx="625.2" cy="433.2" r="1.6"/><circle cx="626.9" cy="432.9" r="1.6"/><circle cx="622.3" cy="436.4" r="1.6"/><circle cx="624.9" cy="437.0" r="1.6"/><circle cx="624.0" cy="441.9" r="1.6"/><circle cx="622.6" cy="444.6" r="1.6"/><circle cx="626.9" cy="446.3" r="1.6"/><circle cx="624.6" cy="447.8" r="1.6"/><circle cx="627.5" cy="448.9" r="1.6"/><circle cx="623.4" cy="453.9" r="1.6"/><circle cx="628.7" cy="454.5" r="1.6"/><circle cx="625.2" cy="455.9" r="1.6"/><circle cx="627.2" cy="456.8" r="1.6"/><circle cx="622.3" cy="458.9" r="1.6"/><circle cx="624.6" cy="459.4" r="1.6"/><circle cx="626.9" cy="459.1" r="1.6"/><circle cx="628.7" cy="461.2" r="1.6"/><circle cx="622.3" cy="463.5" r="1.6"/><circle cx="624.3" cy="464.7" r="1.6"/><circle cx="626.3" cy="467.0" r="1.6"/><circle cx="626.3" cy="469.4" r="1.6"/><circle cx="624.5" cy="457.5" r="1.6"/><circle cx="623.5" cy="460.5" r="1.6"/><circle cx="625.5" cy="462.0" r="1.6"/><circle cx="624.0" cy="454.8" r="1.6"/><circle cx="626.0" cy="411.0" r="1.6"/><circle cx="623.5" cy="433.5" r="1.6"/><circle cx="625.5" cy="434.5" r="1.6"/><circle cx="623.0" cy="437.0" r="1.6"/><circle cx="624.5" cy="455.0" r="1.6"/><circle cx="626.5" cy="457.5" r="1.6"/><circle cx="623.8" cy="459.8" r="1.6"/><circle cx="625.8" cy="460.8" r="1.6"/><circle cx="627.2" cy="447.5" r="1.6"/><circle cx="625.5" cy="420.0" r="1.6"/><circle cx="623.5" cy="428.8" r="1.6"/></g>
<text x="588.15" y="516.00" font-size="10.8" fill="#222" textLength="82.00" lengthAdjust="spacingAndGlyphs">Craving baseline</text>
<g clip-path="url(#c3)">
<path d="M99.20 567.10 C98.95 568.47 98.30 572.57 97.70 575.30 C97.10 578.03 96.45 580.60 95.60 583.50 C94.75 586.40 93.78 589.98 92.60 592.70 C91.42 595.42 90.03 597.60 88.50 599.80 C86.97 602.00 85.28 603.68 83.40 605.90 C81.52 608.12 78.73 610.88 77.20 613.10 C75.67 615.32 74.73 617.63 74.20 619.20 C73.67 620.77 73.92 621.17 74.00 622.50 C74.08 623.83 73.98 625.05 74.70 627.20 C75.42 629.35 77.28 632.67 78.30 635.40 C79.32 638.13 80.63 640.88 80.80 643.60 C80.97 646.32 80.23 648.98 79.30 651.70 C78.37 654.42 76.13 657.35 75.20 659.90 C74.27 662.45 73.70 664.62 73.70 667.00 C73.70 669.38 74.10 671.98 75.20 674.20 C76.30 676.42 78.52 678.43 80.30 680.30 C82.08 682.17 83.95 683.62 85.90 685.40 C87.85 687.18 89.43 689.40 92.00 691.00 C94.57 692.60 99.75 694.33 101.30 695.00 L101.20 695.00 L101.20 567.10 Z" fill="#dee2f0" stroke="none" stroke-width="1"/>
<path d="M99.20 567.10 C98.95 568.47 98.30 572.57 97.70 575.30 C97.10 578.03 96.45 580.60 95.60 583.50 C94.75 586.40 93.78 589.98 92.60 592.70 C91.42 595.42 90.03 597.60 88.50 599.80 C86.97 602.00 85.28 603.68 83.40 605.90 C81.52 608.12 78.73 610.88 77.20 613.10 C75.67 615.32 74.73 617.63 74.20 619.20 C73.67 620.77 73.92 621.17 74.00 622.50 C74.08 623.83 73.98 625.05 74.70 627.20 C75.42 629.35 77.28 632.67 78.30 635.40 C79.32 638.13 80.63 640.88 80.80 643.60 C80.97 646.32 80.23 648.98 79.30 651.70 C78.37 654.42 76.13 657.35 75.20 659.90 C74.27 662.45 73.70 664.62 73.70 667.00 C73.70 669.38 74.10 671.98 75.20 674.20 C76.30 676.42 78.52 678.43 80.30 680.30 C82.08 682.17 83.95 683.62 85.90 685.40 C87.85 687.18 89.43 689.40 92.00 691.00 C94.57 692.60 99.75 694.33 101.30 695.00" fill="none" stroke="#8099cf" stroke-width="1.5" stroke-linecap="round"/>
<line x1="101.20" y1="567.10" x2="101.20" y2="690.00" stroke="#8099cf" stroke-width="1.6"/>
<path d="M159.00 567.10 C159.53 569.32 160.98 575.97 162.20 580.40 C163.42 584.83 165.02 589.45 166.30 593.70 C167.58 597.95 169.00 602.18 169.90 605.90 C170.80 609.62 171.23 612.62 171.70 616.00 C172.17 619.38 172.32 622.80 172.70 626.20 C173.08 629.60 173.18 633.33 174.00 636.40 C174.82 639.47 176.33 642.05 177.60 644.60 C178.87 647.15 180.58 649.15 181.60 651.70 C182.62 654.25 183.52 657.52 183.70 659.90 C183.88 662.28 183.72 663.80 182.70 666.00 C181.68 668.20 179.65 670.72 177.60 673.10 C175.55 675.48 172.45 678.25 170.40 680.30 C168.35 682.35 167.03 683.78 165.30 685.40 C163.57 687.02 161.53 688.57 160.00 690.00 C158.47 691.43 156.75 693.33 156.10 694.00 L156.10 694.00 L156.10 567.10 Z" fill="#fdf0cb" stroke="none" stroke-width="1"/>
<path d="M159.00 567.10 C159.53 569.32 160.98 575.97 162.20 580.40 C163.42 584.83 165.02 589.45 166.30 593.70 C167.58 597.95 169.00 602.18 169.90 605.90 C170.80 609.62 171.23 612.62 171.70 616.00 C172.17 619.38 172.32 622.80 172.70 626.20 C173.08 629.60 173.18 633.33 174.00 636.40 C174.82 639.47 176.33 642.05 177.60 644.60 C178.87 647.15 180.58 649.15 181.60 651.70 C182.62 654.25 183.52 657.52 183.70 659.90 C183.88 662.28 183.72 663.80 182.70 666.00 C181.68 668.20 179.65 670.72 177.60 673.10 C175.55 675.48 172.45 678.25 170.40 680.30 C168.35 682.35 167.03 683.78 165.30 685.40 C163.57 687.02 161.53 688.57 160.00 690.00 C158.47 691.43 156.75 693.33 156.10 694.00" fill="none" stroke="#f9cf24" stroke-width="1.5" stroke-linecap="round"/>
<line x1="156.10" y1="567.10" x2="156.10" y2="690.00" stroke="#f9cf24" stroke-width="1.6"/>
<g fill="#3a3a3a" fill-opacity="0.5"><circle cx="107.7" cy="573.8" r="1.6"/><circle cx="114.7" cy="577.7" r="1.6"/><circle cx="113.6" cy="587.8" r="1.6"/><circle cx="115.3" cy="593.0" r="1.6"/><circle cx="115.6" cy="598.3" r="1.6"/><circle cx="116.6" cy="601.1" r="1.6"/><circle cx="106.6" cy="604.0" r="1.6"/><circle cx="109.2" cy="602.8" r="1.6"/><circle cx="114.5" cy="610.1" r="1.6"/><circle cx="112.7" cy="614.5" r="1.6"/><circle cx="116.2" cy="615.1" r="1.6"/><circle cx="107.4" cy="617.1" r="1.6"/><circle cx="111.4" cy="616.7" r="1.6"/><circle cx="114.0" cy="618.0" r="1.6"/><circle cx="108.3" cy="620.2" r="1.6"/><circle cx="113.1" cy="620.2" r="1.6"/><circle cx="106.1" cy="622.8" r="1.6"/><circle cx="110.5" cy="622.8" r="1.6"/><circle cx="113.1" cy="623.2" r="1.6"/><circle cx="106.3" cy="623.4" r="1.6"/><circle cx="109.1" cy="621.4" r="1.6"/><circle cx="112.5" cy="621.4" r="1.6"/><circle cx="113.5" cy="624.3" r="1.6"/><circle cx="107.2" cy="626.7" r="1.6"/><circle cx="111.5" cy="626.3" r="1.6"/><circle cx="108.7" cy="630.4" r="1.6"/><circle cx="112.5" cy="630.1" r="1.6"/><circle cx="116.8" cy="628.5" r="1.6"/><circle cx="108.5" cy="634.2" r="1.6"/><circle cx="113.9" cy="635.4" r="1.6"/><circle cx="114.4" cy="637.8" r="1.6"/><circle cx="108.5" cy="643.1" r="1.6"/><circle cx="106.7" cy="645.5" r="1.6"/><circle cx="106.0" cy="647.4" r="1.6"/><circle cx="112.5" cy="647.4" r="1.6"/><circle cx="115.9" cy="653.2" r="1.6"/><circle cx="106.3" cy="656.3" r="1.6"/><circle cx="107.7" cy="658.9" r="1.6"/><circle cx="111.5" cy="657.0" r="1.6"/><circle cx="113.5" cy="658.0" r="1.6"/><circle cx="114.9" cy="658.9" r="1.6"/><circle cx="111.3" cy="660.4" r="1.6"/><circle cx="113.5" cy="664.7" r="1.6"/><circle cx="116.5" cy="664.4" r="1.6"/><circle cx="106.7" cy="669.5" r="1.6"/><circle cx="107.7" cy="672.4" r="1.6"/><circle cx="106.3" cy="671.9" r="1.6"/><circle cx="113.5" cy="669.5" r="1.6"/><circle cx="116.3" cy="670.0" r="1.6"/><circle cx="115.9" cy="675.3" r="1.6"/><circle cx="113.5" cy="672.4" r="1.6"/><circle cx="107.2" cy="678.2" r="1.6"/><circle cx="112.0" cy="680.4" r="1.6"/><circle cx="116.8" cy="679.1" r="1.6"/><circle cx="143.8" cy="572.7" r="1.6"/><circle cx="141.3" cy="579.2" r="1.6"/><circle cx="149.5" cy="578.1" r="1.6"/><circle cx="139.9" cy="588.6" r="1.6"/><circle cx="143.4" cy="589.3" r="1.6"/><circle cx="140.3" cy="591.3" r="1.6"/><circle cx="140.7" cy="596.1" r="1.6"/><circle cx="140.5" cy="599.2" r="1.6"/><circle cx="141.2" cy="598.8" r="1.6"/><circle cx="150.4" cy="601.8" r="1.6"/><circle cx="142.9" cy="606.9" r="1.6"/><circle cx="146.4" cy="608.8" r="1.6"/><circle cx="145.1" cy="613.3" r="1.6"/><circle cx="146.0" cy="613.3" r="1.6"/><circle cx="150.4" cy="613.2" r="1.6"/><circle cx="140.7" cy="619.7" r="1.6"/><circle cx="143.8" cy="620.2" r="1.6"/><circle cx="147.3" cy="618.9" r="1.6"/><circle cx="141.2" cy="624.6" r="1.6"/><circle cx="144.7" cy="624.6" r="1.6"/><circle cx="140.4" cy="621.0" r="1.6"/><circle cx="144.2" cy="620.5" r="1.6"/><circle cx="147.1" cy="620.5" r="1.6"/><circle cx="141.3" cy="625.3" r="1.6"/><circle cx="144.7" cy="625.3" r="1.6"/><circle cx="140.9" cy="628.2" r="1.6"/><circle cx="140.4" cy="634.4" r="1.6"/><circle cx="142.3" cy="635.9" r="1.6"/><circle cx="147.6" cy="634.4" r="1.6"/><circle cx="150.0" cy="637.8" r="1.6"/><circle cx="140.4" cy="639.7" r="1.6"/><circle cx="139.4" cy="642.1" r="1.6"/><circle cx="141.3" cy="643.6" r="1.6"/><circle cx="141.3" cy="645.5" r="1.6"/><circle cx="145.2" cy="646.2" r="1.6"/><circle cx="149.0" cy="648.7" r="1.6"/><circle cx="147.1" cy="653.7" r="1.6"/><circle cx="144.2" cy="656.1" r="1.6"/><circle cx="149.0" cy="655.1" r="1.6"/><circle cx="146.2" cy="658.0" r="1.6"/><circle cx="147.6" cy="659.4" r="1.6"/><circle cx="140.9" cy="661.3" r="1.6"/><circle cx="141.3" cy="662.8" r="1.6"/><circle cx="145.2" cy="664.2" r="1.6"/><circle cx="148.1" cy="665.2" r="1.6"/><circle cx="139.4" cy="664.7" r="1.6"/><circle cx="141.3" cy="667.1" r="1.6"/><circle cx="147.1" cy="667.1" r="1.6"/><circle cx="149.5" cy="669.5" r="1.6"/><circle cx="144.2" cy="671.4" r="1.6"/><circle cx="147.6" cy="671.9" r="1.6"/><circle cx="146.2" cy="674.3" r="1.6"/><circle cx="148.6" cy="674.6" r="1.6"/><circle cx="140.4" cy="675.6" r="1.6"/><circle cx="149.5" cy="678.2" r="1.6"/><circle cx="145.2" cy="679.6" r="1.6"/></g>
<path d="M334.73 595.11 C334.16 595.90 332.14 598.12 331.32 599.86 C330.49 601.60 330.27 603.65 329.80 605.55 C329.32 607.45 329.64 609.35 328.47 611.24 C327.30 613.14 324.83 615.04 322.77 616.94 C320.72 618.83 318.19 620.73 316.13 622.63 C314.08 624.53 311.86 626.58 310.44 628.32 C309.01 630.06 307.91 631.80 307.59 633.07 C307.28 634.33 307.59 634.81 308.54 635.92 C309.49 637.02 311.23 638.45 313.29 639.71 C315.34 640.98 318.35 641.93 320.88 643.51 C323.41 645.09 326.41 647.30 328.47 649.20 C330.52 651.10 332.17 653.00 333.21 654.89 C334.26 656.79 334.48 659.64 334.73 660.59 L334.70 660.59 L334.70 595.11 Z" fill="#dee2f0" stroke="none" stroke-width="1"/>
<path d="M334.73 595.11 C334.16 595.90 332.14 598.12 331.32 599.86 C330.49 601.60 330.27 603.65 329.80 605.55 C329.32 607.45 329.64 609.35 328.47 611.24 C327.30 613.14 324.83 615.04 322.77 616.94 C320.72 618.83 318.19 620.73 316.13 622.63 C314.08 624.53 311.86 626.58 310.44 628.32 C309.01 630.06 307.91 631.80 307.59 633.07 C307.28 634.33 307.59 634.81 308.54 635.92 C309.49 637.02 311.23 638.45 313.29 639.71 C315.34 640.98 318.35 641.93 320.88 643.51 C323.41 645.09 326.41 647.30 328.47 649.20 C330.52 651.10 332.17 653.00 333.21 654.89 C334.26 656.79 334.48 659.64 334.73 660.59" fill="none" stroke="#8099cf" stroke-width="1.5" stroke-linecap="round"/>
<line x1="334.70" y1="595.11" x2="334.70" y2="660.59" stroke="#8099cf" stroke-width="1.6"/>
<path d="M390.34 567.59 C390.40 571.07 390.43 582.77 390.72 588.47 C391.00 594.16 391.19 598.27 392.05 601.75 C392.90 605.23 393.95 606.81 395.84 609.35 C397.74 611.88 400.75 614.41 403.44 616.94 C406.12 619.47 409.76 621.84 411.98 624.53 C414.19 627.22 416.56 630.54 416.72 633.07 C416.88 635.60 414.98 637.66 412.92 639.71 C410.87 641.77 407.23 643.51 404.38 645.41 C401.54 647.30 397.90 648.88 395.84 651.10 C393.79 653.31 392.90 655.53 392.05 658.69 C391.19 661.85 391.00 665.52 390.72 670.08 C390.43 674.63 390.40 681.59 390.34 686.02 C390.28 690.45 390.34 694.88 390.34 696.65 L390.00 696.65 L390.00 567.59 Z" fill="#fdf0cb" stroke="none" stroke-width="1"/>
<path d="M390.34 567.59 C390.40 571.07 390.43 582.77 390.72 588.47 C391.00 594.16 391.19 598.27 392.05 601.75 C392.90 605.23 393.95 606.81 395.84 609.35 C397.74 611.88 400.75 614.41 403.44 616.94 C406.12 619.47 409.76 621.84 411.98 624.53 C414.19 627.22 416.56 630.54 416.72 633.07 C416.88 635.60 414.98 637.66 412.92 639.71 C410.87 641.77 407.23 643.51 404.38 645.41 C401.54 647.30 397.90 648.88 395.84 651.10 C393.79 653.31 392.90 655.53 392.05 658.69 C391.19 661.85 391.00 665.52 390.72 670.08 C390.43 674.63 390.40 681.59 390.34 686.02 C390.28 690.45 390.34 694.88 390.34 696.65" fill="none" stroke="#f9cf24" stroke-width="1.5" stroke-linecap="round"/>
<line x1="390.00" y1="567.60" x2="390.00" y2="690.00" stroke="#f9cf24" stroke-width="1.6"/>
<g fill="#3a3a3a" fill-opacity="0.5"><circle cx="340.2" cy="604.3" r="1.6"/><circle cx="346.8" cy="605.3" r="1.6"/><circle cx="347.4" cy="605.8" r="1.6"/><circle cx="348.9" cy="609.9" r="1.6"/><circle cx="341.4" cy="611.2" r="1.6"/><circle cx="346.3" cy="613.7" r="1.6"/><circle cx="339.4" cy="616.7" r="1.6"/><circle cx="345.8" cy="617.0" r="1.6"/><circle cx="339.7" cy="619.6" r="1.6"/><circle cx="343.3" cy="621.8" r="1.6"/><circle cx="344.3" cy="622.7" r="1.6"/><circle cx="348.4" cy="623.5" r="1.6"/><circle cx="340.2" cy="624.5" r="1.6"/><circle cx="345.3" cy="627.2" r="1.6"/><circle cx="347.3" cy="628.3" r="1.6"/><circle cx="341.7" cy="627.8" r="1.6"/><circle cx="340.2" cy="630.8" r="1.6"/><circle cx="344.3" cy="630.8" r="1.6"/><circle cx="347.9" cy="631.8" r="1.6"/><circle cx="339.7" cy="633.9" r="1.6"/><circle cx="342.8" cy="634.9" r="1.6"/><circle cx="346.3" cy="633.9" r="1.6"/><circle cx="347.9" cy="635.4" r="1.6"/><circle cx="340.2" cy="637.4" r="1.6"/><circle cx="343.8" cy="638.0" r="1.6"/><circle cx="346.8" cy="637.4" r="1.6"/><circle cx="340.2" cy="640.0" r="1.6"/><circle cx="343.3" cy="640.0" r="1.6"/><circle cx="348.9" cy="642.6" r="1.6"/><circle cx="342.0" cy="646.1" r="1.6"/><circle cx="339.2" cy="648.2" r="1.6"/><circle cx="347.3" cy="647.1" r="1.6"/><circle cx="342.8" cy="651.2" r="1.6"/><circle cx="344.0" cy="622.0" r="1.6"/><circle cx="345.5" cy="628.0" r="1.6"/><circle cx="341.0" cy="634.0" r="1.6"/><circle cx="346.0" cy="636.0" r="1.6"/><circle cx="343.0" cy="626.0" r="1.6"/><circle cx="382.2" cy="572.7" r="1.6"/><circle cx="375.9" cy="587.1" r="1.6"/><circle cx="380.3" cy="591.0" r="1.6"/><circle cx="381.6" cy="600.2" r="1.6"/><circle cx="382.0" cy="611.2" r="1.6"/><circle cx="374.9" cy="611.9" r="1.6"/><circle cx="378.0" cy="611.9" r="1.6"/><circle cx="375.9" cy="616.7" r="1.6"/><circle cx="379.0" cy="616.7" r="1.6"/><circle cx="376.9" cy="620.6" r="1.6"/><circle cx="381.5" cy="620.1" r="1.6"/><circle cx="383.6" cy="622.7" r="1.6"/><circle cx="376.9" cy="624.7" r="1.6"/><circle cx="380.0" cy="625.7" r="1.6"/><circle cx="384.6" cy="627.2" r="1.6"/><circle cx="374.9" cy="629.3" r="1.6"/><circle cx="378.5" cy="630.3" r="1.6"/><circle cx="382.6" cy="630.8" r="1.6"/><circle cx="384.6" cy="631.8" r="1.6"/><circle cx="375.9" cy="633.9" r="1.6"/><circle cx="378.0" cy="634.9" r="1.6"/><circle cx="381.0" cy="634.9" r="1.6"/><circle cx="384.6" cy="634.9" r="1.6"/><circle cx="373.9" cy="639.0" r="1.6"/><circle cx="376.9" cy="640.0" r="1.6"/><circle cx="381.0" cy="640.0" r="1.6"/><circle cx="378.0" cy="642.0" r="1.6"/><circle cx="379.5" cy="645.1" r="1.6"/><circle cx="382.0" cy="647.7" r="1.6"/><circle cx="380.0" cy="657.3" r="1.6"/><circle cx="379.7" cy="657.7" r="1.6"/><circle cx="384.5" cy="661.0" r="1.6"/><circle cx="375.5" cy="662.9" r="1.6"/><circle cx="376.3" cy="667.8" r="1.6"/><circle cx="378.2" cy="680.0" r="1.6"/><circle cx="377.0" cy="633.0" r="1.6"/><circle cx="379.0" cy="636.0" r="1.6"/><circle cx="376.0" cy="638.0" r="1.6"/><circle cx="380.0" cy="628.0" r="1.6"/></g>
<path d="M559.77 567.57 C558.82 570.54 556.69 579.60 554.06 585.37 C551.43 591.13 546.90 597.40 543.99 602.16 C541.08 606.92 538.22 610.55 536.60 613.91 C534.98 617.27 533.97 619.23 534.25 622.31 C534.53 625.39 536.09 628.46 538.28 632.38 C540.46 636.30 544.43 640.78 547.34 645.81 C550.25 650.85 553.61 657.57 555.74 662.60 C557.87 667.64 559.10 672.40 560.10 676.03 C561.11 679.67 561.50 683.03 561.78 684.43 L561.60 684.43 L561.60 567.57 Z" fill="#dee2f0" stroke="none" stroke-width="1"/>
<path d="M559.77 567.57 C558.82 570.54 556.69 579.60 554.06 585.37 C551.43 591.13 546.90 597.40 543.99 602.16 C541.08 606.92 538.22 610.55 536.60 613.91 C534.98 617.27 533.97 619.23 534.25 622.31 C534.53 625.39 536.09 628.46 538.28 632.38 C540.46 636.30 544.43 640.78 547.34 645.81 C550.25 650.85 553.61 657.57 555.74 662.60 C557.87 667.64 559.10 672.40 560.10 676.03 C561.11 679.67 561.50 683.03 561.78 684.43" fill="none" stroke="#8099cf" stroke-width="1.5" stroke-linecap="round"/>
<line x1="561.60" y1="567.57" x2="561.60" y2="684.43" stroke="#8099cf" stroke-width="1.6"/>
<path d="M617.86 567.57 C619.26 569.98 623.18 577.37 626.26 582.01 C629.33 586.66 633.64 591.25 636.33 595.44 C639.02 599.64 641.14 603.56 642.37 607.20 C643.61 610.83 644.16 613.91 643.72 617.27 C643.27 620.63 642.04 623.71 639.69 627.34 C637.34 630.98 632.69 634.90 629.61 639.10 C626.54 643.29 623.18 647.49 621.22 652.53 C619.26 657.57 618.59 663.72 617.86 669.32 C617.13 674.91 617.08 680.51 616.85 686.11 C616.63 691.70 616.57 700.10 616.52 702.90 L616.40 702.90 L616.40 567.57 Z" fill="#fdf0cb" stroke="none" stroke-width="1"/>
<path d="M617.86 567.57 C619.26 569.98 623.18 577.37 626.26 582.01 C629.33 586.66 633.64 591.25 636.33 595.44 C639.02 599.64 641.14 603.56 642.37 607.20 C643.61 610.83 644.16 613.91 643.72 617.27 C643.27 620.63 642.04 623.71 639.69 627.34 C637.34 630.98 632.69 634.90 629.61 639.10 C626.54 643.29 623.18 647.49 621.22 652.53 C619.26 657.57 618.59 663.72 617.86 669.32 C617.13 674.91 617.08 680.51 616.85 686.11 C616.63 691.70 616.57 700.10 616.52 702.90" fill="none" stroke="#f9cf24" stroke-width="1.5" stroke-linecap="round"/>
<line x1="616.40" y1="567.60" x2="616.40" y2="690.00" stroke="#f9cf24" stroke-width="1.6"/>
<g fill="#3a3a3a" fill-opacity="0.5"><circle cx="577.1" cy="572.7" r="1.6"/><circle cx="573.6" cy="578.1" r="1.6"/><circle cx="568.7" cy="582.1" r="1.6"/><circle cx="570.5" cy="583.4" r="1.6"/><circle cx="573.6" cy="585.3" r="1.6"/><circle cx="567.7" cy="591.7" r="1.6"/><circle cx="577.1" cy="593.4" r="1.6"/><circle cx="576.2" cy="595.2" r="1.6"/><circle cx="574.4" cy="600.4" r="1.6"/><circle cx="572.2" cy="603.9" r="1.6"/><circle cx="572.2" cy="605.7" r="1.6"/><circle cx="567.7" cy="606.8" r="1.6"/><circle cx="577.1" cy="605.7" r="1.6"/><circle cx="575.3" cy="610.5" r="1.6"/><circle cx="569.4" cy="611.3" r="1.6"/><circle cx="573.6" cy="617.5" r="1.6"/><circle cx="577.1" cy="616.6" r="1.6"/><circle cx="567.9" cy="620.1" r="1.6"/><circle cx="570.5" cy="621.0" r="1.6"/><circle cx="577.1" cy="621.0" r="1.6"/><circle cx="567.0" cy="623.2" r="1.6"/><circle cx="574.0" cy="622.7" r="1.6"/><circle cx="567.2" cy="624.3" r="1.6"/><circle cx="569.6" cy="621.9" r="1.6"/><circle cx="572.5" cy="623.8" r="1.6"/><circle cx="576.3" cy="621.4" r="1.6"/><circle cx="577.3" cy="627.7" r="1.6"/><circle cx="572.0" cy="625.8" r="1.6"/><circle cx="567.2" cy="629.6" r="1.6"/><circle cx="569.1" cy="631.5" r="1.6"/><circle cx="575.4" cy="632.0" r="1.6"/><circle cx="568.7" cy="635.4" r="1.6"/><circle cx="572.5" cy="635.2" r="1.6"/><circle cx="575.4" cy="636.2" r="1.6"/><circle cx="568.7" cy="637.8" r="1.6"/><circle cx="570.6" cy="639.7" r="1.6"/><circle cx="575.4" cy="642.3" r="1.6"/><circle cx="566.7" cy="645.5" r="1.6"/><circle cx="570.6" cy="645.5" r="1.6"/><circle cx="574.2" cy="645.5" r="1.6"/><circle cx="573.9" cy="649.3" r="1.6"/><circle cx="570.1" cy="651.5" r="1.6"/><circle cx="567.7" cy="654.1" r="1.6"/><circle cx="571.5" cy="655.4" r="1.6"/><circle cx="573.5" cy="655.4" r="1.6"/><circle cx="568.8" cy="660.9" r="1.6"/><circle cx="572.5" cy="661.3" r="1.6"/><circle cx="575.9" cy="659.4" r="1.6"/><circle cx="568.5" cy="665.4" r="1.6"/><circle cx="607.2" cy="581.6" r="1.6"/><circle cx="603.7" cy="583.4" r="1.6"/><circle cx="607.7" cy="583.8" r="1.6"/><circle cx="601.5" cy="591.2" r="1.6"/><circle cx="604.6" cy="591.7" r="1.6"/><circle cx="605.5" cy="595.2" r="1.6"/><circle cx="600.2" cy="596.5" r="1.6"/><circle cx="607.7" cy="600.0" r="1.6"/><circle cx="609.0" cy="601.7" r="1.6"/><circle cx="609.8" cy="602.2" r="1.6"/><circle cx="601.1" cy="604.3" r="1.6"/><circle cx="604.6" cy="605.2" r="1.6"/><circle cx="606.3" cy="607.0" r="1.6"/><circle cx="600.2" cy="610.5" r="1.6"/><circle cx="604.2" cy="609.6" r="1.6"/><circle cx="607.2" cy="612.7" r="1.6"/><circle cx="602.0" cy="615.3" r="1.6"/><circle cx="607.7" cy="616.6" r="1.6"/><circle cx="600.2" cy="620.1" r="1.6"/><circle cx="604.2" cy="621.0" r="1.6"/><circle cx="601.5" cy="623.2" r="1.6"/><circle cx="608.5" cy="623.2" r="1.6"/><circle cx="600.4" cy="621.0" r="1.6"/><circle cx="604.2" cy="621.5" r="1.6"/><circle cx="601.3" cy="624.3" r="1.6"/><circle cx="608.1" cy="623.8" r="1.6"/><circle cx="601.8" cy="625.8" r="1.6"/><circle cx="606.2" cy="625.8" r="1.6"/><circle cx="609.0" cy="627.2" r="1.6"/><circle cx="607.1" cy="629.1" r="1.6"/><circle cx="610.5" cy="630.1" r="1.6"/><circle cx="600.9" cy="632.0" r="1.6"/><circle cx="602.8" cy="632.0" r="1.6"/><circle cx="600.9" cy="634.4" r="1.6"/><circle cx="607.6" cy="634.4" r="1.6"/><circle cx="608.6" cy="636.3" r="1.6"/><circle cx="610.5" cy="635.9" r="1.6"/><circle cx="602.3" cy="640.4" r="1.6"/><circle cx="606.2" cy="643.1" r="1.6"/><circle cx="607.6" cy="650.3" r="1.6"/><circle cx="610.0" cy="651.3" r="1.6"/><circle cx="603.5" cy="672.7" r="1.6"/><circle cx="603.5" cy="676.7" r="1.6"/><circle cx="605.2" cy="680.4" r="1.6"/></g>
</g>
<text x="-0.60" y="555.80" font-size="15.5" font-weight="bold" fill="#000" stroke="#000" stroke-width="0.35">i</text>
<line x1="32.60" y1="566.80" x2="32.60" y2="686.00" stroke="#8a8a8a" stroke-width="1.0"/>
<line x1="32.60" y1="678.80" x2="36.60" y2="678.80" stroke="#8a8a8a" stroke-width="0.9"/>
<text x="26.80" y="681.80" font-size="9.0" text-anchor="end" fill="#333">0</text>
<line x1="32.60" y1="656.50" x2="36.60" y2="656.50" stroke="#8a8a8a" stroke-width="0.9"/>
<text x="26.80" y="659.50" font-size="9.0" text-anchor="end" fill="#333">10</text>
<line x1="32.60" y1="634.20" x2="36.60" y2="634.20" stroke="#8a8a8a" stroke-width="0.9"/>
<text x="26.80" y="637.20" font-size="9.0" text-anchor="end" fill="#333">20</text>
<line x1="32.60" y1="611.90" x2="36.60" y2="611.90" stroke="#8a8a8a" stroke-width="0.9"/>
<text x="26.80" y="614.90" font-size="9.0" text-anchor="end" fill="#333">30</text>
<line x1="32.60" y1="589.60" x2="36.60" y2="589.60" stroke="#8a8a8a" stroke-width="0.9"/>
<text x="26.80" y="592.60" font-size="9.0" text-anchor="end" fill="#333">40</text>
<line x1="32.60" y1="567.30" x2="36.60" y2="567.30" stroke="#8a8a8a" stroke-width="0.9"/>
<text x="26.80" y="570.30" font-size="9.0" text-anchor="end" fill="#333">50</text>
<line x1="39.30" y1="685.60" x2="231.80" y2="685.60" stroke="#666" stroke-width="1.3"/>
<line x1="101.90" y1="562.40" x2="155.00" y2="562.40" stroke="#555" stroke-width="1.0"/>
<text x="108.40" y="558.6" font-size="10.6" fill="#222" textLength="43.40" lengthAdjust="spacingAndGlyphs"><tspan font-style="italic">P</tspan> = 0.776</text>
<text transform="translate(8.9 626.3) rotate(-90)" x="0" y="0" font-size="11" text-anchor="middle" fill="#222" textLength="81.5" lengthAdjust="spacingAndGlyphs">Craving baseline</text>
<text x="227.00" y="555.80" font-size="15.5" font-weight="bold" fill="#000" stroke="#000" stroke-width="0.35">j</text>
<line x1="266.50" y1="566.80" x2="266.50" y2="686.00" stroke="#8a8a8a" stroke-width="1.0"/>
<line x1="266.50" y1="567.50" x2="270.50" y2="567.50" stroke="#8a8a8a" stroke-width="0.9"/>
<text x="260.60" y="570.50" font-size="8.4" text-anchor="end" fill="#333">2.0</text>
<line x1="266.50" y1="584.50" x2="270.50" y2="584.50" stroke="#8a8a8a" stroke-width="0.9"/>
<text x="260.60" y="587.50" font-size="8.4" text-anchor="end" fill="#333">1.5</text>
<line x1="266.50" y1="601.50" x2="270.50" y2="601.50" stroke="#8a8a8a" stroke-width="0.9"/>
<text x="260.60" y="604.50" font-size="8.4" text-anchor="end" fill="#333">1.0</text>
<line x1="266.50" y1="618.50" x2="270.50" y2="618.50" stroke="#8a8a8a" stroke-width="0.9"/>
<text x="260.60" y="621.50" font-size="8.4" text-anchor="end" fill="#333">0.5</text>
<line x1="266.50" y1="635.50" x2="270.50" y2="635.50" stroke="#8a8a8a" stroke-width="0.9"/>
<text x="260.60" y="638.50" font-size="8.4" text-anchor="end" fill="#333">0</text>
<line x1="266.50" y1="652.50" x2="270.50" y2="652.50" stroke="#8a8a8a" stroke-width="0.9"/>
<text x="260.60" y="655.50" font-size="8.4" text-anchor="end" fill="#333">−0.5</text>
<line x1="266.50" y1="669.50" x2="270.50" y2="669.50" stroke="#8a8a8a" stroke-width="0.9"/>
<text x="260.60" y="672.50" font-size="8.4" text-anchor="end" fill="#333">−1.0</text>
<line x1="266.50" y1="685.60" x2="458.70" y2="685.60" stroke="#666" stroke-width="1.3"/>
<line x1="336.30" y1="562.40" x2="389.70" y2="562.40" stroke="#555" stroke-width="1.0"/>
<text x="340.80" y="558.6" font-size="10.6" fill="#222" textLength="46.30" lengthAdjust="spacingAndGlyphs"><tspan font-style="italic">P</tspan> = 0.364</text>
<g transform="translate(231.80 645.30) rotate(-90)"><text x="0" y="0" font-size="10.4" font-style="italic" fill="#222">w</text><text x="7.31" y="2.9" font-size="7.2" font-style="normal" fill="#222" textLength="30.89" lengthAdjust="spacingAndGlyphs">outcome</text></g>
<text x="454.60" y="555.80" font-size="15.5" font-weight="bold" fill="#000" stroke="#000" stroke-width="0.35">k</text>
<line x1="493.10" y1="566.80" x2="493.10" y2="686.00" stroke="#8a8a8a" stroke-width="1.0"/>
<line x1="493.10" y1="567.58" x2="497.10" y2="567.58" stroke="#8a8a8a" stroke-width="0.9"/>
<text x="487.60" y="570.58" font-size="8.8" text-anchor="end" fill="#333">0.4</text>
<line x1="493.10" y1="594.44" x2="497.10" y2="594.44" stroke="#8a8a8a" stroke-width="0.9"/>
<text x="487.60" y="597.44" font-size="8.8" text-anchor="end" fill="#333">0.2</text>
<line x1="493.10" y1="621.30" x2="497.10" y2="621.30" stroke="#8a8a8a" stroke-width="0.9"/>
<text x="487.60" y="624.30" font-size="8.8" text-anchor="end" fill="#333">0</text>
<line x1="493.10" y1="648.16" x2="497.10" y2="648.16" stroke="#8a8a8a" stroke-width="0.9"/>
<text x="487.60" y="651.16" font-size="8.8" text-anchor="end" fill="#333">−0.2</text>
<line x1="493.10" y1="675.02" x2="497.10" y2="675.02" stroke="#8a8a8a" stroke-width="0.9"/>
<text x="487.60" y="678.02" font-size="8.8" text-anchor="end" fill="#333">−0.4</text>
<line x1="493.10" y1="685.60" x2="685.00" y2="685.60" stroke="#666" stroke-width="1.3"/>
<line x1="561.80" y1="562.40" x2="615.50" y2="562.40" stroke="#555" stroke-width="1.0"/>
<text x="567.10" y="558.6" font-size="10.6" fill="#222" textLength="45.10" lengthAdjust="spacingAndGlyphs"><tspan font-style="italic">P</tspan> = 0.255</text>
<g transform="translate(459.90 634.30) rotate(-90)"><text x="0" y="0" font-size="10.4" font-style="italic" fill="#222">w</text><text x="7.31" y="2.9" font-size="6.2" font-style="normal" fill="#222" textLength="9.19" lengthAdjust="spacingAndGlyphs">EV</text></g></svg></body></html>
